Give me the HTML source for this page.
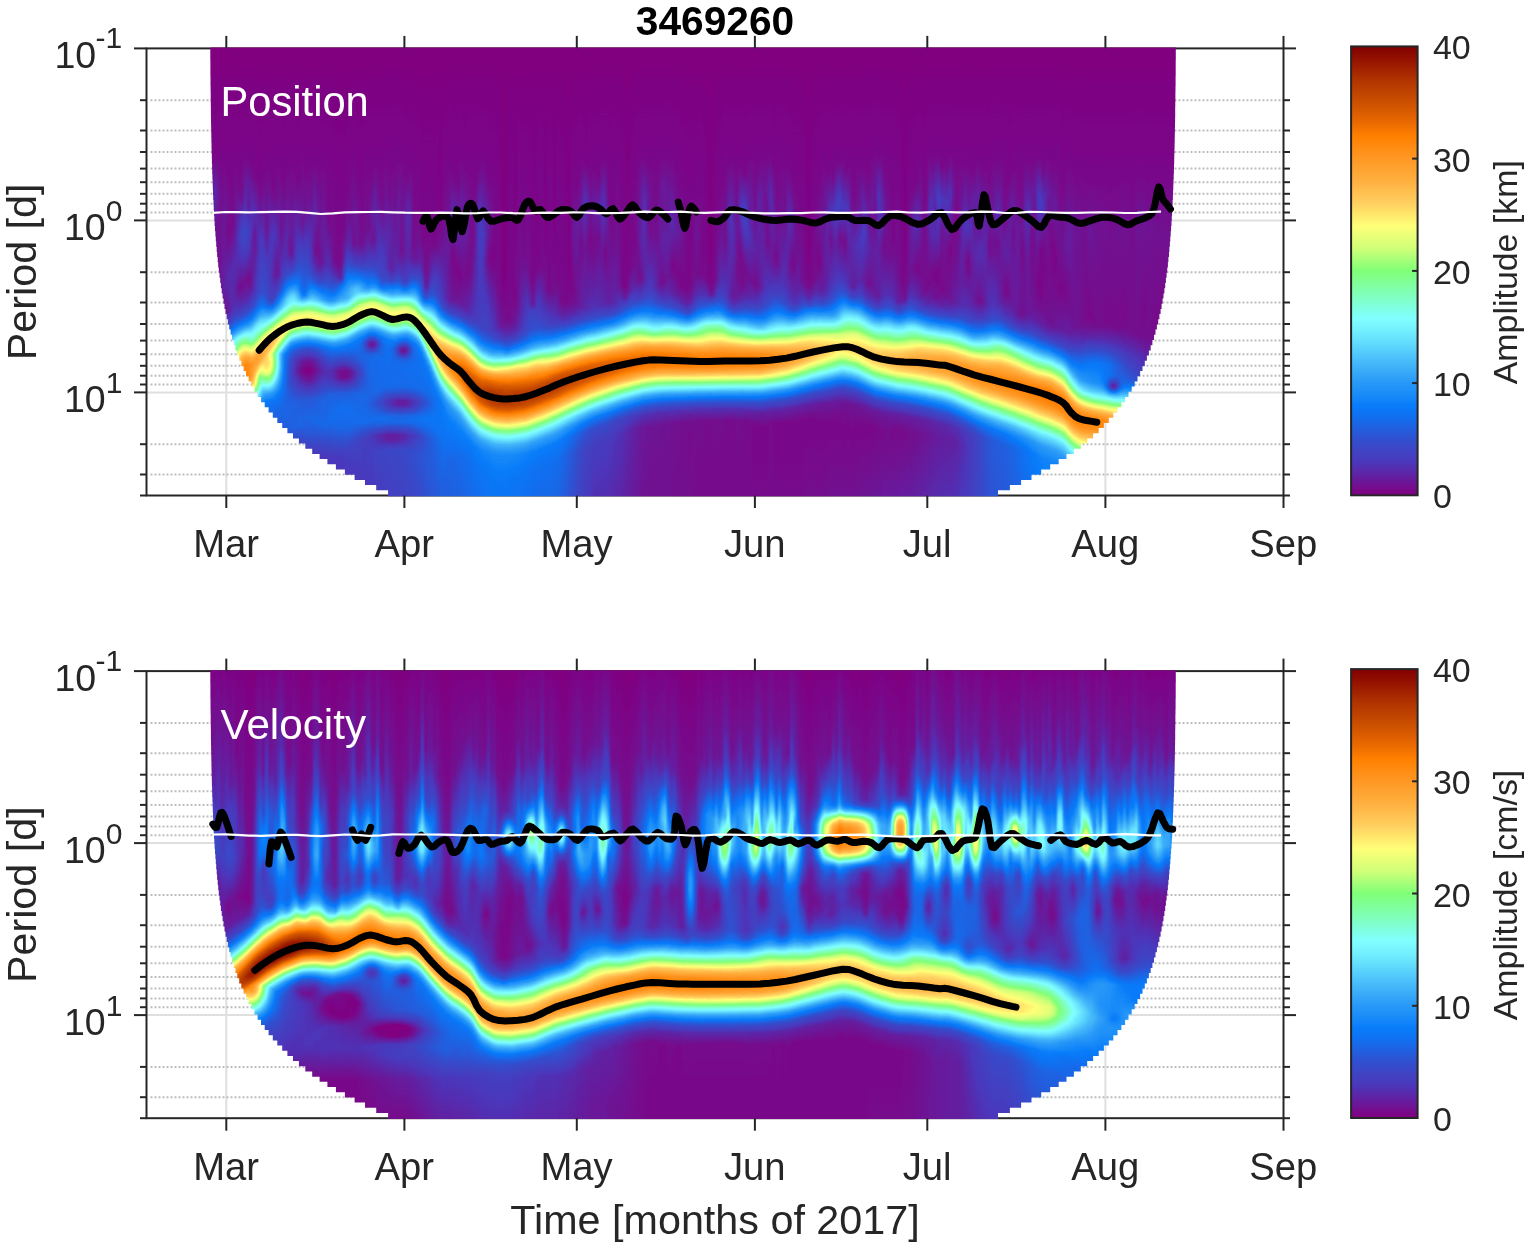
<!DOCTYPE html>
<html><head><meta charset="utf-8"><style>
html,body{margin:0;padding:0;background:#fff;}
#c{position:relative;width:1533px;height:1253px;overflow:hidden;background:#fff;}
svg{position:absolute;left:0;top:0;}
.fld{position:absolute;overflow:hidden;}
.fld{filter:url(#cm);}
.fld i{position:absolute;top:0;width:3px;height:100%;display:block;}
</style></head><body><div id="c">
<svg width="1533" height="1253" viewBox="0 0 1533 1253"><defs><filter id="cm" color-interpolation-filters="sRGB" x="0" y="0" width="1" height="1"><feGaussianBlur stdDeviation="1.3 0"/><feComponentTransfer><feFuncR type="table" tableValues="0.502 0.471 0.439 0.4 0.361 0.325 0.29 0.269 0.247 0.218 0.188 0.157 0.125 0.094 0.063 0.047 0.031 0.067 0.102 0.129 0.157 0.188 0.22 0.251 0.282 0.314 0.345 0.376 0.408 0.439 0.471 0.49 0.502 0.502 0.502 0.502 0.502 0.502 0.502 0.502 0.502 0.58 0.659 0.737 0.816 0.862 0.908 0.954 1 1 1 1 1 1 1 1 1 1 1 1 1 1 1 1 1 0.965 0.931 0.897 0.865 0.832 0.8 0.773 0.745 0.718 0.69 0.66 0.63 0.6 0.568 0.535 0.502"/><feFuncG type="table" tableValues="0 0.035 0.071 0.11 0.149 0.184 0.22 0.243 0.267 0.29 0.314 0.345 0.376 0.408 0.439 0.463 0.486 0.518 0.549 0.573 0.596 0.631 0.667 0.702 0.737 0.776 0.816 0.855 0.894 0.925 0.957 0.984 1 1 1 1 1 1 1 1 1 1 1 1 1 1 1 1 1 0.954 0.908 0.862 0.816 0.784 0.753 0.722 0.69 0.667 0.643 0.62 0.596 0.573 0.549 0.525 0.502 0.466 0.43 0.397 0.369 0.341 0.314 0.286 0.259 0.231 0.204 0.167 0.13 0.093 0.06 0.03 0"/><feFuncB type="table" tableValues="0.502 0.541 0.58 0.62 0.659 0.698 0.737 0.753 0.769 0.792 0.816 0.847 0.878 0.91 0.941 0.961 0.98 0.976 0.973 0.973 0.973 0.973 0.973 0.976 0.98 0.984 0.988 0.992 0.996 0.998 1 1 0.974 0.91 0.845 0.781 0.716 0.654 0.593 0.532 0.471 0.471 0.471 0.471 0.471 0.471 0.471 0.471 0.471 0.447 0.424 0.4 0.376 0.345 0.314 0.282 0.251 0.224 0.196 0.169 0.141 0.106 0.071 0.035 0 0 0 0 0 0 0 0 0 0 0 0 0 0 0 0 0"/></feComponentTransfer></filter></defs><line x1="226.3" y1="48.4" x2="226.3" y2="495.5" stroke="#dfdfdf" stroke-width="2"/>
<line x1="404.4" y1="48.4" x2="404.4" y2="495.5" stroke="#dfdfdf" stroke-width="2"/>
<line x1="576.8" y1="48.4" x2="576.8" y2="495.5" stroke="#dfdfdf" stroke-width="2"/>
<line x1="754.9" y1="48.4" x2="754.9" y2="495.5" stroke="#dfdfdf" stroke-width="2"/>
<line x1="927.3" y1="48.4" x2="927.3" y2="495.5" stroke="#dfdfdf" stroke-width="2"/>
<line x1="1105.4" y1="48.4" x2="1105.4" y2="495.5" stroke="#dfdfdf" stroke-width="2"/>
<line x1="146.5" y1="220.4" x2="1283.5" y2="220.4" stroke="#dfdfdf" stroke-width="2"/>
<line x1="146.5" y1="392.4" x2="1283.5" y2="392.4" stroke="#dfdfdf" stroke-width="2"/>
<line x1="150.5" y1="100.2" x2="1283.5" y2="100.2" stroke="#bdbdbd" stroke-width="2" stroke-dasharray="2 2"/>
<line x1="150.5" y1="130.5" x2="1283.5" y2="130.5" stroke="#bdbdbd" stroke-width="2" stroke-dasharray="2 2"/>
<line x1="150.5" y1="152.0" x2="1283.5" y2="152.0" stroke="#bdbdbd" stroke-width="2" stroke-dasharray="2 2"/>
<line x1="150.5" y1="168.6" x2="1283.5" y2="168.6" stroke="#bdbdbd" stroke-width="2" stroke-dasharray="2 2"/>
<line x1="150.5" y1="182.2" x2="1283.5" y2="182.2" stroke="#bdbdbd" stroke-width="2" stroke-dasharray="2 2"/>
<line x1="150.5" y1="193.8" x2="1283.5" y2="193.8" stroke="#bdbdbd" stroke-width="2" stroke-dasharray="2 2"/>
<line x1="150.5" y1="203.7" x2="1283.5" y2="203.7" stroke="#bdbdbd" stroke-width="2" stroke-dasharray="2 2"/>
<line x1="150.5" y1="212.5" x2="1283.5" y2="212.5" stroke="#bdbdbd" stroke-width="2" stroke-dasharray="2 2"/>
<line x1="150.5" y1="272.2" x2="1283.5" y2="272.2" stroke="#bdbdbd" stroke-width="2" stroke-dasharray="2 2"/>
<line x1="150.5" y1="302.5" x2="1283.5" y2="302.5" stroke="#bdbdbd" stroke-width="2" stroke-dasharray="2 2"/>
<line x1="150.5" y1="324.0" x2="1283.5" y2="324.0" stroke="#bdbdbd" stroke-width="2" stroke-dasharray="2 2"/>
<line x1="150.5" y1="340.6" x2="1283.5" y2="340.6" stroke="#bdbdbd" stroke-width="2" stroke-dasharray="2 2"/>
<line x1="150.5" y1="354.2" x2="1283.5" y2="354.2" stroke="#bdbdbd" stroke-width="2" stroke-dasharray="2 2"/>
<line x1="150.5" y1="365.8" x2="1283.5" y2="365.8" stroke="#bdbdbd" stroke-width="2" stroke-dasharray="2 2"/>
<line x1="150.5" y1="375.7" x2="1283.5" y2="375.7" stroke="#bdbdbd" stroke-width="2" stroke-dasharray="2 2"/>
<line x1="150.5" y1="384.5" x2="1283.5" y2="384.5" stroke="#bdbdbd" stroke-width="2" stroke-dasharray="2 2"/>
<line x1="150.5" y1="444.2" x2="1283.5" y2="444.2" stroke="#bdbdbd" stroke-width="2" stroke-dasharray="2 2"/>
<line x1="150.5" y1="474.5" x2="1283.5" y2="474.5" stroke="#bdbdbd" stroke-width="2" stroke-dasharray="2 2"/>
<line x1="226.3" y1="671.1" x2="226.3" y2="1118.2" stroke="#dfdfdf" stroke-width="2"/>
<line x1="404.4" y1="671.1" x2="404.4" y2="1118.2" stroke="#dfdfdf" stroke-width="2"/>
<line x1="576.8" y1="671.1" x2="576.8" y2="1118.2" stroke="#dfdfdf" stroke-width="2"/>
<line x1="754.9" y1="671.1" x2="754.9" y2="1118.2" stroke="#dfdfdf" stroke-width="2"/>
<line x1="927.3" y1="671.1" x2="927.3" y2="1118.2" stroke="#dfdfdf" stroke-width="2"/>
<line x1="1105.4" y1="671.1" x2="1105.4" y2="1118.2" stroke="#dfdfdf" stroke-width="2"/>
<line x1="146.5" y1="843.1" x2="1283.5" y2="843.1" stroke="#dfdfdf" stroke-width="2"/>
<line x1="146.5" y1="1015.1" x2="1283.5" y2="1015.1" stroke="#dfdfdf" stroke-width="2"/>
<line x1="150.5" y1="722.9" x2="1283.5" y2="722.9" stroke="#bdbdbd" stroke-width="2" stroke-dasharray="2 2"/>
<line x1="150.5" y1="753.2" x2="1283.5" y2="753.2" stroke="#bdbdbd" stroke-width="2" stroke-dasharray="2 2"/>
<line x1="150.5" y1="774.7" x2="1283.5" y2="774.7" stroke="#bdbdbd" stroke-width="2" stroke-dasharray="2 2"/>
<line x1="150.5" y1="791.3" x2="1283.5" y2="791.3" stroke="#bdbdbd" stroke-width="2" stroke-dasharray="2 2"/>
<line x1="150.5" y1="804.9" x2="1283.5" y2="804.9" stroke="#bdbdbd" stroke-width="2" stroke-dasharray="2 2"/>
<line x1="150.5" y1="816.5" x2="1283.5" y2="816.5" stroke="#bdbdbd" stroke-width="2" stroke-dasharray="2 2"/>
<line x1="150.5" y1="826.4" x2="1283.5" y2="826.4" stroke="#bdbdbd" stroke-width="2" stroke-dasharray="2 2"/>
<line x1="150.5" y1="835.2" x2="1283.5" y2="835.2" stroke="#bdbdbd" stroke-width="2" stroke-dasharray="2 2"/>
<line x1="150.5" y1="894.9" x2="1283.5" y2="894.9" stroke="#bdbdbd" stroke-width="2" stroke-dasharray="2 2"/>
<line x1="150.5" y1="925.2" x2="1283.5" y2="925.2" stroke="#bdbdbd" stroke-width="2" stroke-dasharray="2 2"/>
<line x1="150.5" y1="946.7" x2="1283.5" y2="946.7" stroke="#bdbdbd" stroke-width="2" stroke-dasharray="2 2"/>
<line x1="150.5" y1="963.3" x2="1283.5" y2="963.3" stroke="#bdbdbd" stroke-width="2" stroke-dasharray="2 2"/>
<line x1="150.5" y1="976.9" x2="1283.5" y2="976.9" stroke="#bdbdbd" stroke-width="2" stroke-dasharray="2 2"/>
<line x1="150.5" y1="988.5" x2="1283.5" y2="988.5" stroke="#bdbdbd" stroke-width="2" stroke-dasharray="2 2"/>
<line x1="150.5" y1="998.4" x2="1283.5" y2="998.4" stroke="#bdbdbd" stroke-width="2" stroke-dasharray="2 2"/>
<line x1="150.5" y1="1007.2" x2="1283.5" y2="1007.2" stroke="#bdbdbd" stroke-width="2" stroke-dasharray="2 2"/>
<line x1="150.5" y1="1066.9" x2="1283.5" y2="1066.9" stroke="#bdbdbd" stroke-width="2" stroke-dasharray="2 2"/>
<line x1="150.5" y1="1097.2" x2="1283.5" y2="1097.2" stroke="#bdbdbd" stroke-width="2" stroke-dasharray="2 2"/><rect x="146.5" y="48.4" width="1137.0" height="447.1" fill="none" stroke="#262626" stroke-width="2"/>
<rect x="146.5" y="671.1" width="1137.0" height="447.1" fill="none" stroke="#262626" stroke-width="2"/></svg>
<div class="fld" style="left:205px;top:47px;width:977px;height:451px;clip-path:polygon(5.3px 0.5px,5.3px 8.1px,5.3px 8.1px,5.3px 13.3px,5.4px 13.3px,5.4px 18.5px,5.4px 18.5px,5.4px 23.6px,5.4px 23.6px,5.4px 28.8px,5.5px 28.8px,5.5px 34.0px,5.5px 34.0px,5.5px 39.2px,5.6px 39.2px,5.6px 44.4px,5.7px 44.4px,5.7px 49.5px,5.7px 49.5px,5.7px 54.7px,5.8px 54.7px,5.8px 59.9px,5.9px 59.9px,5.9px 65.1px,5.9px 65.1px,5.9px 70.3px,6.0px 70.3px,6.0px 75.4px,6.1px 75.4px,6.1px 80.6px,6.2px 80.6px,6.2px 85.8px,6.3px 85.8px,6.3px 91.0px,6.4px 91.0px,6.4px 96.2px,6.5px 96.2px,6.5px 101.3px,6.6px 101.3px,6.6px 106.5px,6.8px 106.5px,6.8px 111.7px,6.9px 111.7px,6.9px 116.9px,7.1px 116.9px,7.1px 122.1px,7.2px 122.1px,7.2px 127.2px,7.4px 127.2px,7.4px 132.4px,7.6px 132.4px,7.6px 137.6px,7.8px 137.6px,7.8px 142.8px,8.0px 142.8px,8.0px 148.0px,8.2px 148.0px,8.2px 153.1px,8.5px 153.1px,8.5px 158.3px,8.7px 158.3px,8.7px 163.5px,9.0px 163.5px,9.0px 168.7px,9.3px 168.7px,9.3px 173.9px,9.6px 173.9px,9.6px 179.0px,10.0px 179.0px,10.0px 184.2px,10.4px 184.2px,10.4px 189.4px,10.8px 189.4px,10.8px 194.6px,11.2px 194.6px,11.2px 199.8px,11.7px 199.8px,11.7px 204.9px,12.1px 204.9px,12.1px 210.1px,12.7px 210.1px,12.7px 215.3px,13.2px 215.3px,13.2px 220.5px,13.8px 220.5px,13.8px 225.7px,14.5px 225.7px,14.5px 230.8px,15.2px 230.8px,15.2px 236.0px,15.9px 236.0px,15.9px 241.2px,16.7px 241.2px,16.7px 246.4px,17.6px 246.4px,17.6px 251.6px,18.5px 251.6px,18.5px 256.7px,19.5px 256.7px,19.5px 261.9px,20.5px 261.9px,20.5px 267.1px,21.7px 267.1px,21.7px 272.3px,22.9px 272.3px,22.9px 277.5px,24.2px 277.5px,24.2px 282.6px,25.6px 282.6px,25.6px 287.8px,27.1px 287.8px,27.1px 293.0px,28.7px 293.0px,28.7px 298.2px,30.4px 298.2px,30.4px 303.4px,32.2px 303.4px,32.2px 308.5px,34.2px 308.5px,34.2px 313.7px,36.3px 313.7px,36.3px 318.9px,38.6px 318.9px,38.6px 324.1px,41.0px 324.1px,41.0px 329.3px,43.6px 329.3px,43.6px 334.4px,46.4px 334.4px,46.4px 339.6px,49.4px 339.6px,49.4px 344.8px,52.6px 344.8px,52.6px 350.0px,56.0px 350.0px,56.0px 355.2px,59.7px 355.2px,59.7px 360.3px,63.6px 360.3px,63.6px 365.5px,67.8px 365.5px,67.8px 370.7px,72.3px 370.7px,72.3px 375.9px,77.2px 375.9px,77.2px 381.1px,82.4px 381.1px,82.4px 386.2px,88.0px 386.2px,88.0px 391.4px,93.9px 391.4px,93.9px 396.6px,100.3px 396.6px,100.3px 401.8px,107.2px 401.8px,107.2px 407.0px,114.6px 407.0px,114.6px 412.1px,122.4px 412.1px,122.4px 417.3px,130.9px 417.3px,130.9px 422.5px,139.9px 422.5px,139.9px 427.7px,149.6px 427.7px,149.6px 432.9px,160.0px 432.9px,160.0px 438.0px,171.2px 438.0px,171.2px 443.2px,183.1px 443.2px,183.1px 449.3px,793.0px 449.3px,793.0px 443.2px,804.9px 443.2px,804.9px 438.0px,816.1px 438.0px,816.1px 432.9px,826.5px 432.9px,826.5px 427.7px,836.2px 427.7px,836.2px 422.5px,845.2px 422.5px,845.2px 417.3px,853.7px 417.3px,853.7px 412.1px,861.5px 412.1px,861.5px 407.0px,868.9px 407.0px,868.9px 401.8px,875.8px 401.8px,875.8px 396.6px,882.2px 396.6px,882.2px 391.4px,888.1px 391.4px,888.1px 386.2px,893.7px 386.2px,893.7px 381.1px,898.9px 381.1px,898.9px 375.9px,903.8px 375.9px,903.8px 370.7px,908.3px 370.7px,908.3px 365.5px,912.5px 365.5px,912.5px 360.3px,916.4px 360.3px,916.4px 355.2px,920.1px 355.2px,920.1px 350.0px,923.5px 350.0px,923.5px 344.8px,926.7px 344.8px,926.7px 339.6px,929.7px 339.6px,929.7px 334.4px,932.5px 334.4px,932.5px 329.3px,935.1px 329.3px,935.1px 324.1px,937.5px 324.1px,937.5px 318.9px,939.8px 318.9px,939.8px 313.7px,941.9px 313.7px,941.9px 308.5px,943.9px 308.5px,943.9px 303.4px,945.7px 303.4px,945.7px 298.2px,947.4px 298.2px,947.4px 293.0px,949.0px 293.0px,949.0px 287.8px,950.5px 287.8px,950.5px 282.6px,951.9px 282.6px,951.9px 277.5px,953.2px 277.5px,953.2px 272.3px,954.4px 272.3px,954.4px 267.1px,955.6px 267.1px,955.6px 261.9px,956.6px 261.9px,956.6px 256.7px,957.6px 256.7px,957.6px 251.6px,958.5px 251.6px,958.5px 246.4px,959.4px 246.4px,959.4px 241.2px,960.2px 241.2px,960.2px 236.0px,960.9px 236.0px,960.9px 230.8px,961.6px 230.8px,961.6px 225.7px,962.3px 225.7px,962.3px 220.5px,962.9px 220.5px,962.9px 215.3px,963.4px 215.3px,963.4px 210.1px,964.0px 210.1px,964.0px 204.9px,964.4px 204.9px,964.4px 199.8px,964.9px 199.8px,964.9px 194.6px,965.3px 194.6px,965.3px 189.4px,965.7px 189.4px,965.7px 184.2px,966.1px 184.2px,966.1px 179.0px,966.5px 179.0px,966.5px 173.9px,966.8px 173.9px,966.8px 168.7px,967.1px 168.7px,967.1px 163.5px,967.4px 163.5px,967.4px 158.3px,967.6px 158.3px,967.6px 153.1px,967.9px 153.1px,967.9px 148.0px,968.1px 148.0px,968.1px 142.8px,968.3px 142.8px,968.3px 137.6px,968.5px 137.6px,968.5px 132.4px,968.7px 132.4px,968.7px 127.2px,968.9px 127.2px,968.9px 122.1px,969.0px 122.1px,969.0px 116.9px,969.2px 116.9px,969.2px 111.7px,969.3px 111.7px,969.3px 106.5px,969.5px 106.5px,969.5px 101.3px,969.6px 101.3px,969.6px 96.2px,969.7px 96.2px,969.7px 91.0px,969.8px 91.0px,969.8px 85.8px,969.9px 85.8px,969.9px 80.6px,970.0px 80.6px,970.0px 75.4px,970.1px 75.4px,970.1px 70.3px,970.2px 70.3px,970.2px 65.1px,970.2px 65.1px,970.2px 59.9px,970.3px 59.9px,970.3px 54.7px,970.4px 54.7px,970.4px 49.5px,970.4px 49.5px,970.4px 44.4px,970.5px 44.4px,970.5px 39.2px,970.6px 39.2px,970.6px 34.0px,970.6px 34.0px,970.6px 28.8px,970.7px 28.8px,970.7px 23.6px,970.7px 23.6px,970.7px 18.5px,970.7px 18.5px,970.7px 13.3px,970.8px 13.3px,970.8px 8.1px,970.8px 8.1px,970.8px 0.5px)">
<i style="left:0px;background:linear-gradient(#000000,#030303 140px,#090909 210px,#080808 240px,#181818 278px,#272727 289px,#404040 297px,#787878 313px,#acacac 327px,#b7b7b7 333px,#b5b5b5 339px,#a3a3a3 346px,#484848 367px,#313131 376px,#1b1b1b 394px,#101010 412px,#0d0d0d 450px)"></i>
<i style="left:3px;background:linear-gradient(#000000,#030303 133px,#050505 177px,#0a0a0a 210px,#0e0e0e 255px,#191919 277px,#292929 288px,#424242 296px,#7f7f7f 314px,#aeaeae 327px,#b8b8b8 333px,#b4b4b4 339px,#a2a2a2 346px,#4b4b4b 366px,#343434 374px,#1f1f1f 389px,#101010 410px,#0d0d0d 450px)"></i>
<i style="left:6px;background:linear-gradient(#000000,#030303 112px,#0b0b0b 151px,#0a0a0a 230px,#141414 270px,#222222 283px,#383838 292px,#515151 299px,#777777 311px,#afafaf 327px,#b8b8b8 333px,#b4b4b4 339px,#a0a0a0 346px,#494949 366px,#333333 374px,#1d1d1d 391px,#101010 411px,#0d0d0d 450px)"></i>
<i style="left:9px;background:linear-gradient(#000000,#020202 109px,#0e0e0e 144px,#070707 177px,#050505 206px,#060606 224px,#131313 270px,#232323 283px,#3b3b3b 292px,#555555 299px,#7d7d7d 312px,#aeaeae 326px,#b8b8b8 332px,#b5b5b5 338px,#a3a3a3 345px,#4b4b4b 365px,#343434 373px,#1f1f1f 389px,#101010 410px,#0d0d0d 450px)"></i>
<i style="left:12px;background:linear-gradient(#000000,#030303 111px,#080808 146px,#060606 178px,#050505 206px,#040404 222px,#0b0b0b 252px,#101010 270px,#212121 282px,#393939 291px,#545454 298px,#7c7c7c 311px,#b0b0b0 326px,#b9b9b9 332px,#b5b5b5 338px,#a1a1a1 345px,#4a4a4a 365px,#343434 373px,#1e1e1e 390px,#101010 410px,#0d0d0d 450px)"></i>
<i style="left:15px;background:linear-gradient(#000000,#030303 125px,#060606 173px,#090909 250px,#0a0a0a 266px,#1a1a1a 279px,#343434 289px,#565656 298px,#7d7d7d 311px,#b1b1b1 326px,#b9b9b9 332px,#b5b5b5 338px,#a0a0a0 345px,#4c4c4c 364px,#353535 372px,#202020 388px,#101010 410px,#0d0d0d 450px)"></i>
<i style="left:18px;background:linear-gradient(#000000,#030303 117px,#080808 160px,#080808 197px,#0c0c0c 240px,#060606 264px,#161616 277px,#2f2f2f 287px,#555555 297px,#7c7c7c 310px,#b0b0b0 325px,#bababa 331px,#b6b6b6 337px,#a2a2a2 344px,#4a4a4a 364px,#343434 372px,#1f1f1f 389px,#101010 410px,#0d0d0d 450px)"></i>
<i style="left:21px;background:linear-gradient(#000000,#030303 129px,#060606 162px,#030303 187px,#0e0e0e 229px,#080808 264px,#161616 276px,#2e2e2e 286px,#545454 296px,#777777 308px,#b0b0b0 324px,#bababa 330px,#b7b7b7 336px,#a3a3a3 343px,#4b4b4b 363px,#343434 371px,#212121 387px,#101010 410px,#0d0d0d 450px)"></i>
<i style="left:24px;background:linear-gradient(#000000,#030303 120px,#040404 163px,#050505 187px,#0f0f0f 228px,#0d0d0d 263px,#191919 275px,#313131 285px,#555555 295px,#6f6f6f 305px,#b0b0b0 323px,#bababa 329px,#b7b7b7 335px,#a4a4a4 342px,#4c4c4c 362px,#343434 370px,#222222 386px,#101010 410px,#0d0d0d 450px)"></i>
<i style="left:27px;background:linear-gradient(#000000,#030303 124px,#040404 179px,#0f0f0f 218px,#0e0e0e 258px,#181818 271px,#2d2d2d 281px,#525252 291px,#5d5d5d 294px,#797979 307px,#b1b1b1 322px,#bbbbbb 328px,#b7b7b7 334px,#a4a4a4 341px,#4c4c4c 361px,#353535 369px,#242424 383px,#111111 409px,#0d0d0d 450px)"></i>
<i style="left:30px;background:linear-gradient(#000000,#030303 115px,#0c0c0c 183px,#101010 212px,#0a0a0a 245px,#141414 265px,#262626 276px,#434343 285px,#666666 293px,#8c8c8c 308px,#a0a0a0 316px,#b6b6b6 323px,#bbbbbb 329px,#b4b4b4 335px,#989898 343px,#4c4c4c 360px,#353535 368px,#262626 380px,#111111 409px,#0d0d0d 450px)"></i>
<i style="left:33px;background:linear-gradient(#000000,#030303 142px,#161616 190px,#0f0f0f 217px,#040404 241px,#141414 264px,#282828 275px,#474747 284px,#6c6c6c 292px,#9f9f9f 308px,#b1b1b1 317px,#bcbcbc 327px,#b6b6b6 333px,#a0a0a0 340px,#4c4c4c 359px,#353535 367px,#272727 378px,#111111 409px,#0d0d0d 450px)"></i>
<i style="left:36px;background:linear-gradient(#000000,#030303 114px,#060606 151px,#1b1b1b 184px,#171717 203px,#040404 239px,#101010 258px,#222222 271px,#3c3c3c 280px,#6d6d6d 291px,#b1b1b1 310px,#c1c1c1 318px,#c3c3c3 328px,#b7b7b7 335px,#999999 343px,#4c4c4c 359px,#353535 366px,#292929 375px,#101010 410px,#0d0d0d 450px)"></i>
<i style="left:39px;background:linear-gradient(#000000,#030303 111px,#151515 168px,#1c1c1c 189px,#060606 233px,#0d0d0d 252px,#1e1e1e 267px,#373737 277px,#5d5d5d 286px,#b9b9b9 311px,#c7c7c7 318px,#c9c9c9 327px,#bebebe 334px,#a6a6a6 341px,#494949 360px,#333333 367px,#282828 376px,#101010 410px,#0d0d0d 450px)"></i>
<i style="left:42px;background:linear-gradient(#000000,#030303 110px,#0a0a0a 142px,#080808 159px,#171717 184px,#131313 204px,#030303 234px,#121212 256px,#282828 270px,#424242 279px,#606060 286px,#7b7b7b 295px,#b9b9b9 311px,#c7c7c7 318px,#c7c7c7 328px,#bbbbbb 335px,#9d9d9d 343px,#4d4d4d 359px,#353535 366px,#292929 374px,#101010 410px,#0d0d0d 450px)"></i>
<i style="left:45px;background:linear-gradient(#000000,#030303 119px,#0e0e0e 154px,#131313 179px,#070707 227px,#080808 240px,#1a1a1a 259px,#303030 271px,#4d4d4d 280px,#5b5b5b 284px,#6f6f6f 293px,#b3b3b3 311px,#c0c0c0 318px,#bebebe 329px,#b0b0b0 336px,#929292 344px,#4b4b4b 359px,#323232 367px,#272727 377px,#101010 410px,#0d0d0d 450px)"></i>
<i style="left:48px;background:linear-gradient(#000000,#030303 129px,#111111 167px,#060606 189px,#080808 200px,#0d0d0d 225px,#111111 245px,#212121 260px,#3a3a3a 271px,#5b5b5b 281px,#717171 291px,#9a9a9a 302px,#b6b6b6 310px,#bdbdbd 316px,#b7b7b7 322px,#adadad 328px,#a0a0a0 336px,#808080 345px,#454545 359px,#303030 367px,#252525 380px,#101010 410px,#0d0d0d 450px)"></i>
<i style="left:51px;background:linear-gradient(#000000,#030303 131px,#0f0f0f 175px,#0e0e0e 203px,#181818 245px,#282828 259px,#3f3f3f 269px,#595959 277px,#6c6c6c 286px,#8f8f8f 296px,#b1b1b1 305px,#bcbcbc 311px,#b8b8b8 317px,#a4a4a4 324px,#929292 329px,#838383 338px,#585858 351px,#373737 362px,#2a2a2a 371px,#101010 411px,#0d0d0d 450px)"></i>
<i style="left:54px;background:linear-gradient(#000000,#030303 149px,#131313 192px,#1d1d1d 244px,#2c2c2c 258px,#454545 268px,#575757 274px,#6b6b6b 283px,#959595 294px,#b2b2b2 302px,#b9b9b9 308px,#b3b3b3 314px,#919191 324px,#777777 332px,#333333 361px,#282828 372px,#1a1a1a 395px,#101010 413px,#0d0d0d 450px)"></i>
<i style="left:57px;background:linear-gradient(#000000,#030303 131px,#1f1f1f 246px,#2d2d2d 258px,#464646 267px,#656565 279px,#acacac 297px,#b7b7b7 303px,#b2b2b2 309px,#a1a1a1 317px,#979797 324px,#787878 333px,#4d4d4d 344px,#383838 353px,#2a2a2a 366px,#1f1f1f 389px,#101010 411px,#0d0d0d 450px)"></i>
<i style="left:60px;background:linear-gradient(#000000,#030303 117px,#070707 157px,#050505 183px,#151515 213px,#1d1d1d 249px,#2a2a2a 258px,#5e5e5e 275px,#a9a9a9 293px,#b4b4b4 299px,#afafaf 305px,#a4a4a4 310px,#a3a3a3 319px,#959595 326px,#6e6e6e 336px,#434343 347px,#303030 355px,#282828 369px,#212121 387px,#101010 410px,#0d0d0d 450px)"></i>
<i style="left:63px;background:linear-gradient(#000000,#030303 123px,#111111 199px,#181818 251px,#222222 257px,#585858 272px,#a1a1a1 288px,#b0b0b0 294px,#b1b1b1 299px,#a3a3a3 305px,#9b9b9b 307px,#a0a0a0 316px,#999999 323px,#808080 331px,#444444 346px,#313131 354px,#282828 366px,#222222 385px,#101010 410px,#0d0d0d 450px)"></i>
<i style="left:66px;background:linear-gradient(#000000,#030303 142px,#141414 190px,#0f0f0f 230px,#181818 253px,#2a2a2a 259px,#5b5b5b 271px,#9d9d9d 285px,#adadad 291px,#adadad 296px,#9e9e9e 302px,#8b8b8b 307px,#929292 315px,#8b8b8b 323px,#717171 332px,#404040 346px,#2f2f2f 355px,#282828 370px,#222222 386px,#101010 410px,#0d0d0d 450px)"></i>
<i style="left:69px;background:linear-gradient(#000000,#040404 150px,#121212 187px,#0a0a0a 215px,#080808 228px,#1a1a1a 249px,#2b2b2b 256px,#4f4f4f 266px,#9b9b9b 282px,#a9a9a9 287px,#ababab 292px,#a0a0a0 297px,#7c7c7c 305px,#757575 307px,#7b7b7b 316px,#717171 325px,#383838 347px,#2b2b2b 358px,#232323 384px,#101010 410px,#0d0d0d 450px)"></i>
<i style="left:72px;background:linear-gradient(#000000,#030303 118px,#0e0e0e 194px,#090909 227px,#1b1b1b 244px,#2f2f2f 253px,#4e4e4e 263px,#999999 279px,#a6a6a6 284px,#a7a7a7 289px,#9a9a9a 294px,#6f6f6f 303px,#5f5f5f 306px,#5d5d5d 308px,#5f5f5f 319px,#515151 330px,#323232 347px,#292929 362px,#242424 383px,#101010 410px,#0d0d0d 450px)"></i>
<i style="left:75px;background:linear-gradient(#000000,#030303 131px,#080808 163px,#050505 182px,#141414 230px,#262626 244px,#525252 261px,#999999 277px,#a4a4a4 282px,#a1a1a1 287px,#8d8d8d 293px,#464646 307px,#434343 323px,#2c2c2c 349px,#252525 383px,#101010 410px,#0d0d0d 450px)"></i>
<i style="left:78px;background:linear-gradient(#000000,#030303 140px,#090909 176px,#131313 219px,#242424 236px,#3a3a3a 247px,#494949 252px,#565656 259px,#767676 267px,#989898 275px,#a1a1a1 280px,#9c9c9c 285px,#848484 291px,#454545 303px,#333333 308px,#292929 353px,#262626 381px,#101010 410px,#0d0d0d 450px)"></i>
<i style="left:81px;background:linear-gradient(#000000,#030303 121px,#0d0d0d 180px,#0e0e0e 209px,#1d1d1d 227px,#363636 241px,#525252 251px,#5d5d5d 258px,#7c7c7c 266px,#989898 273px,#a0a0a0 278px,#989898 283px,#7d7d7d 289px,#424242 300px,#2b2b2b 307px,#252525 315px,#232323 336px,#292929 369px,#242424 384px,#101010 410px,#0d0d0d 450px)"></i>
<i style="left:84px;background:linear-gradient(#000000,#030303 120px,#090909 186px,#050505 204px,#181818 223px,#313131 237px,#4f4f4f 247px,#565656 250px,#626262 257px,#999999 271px,#9f9f9f 276px,#959595 281px,#777777 287px,#404040 297px,#292929 304px,#1e1e1e 312px,#1a1a1a 327px,#282828 358px,#262626 381px,#101010 410px,#0d0d0d 450px)"></i>
<i style="left:87px;background:linear-gradient(#000000,#030303 114px,#070707 153px,#0a0a0a 175px,#0b0b0b 207px,#1c1c1c 224px,#373737 238px,#555555 248px,#606060 255px,#838383 264px,#999999 270px,#9e9e9e 275px,#939393 280px,#6f6f6f 287px,#3d3d3d 296px,#262626 303px,#161616 314px,#131313 327px,#272727 356px,#272727 380px,#101010 410px,#0d0d0d 450px)"></i>
<i style="left:90px;background:linear-gradient(#000000,#030303 132px,#111111 191px,#191919 215px,#2d2d2d 233px,#454545 244px,#4e4e4e 248px,#5a5a5a 254px,#959595 268px,#9e9e9e 273px,#9a9a9a 277px,#868686 282px,#3e3e3e 295px,#252525 302px,#121212 313px,#0c0c0c 324px,#171717 338px,#262626 355px,#282828 379px,#101010 410px,#0d0d0d 450px)"></i>
<i style="left:93px;background:linear-gradient(#000000,#030303 135px,#0d0d0d 182px,#242424 226px,#353535 242px,#4c4c4c 252px,#777777 261px,#969696 268px,#9d9d9d 273px,#979797 277px,#838383 282px,#3f3f3f 294px,#252525 301px,#0f0f0f 312px,#070707 323px,#0f0f0f 334px,#242424 353px,#292929 376px,#171717 399px,#101010 414px,#0d0d0d 450px)"></i>
<i style="left:96px;background:linear-gradient(#000000,#030303 112px,#080808 158px,#070707 176px,#242424 229px,#2a2a2a 244px,#363636 249px,#616161 257px,#8c8c8c 265px,#9b9b9b 270px,#9c9c9c 274px,#8e8e8e 279px,#5c5c5c 288px,#343434 296px,#1b1b1b 304px,#070707 316px,#030303 326px,#151515 340px,#252525 355px,#282828 378px,#101010 410px,#0d0d0d 450px)"></i>
<i style="left:99px;background:linear-gradient(#000000,#030303 126px,#070707 165px,#252525 236px,#2b2b2b 244px,#373737 249px,#696969 258px,#8e8e8e 265px,#9c9c9c 270px,#9b9b9b 274px,#8c8c8c 279px,#3a3a3a 294px,#1f1f1f 302px,#060606 315px,#010101 324px,#0a0a0a 334px,#232323 352px,#292929 371px,#232323 386px,#101010 410px,#0d0d0d 450px)"></i>
<i style="left:102px;background:linear-gradient(#000000,#030303 120px,#0a0a0a 167px,#171717 206px,#232323 230px,#313131 241px,#464646 250px,#676767 257px,#8f8f8f 265px,#9c9c9c 270px,#9b9b9b 274px,#8b8b8b 279px,#3e3e3e 293px,#212121 301px,#070707 314px,#000000 323px,#060606 332px,#232323 352px,#292929 371px,#232323 386px,#111111 410px,#0d0d0d 450px)"></i>
<i style="left:105px;background:linear-gradient(#000000,#030303 115px,#060606 156px,#0f0f0f 186px,#121212 214px,#212121 231px,#373737 242px,#444444 247px,#555555 253px,#919191 266px,#9d9d9d 271px,#9a9a9a 275px,#888888 280px,#3b3b3b 294px,#1f1f1f 302px,#070707 315px,#010101 324px,#0a0a0a 334px,#232323 352px,#292929 372px,#232323 387px,#111111 410px,#0d0d0d 450px)"></i>
<i style="left:108px;background:linear-gradient(#000000,#030303 114px,#0e0e0e 165px,#060606 204px,#121212 223px,#252525 236px,#454545 248px,#575757 254px,#939393 267px,#9d9d9d 272px,#989898 276px,#858585 281px,#3d3d3d 294px,#242424 301px,#0c0c0c 313px,#040404 323px,#0b0b0b 333px,#242424 352px,#2a2a2a 373px,#212121 389px,#111111 410px,#0d0d0d 450px)"></i>
<i style="left:111px;background:linear-gradient(#000000,#030303 117px,#090909 166px,#040404 204px,#0e0e0e 223px,#212121 236px,#393939 245px,#4f4f4f 253px,#919191 267px,#9c9c9c 272px,#999999 276px,#878787 281px,#3f3f3f 294px,#262626 301px,#0f0f0f 313px,#080808 324px,#111111 335px,#252525 352px,#2a2a2a 375px,#1d1d1d 394px,#111111 412px,#0e0e0e 450px)"></i>
<i style="left:114px;background:linear-gradient(#000000,#030303 121px,#080808 188px,#060606 216px,#171717 232px,#2e2e2e 243px,#4a4a4a 253px,#717171 261px,#929292 268px,#9c9c9c 273px,#989898 277px,#858585 282px,#424242 294px,#292929 301px,#131313 313px,#0b0b0b 324px,#131313 335px,#262626 352px,#2a2a2a 376px,#121212 411px,#0e0e0e 450px)"></i>
<i style="left:117px;background:linear-gradient(#000000,#030303 118px,#0b0b0b 180px,#0a0a0a 215px,#171717 231px,#2e2e2e 244px,#444444 253px,#666666 260px,#909090 268px,#9c9c9c 273px,#999999 277px,#878787 282px,#404040 295px,#292929 302px,#131313 316px,#0e0e0e 326px,#1b1b1b 339px,#282828 354px,#292929 379px,#121212 410px,#0e0e0e 450px)"></i>
<i style="left:120px;background:linear-gradient(#000000,#040404 162px,#101010 220px,#222222 238px,#3f3f3f 253px,#5b5b5b 259px,#8d8d8d 268px,#9b9b9b 273px,#9a9a9a 277px,#8a8a8a 282px,#434343 295px,#2b2b2b 302px,#141414 318px,#101010 328px,#272727 351px,#2a2a2a 378px,#131313 410px,#0f0f0f 450px)"></i>
<i style="left:123px;background:linear-gradient(#000000,#030303 129px,#030303 175px,#101010 221px,#232323 240px,#3c3c3c 253px,#575757 259px,#8b8b8b 268px,#9a9a9a 273px,#9b9b9b 277px,#8c8c8c 282px,#414141 296px,#2c2c2c 303px,#101010 323px,#111111 331px,#272727 349px,#2b2b2b 375px,#1a1a1a 398px,#131313 414px,#0f0f0f 450px)"></i>
<i style="left:126px;background:linear-gradient(#000000,#030303 138px,#070707 210px,#101010 227px,#282828 244px,#404040 254px,#5d5d5d 260px,#8e8e8e 269px,#9b9b9b 274px,#9a9a9a 278px,#898989 283px,#434343 296px,#2d2d2d 303px,#0e0e0e 324px,#111111 332px,#272727 348px,#2c2c2c 371px,#252525 386px,#131313 410px,#0f0f0f 450px)"></i>
<i style="left:129px;background:linear-gradient(#000000,#040404 216px,#121212 230px,#2d2d2d 245px,#434343 254px,#656565 261px,#8f8f8f 269px,#9c9c9c 274px,#999999 278px,#888888 283px,#434343 296px,#2e2e2e 303px,#0b0b0b 324px,#0c0c0c 331px,#262626 347px,#2c2c2c 365px,#282828 382px,#141414 410px,#0f0f0f 450px)"></i>
<i style="left:132px;background:linear-gradient(#000000,#040404 219px,#0d0d0d 231px,#262626 239px,#484848 254px,#6a6a6a 261px,#8e8e8e 268px,#9b9b9b 273px,#9a9a9a 277px,#8a8a8a 282px,#444444 295px,#323232 301px,#070707 324px,#080808 330px,#262626 347px,#2c2c2c 363px,#292929 381px,#141414 410px,#101010 450px)"></i>
<i style="left:135px;background:linear-gradient(#000000,#040404 212px,#0c0c0c 231px,#121212 233px,#2d2d2d 238px,#3f3f3f 248px,#494949 253px,#636363 259px,#909090 268px,#9c9c9c 273px,#989898 277px,#868686 282px,#464646 294px,#333333 300px,#151515 316px,#040404 325px,#060606 331px,#252525 346px,#2c2c2c 359px,#2a2a2a 380px,#141414 410px,#101010 450px)"></i>
<i style="left:138px;background:linear-gradient(#000000,#030303 182px,#0f0f0f 214px,#1f1f1f 227px,#434343 246px,#464646 251px,#565656 256px,#8f8f8f 267px,#9b9b9b 272px,#999999 276px,#878787 281px,#474747 293px,#343434 299px,#1a1a1a 314px,#040404 324px,#040404 330px,#252525 346px,#2c2c2c 359px,#2a2a2a 379px,#151515 409px,#101010 450px)"></i>
<i style="left:141px;background:linear-gradient(#000000,#030303 143px,#0b0b0b 192px,#181818 213px,#434343 243px,#464646 246px,#494949 251px,#5b5b5b 256px,#8e8e8e 266px,#9a9a9a 270px,#9a9a9a 274px,#8b8b8b 279px,#474747 292px,#343434 298px,#1b1b1b 314px,#050505 324px,#050505 330px,#252525 346px,#2c2c2c 359px,#2a2a2a 379px,#171717 405px,#101010 450px)"></i>
<i style="left:144px;background:linear-gradient(#000000,#030303 125px,#050505 169px,#101010 204px,#242424 223px,#484848 242px,#4e4e4e 250px,#5f5f5f 255px,#909090 265px,#9a9a9a 269px,#999999 273px,#898989 278px,#454545 291px,#333333 297px,#1e1e1e 313px,#080808 324px,#080808 330px,#262626 346px,#2c2c2c 361px,#2a2a2a 379px,#1a1a1a 399px,#141414 420px,#101010 450px)"></i>
<i style="left:147px;background:linear-gradient(#000000,#030303 115px,#080808 162px,#050505 196px,#191919 217px,#363636 233px,#4d4d4d 242px,#525252 248px,#666666 254px,#939393 264px,#9b9b9b 269px,#959595 273px,#7b7b7b 279px,#464646 289px,#343434 295px,#202020 313px,#0c0c0c 325px,#0f0f0f 332px,#272727 346px,#2c2c2c 368px,#282828 380px,#1a1a1a 396px,#141414 420px,#101010 450px)"></i>
<i style="left:150px;background:linear-gradient(#000000,#030303 131px,#080808 169px,#080808 197px,#151515 215px,#2d2d2d 229px,#4d4d4d 241px,#565656 247px,#707070 254px,#939393 262px,#9b9b9b 267px,#969696 271px,#828282 276px,#474747 287px,#343434 293px,#2b2b2b 303px,#1f1f1f 315px,#111111 326px,#171717 334px,#282828 347px,#2c2c2c 375px,#1a1a1a 394px,#131313 429px,#101010 450px)"></i>
<i style="left:153px;background:linear-gradient(#000000,#030303 138px,#070707 198px,#161616 216px,#2e2e2e 230px,#474747 239px,#525252 245px,#6e6e6e 252px,#929292 260px,#9b9b9b 265px,#979797 269px,#848484 274px,#494949 285px,#353535 291px,#2c2c2c 298px,#262626 312px,#181818 326px,#1f1f1f 336px,#292929 348px,#2b2b2b 376px,#1a1a1a 392px,#111111 450px)"></i>
<i style="left:156px;background:linear-gradient(#000000,#030303 164px,#050505 197px,#161616 217px,#303030 232px,#3f3f3f 238px,#4c4c4c 244px,#727272 252px,#929292 259px,#9b9b9b 264px,#979797 268px,#838383 273px,#484848 284px,#303030 291px,#262626 297px,#282828 311px,#1d1d1d 327px,#292929 349px,#2b2b2b 376px,#181818 391px,#111111 450px)"></i>
<i style="left:159px;background:linear-gradient(#000000,#030303 128px,#070707 191px,#131313 213px,#2b2b2b 231px,#424242 242px,#5e5e5e 248px,#8e8e8e 257px,#9b9b9b 262px,#989898 266px,#878787 271px,#474747 283px,#1d1d1d 295px,#1b1b1b 299px,#292929 308px,#232323 330px,#292929 348px,#2a2a2a 363px,#2a2a2a 376px,#171717 391px,#151515 427px,#121212 450px)"></i>
<i style="left:162px;background:linear-gradient(#000000,#030303 119px,#050505 156px,#050505 181px,#121212 210px,#282828 230px,#3a3a3a 240px,#4f4f4f 245px,#898989 255px,#999999 260px,#9a9a9a 264px,#8b8b8b 269px,#424242 283px,#101010 295px,#0c0c0c 298px,#171717 302px,#272727 307px,#292929 315px,#272727 333px,#282828 348px,#272727 360px,#2c2c2c 374px,#1f1f1f 383px,#151515 391px,#171717 408px,#121212 450px)"></i>
<i style="left:165px;background:linear-gradient(#000000,#030303 132px,#090909 166px,#080808 194px,#191919 218px,#2c2c2c 232px,#3d3d3d 240px,#595959 246px,#8c8c8c 255px,#9a9a9a 260px,#999999 264px,#888888 269px,#444444 282px,#222222 290px,#0a0a0a 295px,#060606 299px,#262626 307px,#2b2b2b 313px,#282828 347px,#242424 358px,#2c2c2c 373px,#222222 381px,#141414 389px,#171717 399px,#131313 450px)"></i>
<i style="left:168px;background:linear-gradient(#000000,#030303 116px,#0d0d0d 161px,#060606 192px,#1a1a1a 220px,#2b2b2b 232px,#3e3e3e 240px,#5a5a5a 246px,#8b8b8b 255px,#9a9a9a 260px,#999999 264px,#8a8a8a 269px,#454545 282px,#1f1f1f 291px,#0d0d0d 295px,#090909 298px,#111111 301px,#252525 306px,#2b2b2b 312px,#292929 345px,#212121 357px,#2c2c2c 372px,#252525 379px,#111111 389px,#151515 397px,#191919 408px,#141414 450px)"></i>
<i style="left:171px;background:linear-gradient(#000000,#030303 121px,#131313 209px,#212121 229px,#393939 240px,#555555 246px,#8c8c8c 256px,#9a9a9a 261px,#999999 265px,#898989 270px,#444444 283px,#191919 295px,#161616 298px,#2a2a2a 308px,#2a2a2a 343px,#1e1e1e 356px,#2c2c2c 372px,#252525 379px,#101010 388px,#111111 394px,#1a1a1a 405px,#151515 450px)"></i>
<i style="left:174px;background:linear-gradient(#000000,#030303 116px,#040404 152px,#1b1b1b 228px,#252525 236px,#343434 241px,#5f5f5f 249px,#8c8c8c 257px,#9a9a9a 262px,#999999 266px,#898989 271px,#444444 284px,#2b2b2b 292px,#232323 297px,#2c2c2c 312px,#292929 343px,#1b1b1b 356px,#2c2c2c 371px,#282828 377px,#0e0e0e 388px,#0f0f0f 394px,#1a1a1a 404px,#151515 450px)"></i>
<i style="left:177px;background:linear-gradient(#000000,#030303 116px,#050505 149px,#060606 166px,#111111 197px,#191919 229px,#232323 237px,#333333 242px,#5f5f5f 250px,#8b8b8b 258px,#9a9a9a 263px,#999999 267px,#898989 272px,#454545 285px,#323232 291px,#2a2a2a 298px,#2b2b2b 340px,#1f1f1f 349px,#171717 356px,#202020 363px,#2c2c2c 371px,#282828 377px,#0d0d0d 388px,#0d0d0d 393px,#1a1a1a 404px,#161616 450px)"></i>
<i style="left:180px;background:linear-gradient(#000000,#030303 115px,#0f0f0f 197px,#131313 222px,#1e1e1e 233px,#383838 243px,#5a5a5a 250px,#8b8b8b 259px,#999999 264px,#999999 268px,#8a8a8a 273px,#464646 286px,#343434 292px,#2d2d2d 300px,#2a2a2a 341px,#1b1b1b 350px,#131313 356px,#1c1c1c 362px,#2b2b2b 370px,#292929 376px,#0b0b0b 388px,#0c0c0c 393px,#1a1a1a 403px,#171717 450px)"></i>
<i style="left:183px;background:linear-gradient(#000000,#040404 151px,#0e0e0e 186px,#0c0c0c 221px,#181818 232px,#2b2b2b 239px,#474747 247px,#8a8a8a 260px,#999999 265px,#9a9a9a 269px,#8b8b8b 274px,#474747 287px,#343434 293px,#2c2c2c 302px,#2b2b2b 340px,#202020 347px,#111111 354px,#131313 359px,#292929 369px,#2a2a2a 375px,#1a1a1a 382px,#0a0a0a 388px,#0b0b0b 393px,#1b1b1b 403px,#171717 450px)"></i>
<i style="left:186px;background:linear-gradient(#000000,#030303 121px,#0a0a0a 172px,#0b0b0b 201px,#0c0c0c 224px,#1b1b1b 234px,#454545 247px,#8b8b8b 261px,#999999 266px,#999999 270px,#8b8b8b 275px,#464646 288px,#333333 294px,#292929 302px,#2c2c2c 335px,#252525 344px,#0e0e0e 354px,#101010 359px,#292929 369px,#2a2a2a 375px,#1d1d1d 381px,#0a0a0a 388px,#0b0b0b 393px,#1b1b1b 403px,#181818 443px,#181818 450px)"></i>
<i style="left:189px;background:linear-gradient(#000000,#040404 139px,#060606 166px,#0b0b0b 197px,#0f0f0f 221px,#1d1d1d 233px,#303030 240px,#4b4b4b 248px,#8b8b8b 261px,#999999 266px,#999999 270px,#8b8b8b 275px,#464646 288px,#2d2d2d 296px,#212121 302px,#252525 308px,#2c2c2c 317px,#2a2a2a 340px,#1e1e1e 347px,#0c0c0c 354px,#0c0c0c 358px,#292929 369px,#2a2a2a 375px,#1d1d1d 381px,#0a0a0a 388px,#0b0b0b 393px,#1b1b1b 403px,#191919 442px,#181818 450px)"></i>
<i style="left:192px;background:linear-gradient(#000000,#030303 111px,#0b0b0b 168px,#0a0a0a 209px,#161616 228px,#272727 237px,#484848 247px,#8d8d8d 261px,#9a9a9a 266px,#999999 270px,#898989 275px,#444444 288px,#161616 301px,#131313 304px,#2a2a2a 314px,#2c2c2c 337px,#252525 344px,#0a0a0a 354px,#0b0b0b 358px,#282828 369px,#2a2a2a 375px,#1d1d1d 381px,#0b0b0b 388px,#0c0c0c 393px,#1b1b1b 403px,#191919 443px,#181818 450px)"></i>
<i style="left:195px;background:linear-gradient(#000000,#030303 111px,#070707 145px,#060606 168px,#060606 205px,#151515 230px,#222222 237px,#424242 246px,#8b8b8b 260px,#999999 265px,#999999 269px,#8a8a8a 274px,#464646 287px,#222222 296px,#0b0b0b 301px,#070707 304px,#0f0f0f 307px,#252525 312px,#2c2c2c 318px,#2a2a2a 340px,#1d1d1d 347px,#0a0a0a 354px,#0a0a0a 358px,#282828 369px,#2b2b2b 375px,#1e1e1e 381px,#0c0c0c 388px,#0d0d0d 393px,#1c1c1c 403px,#181818 450px)"></i>
<i style="left:198px;background:linear-gradient(#000000,#030303 126px,#0a0a0a 174px,#080808 206px,#171717 235px,#2d2d2d 242px,#565656 250px,#888888 259px,#989898 264px,#999999 268px,#8c8c8c 273px,#444444 287px,#212121 296px,#090909 301px,#060606 305px,#242424 312px,#2c2c2c 317px,#2a2a2a 340px,#1d1d1d 347px,#0a0a0a 354px,#0b0b0b 358px,#292929 369px,#2b2b2b 375px,#1c1c1c 382px,#0d0d0d 388px,#0e0e0e 393px,#1c1c1c 403px,#191919 450px)"></i>
<i style="left:201px;background:linear-gradient(#000000,#030303 130px,#0f0f0f 168px,#0d0d0d 210px,#181818 233px,#262626 239px,#414141 246px,#878787 259px,#979797 264px,#999999 268px,#8c8c8c 273px,#444444 287px,#1c1c1c 298px,#0f0f0f 302px,#0f0f0f 305px,#282828 313px,#2d2d2d 323px,#292929 341px,#1b1b1b 348px,#0c0c0c 354px,#0c0c0c 358px,#292929 369px,#2b2b2b 375px,#1d1d1d 382px,#0f0f0f 389px,#131313 395px,#1d1d1d 404px,#191919 450px)"></i>
<i style="left:204px;background:linear-gradient(#000000,#030303 121px,#0d0d0d 169px,#0b0b0b 209px,#181818 228px,#282828 237px,#474747 247px,#8b8b8b 261px,#989898 266px,#979797 270px,#888888 275px,#444444 288px,#202020 300px,#1d1d1d 304px,#2c2c2c 315px,#2b2b2b 340px,#1f1f1f 347px,#0e0e0e 354px,#101010 359px,#2a2a2a 369px,#2c2c2c 375px,#1c1c1c 383px,#111111 389px,#161616 396px,#1e1e1e 405px,#1a1a1a 450px)"></i>
<i style="left:207px;background:linear-gradient(#000000,#030303 124px,#040404 199px,#090909 214px,#1d1d1d 231px,#333333 240px,#525252 250px,#8d8d8d 263px,#989898 268px,#969696 272px,#868686 277px,#474747 289px,#313131 296px,#282828 303px,#2d2d2d 323px,#2a2a2a 341px,#1c1c1c 349px,#111111 355px,#161616 360px,#2a2a2a 369px,#2c2c2c 375px,#1e1e1e 383px,#141414 389px,#181818 396px,#1f1f1f 406px,#1b1b1b 450px)"></i>
<i style="left:210px;background:linear-gradient(#000000,#040404 171px,#080808 211px,#1a1a1a 229px,#303030 240px,#434343 247px,#595959 254px,#8b8b8b 265px,#979797 270px,#969696 274px,#868686 279px,#444444 292px,#333333 298px,#2d2d2d 306px,#2b2b2b 341px,#1c1c1c 350px,#141414 356px,#1d1d1d 362px,#2c2c2c 370px,#2b2b2b 377px,#171717 389px,#1d1d1d 398px,#202020 411px,#1c1c1c 450px)"></i>
<i style="left:213px;background:linear-gradient(#000000,#040404 177px,#0b0b0b 214px,#1f1f1f 234px,#323232 245px,#484848 254px,#8d8d8d 269px,#979797 274px,#949494 278px,#838383 283px,#454545 295px,#343434 301px,#2e2e2e 310px,#2b2b2b 342px,#191919 355px,#1e1e1e 361px,#2d2d2d 370px,#2c2c2c 377px,#1a1a1a 389px,#212121 408px,#1d1d1d 450px)"></i>
<i style="left:216px;background:linear-gradient(#000000,#030303 193px,#0d0d0d 224px,#252525 248px,#3e3e3e 256px,#898989 271px,#989898 276px,#9a9a9a 281px,#8d8d8d 286px,#484848 300px,#363636 306px,#2f2f2f 315px,#2b2b2b 343px,#1d1d1d 355px,#232323 362px,#2f2f2f 371px,#2b2b2b 379px,#1d1d1d 390px,#222222 409px,#1e1e1e 450px)"></i>
<i style="left:219px;background:linear-gradient(#000000,#040404 219px,#090909 240px,#181818 247px,#1e1e1e 251px,#5b5b5b 264px,#8b8b8b 274px,#9d9d9d 280px,#a0a0a0 285px,#959595 290px,#707070 298px,#4a4a4a 306px,#373737 313px,#2f2f2f 323px,#2b2b2b 344px,#202020 356px,#303030 372px,#2a2a2a 381px,#202020 391px,#232323 411px,#1f1f1f 450px)"></i>
<i style="left:222px;background:linear-gradient(#000000,#040404 206px,#0b0b0b 236px,#111111 241px,#292929 253px,#6f6f6f 270px,#979797 280px,#a5a5a5 286px,#a5a5a5 291px,#949494 297px,#4a4a4a 313px,#373737 320px,#2f2f2f 330px,#2a2a2a 347px,#242424 357px,#303030 372px,#2a2a2a 382px,#232323 392px,#242424 422px,#212121 450px)"></i>
<i style="left:225px;background:linear-gradient(#000000,#040404 197px,#0f0f0f 226px,#232323 249px,#363636 257px,#5f5f5f 268px,#9e9e9e 285px,#ababab 291px,#aaaaaa 296px,#9b9b9b 302px,#4d4d4d 319px,#3a3a3a 326px,#303030 336px,#282828 358px,#313131 373px,#252525 393px,#222222 450px)"></i>
<i style="left:228px;background:linear-gradient(#000000,#030303 199px,#1f1f1f 247px,#303030 257px,#4b4b4b 265px,#a5a5a5 290px,#b1b1b1 296px,#afafaf 302px,#9e9e9e 308px,#4e4e4e 326px,#393939 334px,#2c2c2c 350px,#2c2c2c 361px,#313131 375px,#272727 394px,#232323 450px)"></i>
<i style="left:231px;background:linear-gradient(#000000,#040404 196px,#1b1b1b 248px,#2b2b2b 259px,#434343 267px,#a6a6a6 293px,#b6b6b6 300px,#b6b6b6 306px,#a8a8a8 312px,#7d7d7d 322px,#4e4e4e 333px,#393939 341px,#2d2d2d 353px,#313131 377px,#292929 396px,#242424 450px)"></i>
<i style="left:234px;background:linear-gradient(#000000,#010101 166px,#080808 203px,#181818 251px,#272727 262px,#3f3f3f 270px,#a3a3a3 294px,#b9b9b9 302px,#bdbdbd 308px,#b4b4b4 314px,#989898 322px,#565656 337px,#3c3c3c 346px,#313131 355px,#303030 380px,#2a2a2a 400px,#252525 450px)"></i>
<i style="left:237px;background:linear-gradient(#000000,#030303 130px,#050505 185px,#121212 252px,#1f1f1f 262px,#353535 270px,#a1a1a1 295px,#bbbbbb 304px,#c1c1c1 311px,#b7b7b7 318px,#9b9b9b 326px,#565656 342px,#3d3d3d 351px,#333333 360px,#2f2f2f 384px,#272727 433px,#262626 450px)"></i>
<i style="left:240px;background:linear-gradient(#000000,#030303 127px,#0d0d0d 251px,#191919 262px,#303030 271px,#575757 280px,#9f9f9f 296px,#bbbbbb 305px,#c5c5c5 312px,#c0c0c0 319px,#a8a8a8 327px,#555555 347px,#3e3e3e 356px,#353535 366px,#292929 415px,#262626 450px)"></i>
<i style="left:243px;background:linear-gradient(#000000,#030303 116px,#090909 188px,#070707 226px,#0a0a0a 253px,#181818 264px,#303030 273px,#575757 282px,#a1a1a1 298px,#bdbdbd 307px,#c8c8c8 314px,#c5c5c5 321px,#b3b3b3 328px,#575757 350px,#404040 359px,#353535 370px,#292929 413px,#262626 450px)"></i>
<i style="left:246px;background:linear-gradient(#000000,#030303 125px,#0e0e0e 166px,#020202 208px,#080808 253px,#171717 265px,#313131 275px,#585858 284px,#a4a4a4 300px,#c0c0c0 309px,#cccccc 316px,#c9c9c9 323px,#b8b8b8 330px,#818181 343px,#555555 354px,#3f3f3f 363px,#343434 376px,#292929 413px,#262626 450px)"></i>
<i style="left:249px;background:linear-gradient(#000000,#030303 134px,#0e0e0e 171px,#030303 217px,#070707 252px,#151515 265px,#2d2d2d 275px,#515151 284px,#9f9f9f 300px,#bfbfbf 309px,#cfcfcf 317px,#cfcfcf 324px,#c0c0c0 331px,#999999 341px,#5d5d5d 355px,#444444 364px,#363636 375px,#2a2a2a 409px,#272727 450px)"></i>
<i style="left:252px;background:linear-gradient(#000000,#030303 137px,#0e0e0e 174px,#020202 226px,#090909 256px,#181818 268px,#333333 278px,#595959 287px,#9a9a9a 300px,#bdbdbd 309px,#d1d1d1 318px,#d4d4d4 325px,#c7c7c7 332px,#a7a7a7 341px,#5e5e5e 358px,#444444 367px,#363636 379px,#2a2a2a 409px,#272727 450px)"></i>
<i style="left:255px;background:linear-gradient(#000000,#030303 113px,#090909 150px,#0a0a0a 193px,#030303 230px,#090909 257px,#171717 269px,#313131 279px,#565656 288px,#979797 301px,#bfbfbf 311px,#d4d4d4 320px,#d8d8d8 327px,#cdcdcd 334px,#aeaeae 343px,#606060 361px,#464646 370px,#363636 382px,#2b2b2b 408px,#272727 450px)"></i>
<i style="left:258px;background:linear-gradient(#000000,#020202 116px,#080808 151px,#090909 194px,#050505 231px,#0a0a0a 260px,#191919 272px,#343434 282px,#5a5a5a 291px,#929292 302px,#bdbdbd 312px,#d4d4d4 321px,#dcdcdc 329px,#d4d4d4 336px,#bbbbbb 344px,#616161 365px,#474747 374px,#353535 386px,#2c2c2c 409px,#282828 450px)"></i>
<i style="left:261px;background:linear-gradient(#000000,#030303 122px,#0a0a0a 183px,#030303 223px,#0d0d0d 264px,#1b1b1b 275px,#373737 285px,#5c5c5c 294px,#959595 305px,#c2c2c2 316px,#d8d8d8 325px,#dedede 333px,#d6d6d6 340px,#bdbdbd 348px,#626262 369px,#454545 379px,#343434 391px,#2c2c2c 412px,#292929 450px)"></i>
<i style="left:264px;background:linear-gradient(#000000,#040404 155px,#050505 204px,#040404 226px,#101010 267px,#1e1e1e 278px,#393939 288px,#636363 298px,#969696 308px,#c4c4c4 319px,#d9d9d9 328px,#e0e0e0 336px,#d9d9d9 343px,#c1c1c1 351px,#626262 373px,#454545 383px,#343434 394px,#2d2d2d 413px,#2a2a2a 450px)"></i>
<i style="left:267px;background:linear-gradient(#000000,#040404 152px,#040404 178px,#040404 195px,#131313 270px,#212121 281px,#3b3b3b 291px,#646464 301px,#a0a0a0 313px,#c5c5c5 322px,#dbdbdb 331px,#e2e2e2 339px,#dbdbdb 346px,#c3c3c3 354px,#606060 377px,#434343 387px,#343434 398px,#2e2e2e 417px,#2b2b2b 450px)"></i>
<i style="left:270px;background:linear-gradient(#000000,#030303 139px,#0c0c0c 176px,#101010 233px,#151515 273px,#242424 285px,#3e3e3e 295px,#636363 304px,#b7b7b7 321px,#d0d0d0 328px,#e2e2e2 338px,#e3e3e3 345px,#d5d5d5 352px,#b4b4b4 361px,#646464 379px,#464646 389px,#353535 400px,#2f2f2f 418px,#2b2b2b 450px)"></i>
<i style="left:273px;background:linear-gradient(#000000,#030303 122px,#161616 174px,#141414 232px,#171717 276px,#252525 288px,#3e3e3e 298px,#626262 307px,#bababa 324px,#d2d2d2 331px,#e4e4e4 341px,#e5e5e5 348px,#d7d7d7 355px,#b5b5b5 364px,#646464 382px,#454545 392px,#353535 403px,#2f2f2f 426px,#2c2c2c 450px)"></i>
<i style="left:276px;background:linear-gradient(#000000,#030303 113px,#0e0e0e 162px,#161616 187px,#131313 225px,#161616 266px,#1a1a1a 282px,#2a2a2a 293px,#484848 303px,#6b6b6b 311px,#bcbcbc 326px,#d4d4d4 333px,#e6e6e6 343px,#e6e6e6 350px,#d8d8d8 357px,#b5b5b5 366px,#646464 384px,#474747 393px,#373737 403px,#303030 420px,#2d2d2d 450px)"></i>
<i style="left:279px;background:linear-gradient(#000000,#030303 121px,#0b0b0b 162px,#101010 186px,#0b0b0b 217px,#161616 259px,#191919 282px,#272727 293px,#424242 303px,#636363 311px,#b7b7b7 326px,#d3d3d3 333px,#e7e7e7 343px,#e9e9e9 350px,#dddddd 357px,#bcbcbc 366px,#656565 385px,#484848 394px,#383838 404px,#313131 422px,#2e2e2e 450px)"></i>
<i style="left:282px;background:linear-gradient(#000000,#030303 136px,#0c0c0c 173px,#030303 213px,#141414 260px,#181818 283px,#262626 294px,#414141 304px,#5d5d5d 311px,#b9b9b9 327px,#d4d4d4 334px,#e9e9e9 344px,#ebebeb 351px,#dfdfdf 358px,#bebebe 367px,#666666 386px,#494949 395px,#383838 405px,#313131 423px,#2e2e2e 450px)"></i>
<i style="left:285px;background:linear-gradient(#000000,#030303 135px,#070707 171px,#020202 212px,#111111 269px,#181818 286px,#2a2a2a 297px,#484848 307px,#696969 314px,#b5b5b5 327px,#d2d2d2 334px,#e9e9e9 344px,#ededed 351px,#e3e3e3 358px,#c8c8c8 366px,#676767 387px,#4a4a4a 396px,#393939 406px,#323232 425px,#2f2f2f 450px)"></i>
<i style="left:288px;background:linear-gradient(#000000,#030303 139px,#030303 178px,#020202 213px,#121212 282px,#212121 294px,#3b3b3b 304px,#5c5c5c 312px,#b3b3b3 327px,#d0d0d0 334px,#e7e7e7 344px,#ededed 351px,#e5e5e5 358px,#cccccc 366px,#676767 388px,#4a4a4a 397px,#393939 407px,#323232 428px,#2f2f2f 450px)"></i>
<i style="left:291px;background:linear-gradient(#000000,#040404 238px,#0d0d0d 280px,#1b1b1b 292px,#343434 302px,#575757 311px,#808080 318px,#b7b7b7 328px,#d2d2d2 335px,#e9e9e9 346px,#ededed 353px,#e2e2e2 360px,#c6c6c6 368px,#656565 389px,#494949 398px,#393939 408px,#313131 433px,#303030 450px)"></i>
<i style="left:294px;background:linear-gradient(#000000,#040404 254px,#090909 280px,#191919 292px,#333333 302px,#575757 311px,#818181 318px,#a8a8a8 325px,#cbcbcb 333px,#e4e4e4 343px,#ededed 351px,#e7e7e7 358px,#cfcfcf 366px,#666666 389px,#494949 398px,#393939 408px,#323232 431px,#303030 450px)"></i>
<i style="left:297px;background:linear-gradient(#000000,#000000 229px,#060606 277px,#141414 291px,#2c2c2c 301px,#535353 310px,#7b7b7b 317px,#959595 321px,#c4c4c4 331px,#dddddd 340px,#ececec 350px,#e9e9e9 357px,#d7d7d7 364px,#adadad 374px,#676767 389px,#4a4a4a 398px,#393939 408px,#323232 430px,#303030 450px)"></i>
<i style="left:300px;background:linear-gradient(#000000,#010101 225px,#050505 275px,#121212 290px,#292929 301px,#3d3d3d 306px,#757575 316px,#969696 321px,#c0c0c0 330px,#dadada 339px,#ebebeb 349px,#ebebeb 356px,#dbdbdb 363px,#b7b7b7 372px,#686868 389px,#4a4a4a 398px,#393939 408px,#323232 429px,#303030 450px)"></i>
<i style="left:303px;background:linear-gradient(#000000,#030303 170px,#040404 272px,#0e0e0e 287px,#232323 298px,#373737 304px,#6a6a6a 314px,#999999 321px,#c0c0c0 330px,#dcdcdc 340px,#ececec 350px,#e9e9e9 357px,#d8d8d8 364px,#aeaeae 374px,#686868 389px,#4a4a4a 398px,#393939 408px,#313131 429px,#2f2f2f 450px)"></i>
<i style="left:306px;background:linear-gradient(#000000,#030303 158px,#020202 234px,#060606 276px,#121212 289px,#292929 299px,#4d4d4d 308px,#747474 315px,#9c9c9c 321px,#cbcbcb 333px,#e4e4e4 344px,#ececec 352px,#e5e5e5 359px,#cbcbcb 367px,#666666 389px,#494949 398px,#383838 408px,#313131 430px,#2f2f2f 450px)"></i>
<i style="left:309px;background:linear-gradient(#000000,#010101 177px,#050505 226px,#020202 251px,#0b0b0b 281px,#1a1a1a 292px,#363636 302px,#5a5a5a 310px,#878787 317px,#9b9b9b 320px,#cfcfcf 334px,#e8e8e8 346px,#ececec 353px,#e1e1e1 360px,#c5c5c5 368px,#656565 389px,#484848 398px,#383838 408px,#303030 431px,#2e2e2e 450px)"></i>
<i style="left:312px;background:linear-gradient(#000000,#030303 127px,#060606 234px,#070707 260px,#101010 283px,#222222 294px,#3d3d3d 303px,#646464 311px,#999999 319px,#cdcdcd 333px,#e5e5e5 344px,#ececec 351px,#e5e5e5 358px,#cccccc 366px,#636363 389px,#474747 398px,#373737 408px,#303030 433px,#2e2e2e 450px)"></i>
<i style="left:315px;background:linear-gradient(#000000,#030303 155px,#050505 209px,#111111 278px,#1d1d1d 290px,#333333 299px,#535353 307px,#888888 316px,#9e9e9e 320px,#cdcdcd 333px,#e7e7e7 345px,#ebebeb 352px,#e1e1e1 359px,#c6c6c6 367px,#656565 388px,#484848 397px,#373737 407px,#303030 428px,#2d2d2d 450px)"></i>
<i style="left:318px;background:linear-gradient(#000000,#030303 143px,#030303 185px,#040404 209px,#121212 266px,#191919 284px,#292929 294px,#454545 303px,#6d6d6d 311px,#9c9c9c 319px,#cfcfcf 333px,#e9e9e9 346px,#eaeaea 353px,#dddddd 360px,#bbbbbb 369px,#676767 387px,#494949 396px,#373737 406px,#303030 424px,#2d2d2d 450px)"></i>
<i style="left:321px;background:linear-gradient(#000000,#030303 145px,#060606 221px,#161616 265px,#1c1c1c 283px,#2a2a2a 293px,#464646 302px,#717171 311px,#9a9a9a 318px,#cdcdcd 332px,#e8e8e8 345px,#eaeaea 352px,#dddddd 359px,#bcbcbc 368px,#646464 387px,#474747 396px,#363636 406px,#2f2f2f 426px,#2c2c2c 450px)"></i>
<i style="left:324px;background:linear-gradient(#000000,#040404 233px,#0e0e0e 258px,#181818 265px,#1e1e1e 282px,#2e2e2e 293px,#474747 301px,#717171 310px,#9a9a9a 317px,#cacaca 330px,#e8e8e8 344px,#eaeaea 351px,#dddddd 358px,#bcbcbc 367px,#636363 386px,#464646 395px,#353535 405px,#2e2e2e 424px,#2c2c2c 450px)"></i>
<i style="left:327px;background:linear-gradient(#000000,#030303 234px,#080808 258px,#191919 264px,#1f1f1f 282px,#2f2f2f 292px,#4b4b4b 301px,#777777 310px,#9a9a9a 316px,#c5c5c5 328px,#e6e6e6 342px,#eaeaea 349px,#e0e0e0 356px,#c4c4c4 364px,#636363 385px,#464646 394px,#353535 404px,#2e2e2e 422px,#2b2b2b 450px)"></i>
<i style="left:330px;background:linear-gradient(#000000,#030303 223px,#0f0f0f 250px,#181818 267px,#212121 283px,#333333 293px,#525252 302px,#828282 311px,#999999 315px,#c4c4c4 327px,#e6e6e6 341px,#eaeaea 348px,#dfdfdf 355px,#c3c3c3 363px,#636363 384px,#464646 393px,#353535 403px,#2e2e2e 421px,#2b2b2b 450px)"></i>
<i style="left:333px;background:linear-gradient(#000000,#030303 134px,#020202 185px,#030303 218px,#1e1e1e 280px,#303030 291px,#4c4c4c 300px,#737373 308px,#969696 314px,#c5c5c5 327px,#e6e6e6 340px,#eaeaea 347px,#dfdfdf 354px,#c3c3c3 362px,#626262 383px,#454545 392px,#343434 402px,#2e2e2e 419px,#2a2a2a 450px)"></i>
<i style="left:336px;background:linear-gradient(#000000,#030303 127px,#040404 176px,#040404 220px,#141414 267px,#212121 283px,#363636 293px,#575757 302px,#888888 311px,#b6b6b6 322px,#dddddd 335px,#e9e9e9 342px,#e7e7e7 349px,#d5d5d5 356px,#acacac 366px,#626262 382px,#454545 391px,#343434 401px,#2d2d2d 418px,#2a2a2a 450px)"></i>
<i style="left:339px;background:linear-gradient(#000000,#010101 190px,#080808 246px,#1b1b1b 279px,#2e2e2e 290px,#4c4c4c 299px,#787878 308px,#929292 313px,#c6c6c6 326px,#e4e4e4 337px,#eaeaea 344px,#e0e0e0 351px,#c6c6c6 359px,#616161 381px,#444444 390px,#343434 400px,#2d2d2d 417px,#2a2a2a 450px)"></i>
<i style="left:342px;background:linear-gradient(#000000,#030303 130px,#030303 176px,#030303 241px,#191919 278px,#2c2c2c 289px,#494949 298px,#757575 307px,#989898 314px,#c6c6c6 325px,#e2e2e2 335px,#eaeaea 342px,#e2e2e2 349px,#c9c9c9 357px,#606060 380px,#444444 389px,#333333 399px,#2d2d2d 416px,#2a2a2a 450px)"></i>
<i style="left:345px;background:linear-gradient(#000000,#030303 143px,#040404 242px,#161616 276px,#282828 287px,#444444 296px,#6d6d6d 305px,#adadad 318px,#d3d3d3 328px,#e6e6e6 336px,#e9e9e9 343px,#dcdcdc 350px,#bbbbbb 359px,#636363 378px,#464646 387px,#343434 397px,#2d2d2d 413px,#292929 450px)"></i>
<i style="left:348px;background:linear-gradient(#000000,#010101 183px,#060606 246px,#151515 275px,#272727 286px,#464646 296px,#707070 305px,#bababa 320px,#dcdcdc 330px,#e8e8e8 337px,#e6e6e6 344px,#d5d5d5 351px,#ababab 361px,#626262 377px,#454545 386px,#343434 396px,#2c2c2c 413px,#292929 450px)"></i>
<i style="left:351px;background:linear-gradient(#000000,#030303 140px,#030303 234px,#0d0d0d 266px,#1c1c1c 280px,#343434 290px,#5a5a5a 300px,#b9b9b9 319px,#d9d9d9 328px,#e7e7e7 335px,#e7e7e7 342px,#d7d7d7 349px,#afafaf 359px,#646464 375px,#464646 384px,#343434 394px,#2c2c2c 410px,#282828 450px)"></i>
<i style="left:354px;background:linear-gradient(#000000,#030303 158px,#040404 254px,#0f0f0f 271px,#262626 284px,#454545 294px,#6d6d6d 303px,#bebebe 319px,#dcdcdc 328px,#e8e8e8 335px,#e4e4e4 342px,#d3d3d3 349px,#a3a3a3 360px,#626262 374px,#454545 383px,#333333 393px,#2b2b2b 409px,#272727 450px)"></i>
<i style="left:357px;background:linear-gradient(#000000,#040404 257px,#0f0f0f 272px,#252525 283px,#444444 293px,#6d6d6d 302px,#bebebe 318px,#dcdcdc 327px,#e7e7e7 334px,#e3e3e3 341px,#d1d1d1 348px,#a1a1a1 359px,#606060 373px,#424242 382px,#313131 392px,#292929 409px,#252525 450px)"></i>
<i style="left:360px;background:linear-gradient(#000000,#030303 255px,#0f0f0f 271px,#222222 281px,#404040 291px,#6d6d6d 301px,#bdbdbd 317px,#d9d9d9 325px,#e6e6e6 332px,#e4e4e4 339px,#d3d3d3 346px,#a9a9a9 356px,#5e5e5e 372px,#404040 381px,#2f2f2f 391px,#272727 408px,#232323 450px)"></i>
<i style="left:363px;background:linear-gradient(#000000,#010101 222px,#050505 258px,#121212 272px,#292929 283px,#4c4c4c 293px,#9b9b9b 309px,#c8c8c8 319px,#e0e0e0 327px,#e6e6e6 334px,#dddddd 341px,#c3c3c3 349px,#5c5c5c 371px,#3e3e3e 380px,#2d2d2d 390px,#252525 407px,#212121 450px)"></i>
<i style="left:366px;background:linear-gradient(#000000,#030303 131px,#070707 188px,#020202 243px,#090909 263px,#1a1a1a 276px,#353535 286px,#5e5e5e 296px,#c0c0c0 316px,#dadada 324px,#e5e5e5 331px,#e0e0e0 338px,#cdcdcd 345px,#9c9c9c 356px,#5a5a5a 370px,#3c3c3c 379px,#2b2b2b 389px,#232323 406px,#1f1f1f 450px)"></i>
<i style="left:369px;background:linear-gradient(#000000,#030303 146px,#0a0a0a 181px,#050505 254px,#0f0f0f 268px,#232323 279px,#434343 289px,#808080 302px,#bfbfbf 315px,#dadada 323px,#e4e4e4 330px,#dfdfdf 337px,#cccccc 344px,#9a9a9a 355px,#585858 369px,#3a3a3a 378px,#292929 388px,#212121 405px,#1d1d1d 450px)"></i>
<i style="left:372px;background:linear-gradient(#000000,#030303 137px,#090909 175px,#070707 215px,#080808 258px,#151515 271px,#2e2e2e 282px,#545454 292px,#bebebe 314px,#d9d9d9 322px,#e3e3e3 329px,#dedede 336px,#cbcbcb 343px,#999999 354px,#565656 368px,#383838 377px,#262626 387px,#1e1e1e 404px,#1a1a1a 450px)"></i>
<i style="left:375px;background:linear-gradient(#000000,#030303 118px,#0b0b0b 169px,#030303 195px,#090909 236px,#0b0b0b 260px,#181818 272px,#313131 282px,#585858 292px,#bebebe 313px,#d8d8d8 321px,#e3e3e3 328px,#dedede 335px,#cacaca 342px,#979797 353px,#545454 367px,#363636 376px,#242424 386px,#1c1c1c 403px,#181818 450px)"></i>
<i style="left:378px;background:linear-gradient(#000000,#020202 114px,#121212 156px,#080808 202px,#0c0c0c 260px,#1a1a1a 272px,#333333 282px,#5c5c5c 292px,#bdbdbd 312px,#d7d7d7 320px,#e2e2e2 327px,#dddddd 334px,#c9c9c9 341px,#969696 352px,#535353 366px,#343434 375px,#222222 385px,#1a1a1a 402px,#161616 450px)"></i>
<i style="left:381px;background:linear-gradient(#000000,#020202 118px,#0e0e0e 154px,#050505 196px,#0b0b0b 248px,#111111 264px,#222222 275px,#414141 285px,#7d7d7d 298px,#c0c0c0 312px,#d9d9d9 320px,#e1e1e1 327px,#dadada 334px,#c4c4c4 341px,#858585 354px,#4d4d4d 366px,#303030 375px,#202020 385px,#181818 404px,#141414 450px)"></i>
<i style="left:384px;background:linear-gradient(#000000,#030303 129px,#080808 158px,#020202 191px,#070707 216px,#101010 262px,#202020 273px,#3c3c3c 283px,#6c6c6c 294px,#bbbbbb 310px,#d6d6d6 318px,#e0e0e0 325px,#dbdbdb 332px,#c7c7c7 339px,#949494 350px,#505050 364px,#313131 373px,#1f1f1f 383px,#171717 400px,#131313 450px)"></i>
<i style="left:387px;background:linear-gradient(#000000,#030303 120px,#0a0a0a 161px,#040404 204px,#0c0c0c 246px,#121212 263px,#232323 274px,#424242 284px,#747474 295px,#bdbdbd 310px,#d7d7d7 318px,#e0e0e0 325px,#d9d9d9 332px,#c3c3c3 339px,#898989 351px,#4f4f4f 363px,#303030 372px,#1e1e1e 382px,#161616 399px,#111111 450px)"></i>
<i style="left:390px;background:linear-gradient(#000000,#030303 128px,#0b0b0b 159px,#040404 192px,#101010 260px,#1e1e1e 271px,#393939 281px,#636363 291px,#bcbcbc 309px,#d6d6d6 317px,#dfdfdf 324px,#dadada 330px,#c6c6c6 337px,#989898 347px,#535353 361px,#323232 370px,#1f1f1f 380px,#161616 395px,#101010 450px)"></i>
<i style="left:393px;background:linear-gradient(#000000,#030303 130px,#0d0d0d 160px,#050505 191px,#0f0f0f 258px,#1c1c1c 269px,#353535 279px,#5e5e5e 289px,#bababa 308px,#d5d5d5 316px,#dedede 323px,#dadada 329px,#c6c6c6 336px,#989898 346px,#535353 360px,#323232 369px,#1f1f1f 378px,#161616 392px,#101010 450px)"></i>
<i style="left:396px;background:linear-gradient(#000000,#030303 113px,#131313 160px,#070707 206px,#0e0e0e 257px,#1b1b1b 268px,#343434 278px,#5d5d5d 288px,#bdbdbd 308px,#d6d6d6 316px,#dedede 323px,#d8d8d8 329px,#c2c2c2 336px,#8e8e8e 347px,#4e4e4e 360px,#2f2f2f 369px,#1d1d1d 379px,#151515 396px,#101010 450px)"></i>
<i style="left:399px;background:linear-gradient(#000000,#030303 113px,#101010 164px,#030303 206px,#0a0a0a 238px,#0d0d0d 257px,#1b1b1b 268px,#373737 278px,#656565 289px,#bbbbbb 307px,#d5d5d5 315px,#dddddd 322px,#d7d7d7 328px,#c2c2c2 335px,#8e8e8e 346px,#4e4e4e 359px,#2f2f2f 368px,#1e1e1e 377px,#151515 393px,#101010 450px)"></i>
<i style="left:402px;background:linear-gradient(#000000,#030303 145px,#070707 176px,#070707 214px,#0b0b0b 256px,#1a1a1a 267px,#353535 277px,#696969 289px,#b9b9b9 306px,#d4d4d4 314px,#dcdcdc 321px,#d7d7d7 327px,#c2c2c2 334px,#8e8e8e 345px,#4e4e4e 358px,#2e2e2e 367px,#1d1d1d 376px,#141414 392px,#0f0f0f 450px)"></i>
<i style="left:405px;background:linear-gradient(#000000,#030303 130px,#030303 175px,#060606 203px,#0a0a0a 241px,#0d0d0d 257px,#1b1b1b 267px,#383838 277px,#767676 291px,#bcbcbc 306px,#d5d5d5 314px,#dcdcdc 321px,#d5d5d5 327px,#bebebe 334px,#7e7e7e 347px,#494949 358px,#2b2b2b 367px,#1a1a1a 377px,#131313 397px,#0f0f0f 450px)"></i>
<i style="left:408px;background:linear-gradient(#000000,#030303 117px,#030303 152px,#060606 202px,#0d0d0d 255px,#1b1b1b 266px,#373737 276px,#797979 291px,#bababa 305px,#d3d3d3 313px,#dbdbdb 320px,#d4d4d4 326px,#bebebe 333px,#838383 345px,#494949 357px,#2a2a2a 366px,#1a1a1a 375px,#121212 392px,#0e0e0e 450px)"></i>
<i style="left:411px;background:linear-gradient(#000000,#030303 123px,#0a0a0a 242px,#131313 259px,#262626 269px,#434343 278px,#bdbdbd 305px,#d4d4d4 313px,#dadada 320px,#d2d2d2 326px,#bababa 333px,#4d4d4d 355px,#2d2d2d 364px,#1a1a1a 373px,#121212 388px,#0d0d0d 450px)"></i>
<i style="left:414px;background:linear-gradient(#000000,#030303 157px,#040404 210px,#060606 238px,#161616 259px,#292929 269px,#484848 278px,#bebebe 305px,#d5d5d5 313px,#d9d9d9 320px,#cfcfcf 326px,#b2b2b2 334px,#4d4d4d 354px,#2c2c2c 363px,#1a1a1a 372px,#111111 386px,#0d0d0d 450px)"></i>
<i style="left:417px;background:linear-gradient(#000000,#030303 166px,#020202 238px,#0a0a0a 250px,#282828 267px,#444444 276px,#c0c0c0 305px,#d5d5d5 313px,#d9d9d9 319px,#d0d0d0 325px,#b7b7b7 332px,#494949 354px,#292929 363px,#181818 372px,#0f0f0f 387px,#0c0c0c 450px)"></i>
<i style="left:420px;background:linear-gradient(#000000,#030303 241px,#090909 250px,#181818 257px,#2e2e2e 268px,#4e4e4e 277px,#bebebe 304px,#d4d4d4 312px,#d8d8d8 319px,#cdcdcd 325px,#afafaf 333px,#4a4a4a 353px,#292929 362px,#171717 371px,#0e0e0e 385px,#0b0b0b 450px)"></i>
<i style="left:423px;background:linear-gradient(#000000,#030303 225px,#0b0b0b 245px,#262626 263px,#434343 273px,#6f6f6f 284px,#c0c0c0 304px,#d4d4d4 312px,#d7d7d7 318px,#cecece 324px,#b5b5b5 331px,#4a4a4a 352px,#292929 361px,#161616 370px,#0d0d0d 383px,#0a0a0a 450px)"></i>
<i style="left:426px;background:linear-gradient(#000000,#040404 219px,#0e0e0e 243px,#212121 259px,#393939 269px,#5c5c5c 278px,#a0a0a0 295px,#c5c5c5 305px,#d5d5d5 312px,#d7d7d7 318px,#cccccc 324px,#acacac 332px,#4b4b4b 351px,#292929 360px,#161616 369px,#0c0c0c 382px,#090909 450px)"></i>
<i style="left:429px;background:linear-gradient(#000000,#030303 138px,#040404 172px,#030303 197px,#0a0a0a 236px,#191919 253px,#303030 265px,#4e4e4e 274px,#6b6b6b 281px,#9a9a9a 293px,#c4c4c4 304px,#d5d5d5 312px,#d6d6d6 318px,#c9c9c9 324px,#a9a9a9 332px,#4b4b4b 350px,#292929 359px,#151515 368px,#0b0b0b 380px,#080808 450px)"></i>
<i style="left:432px;background:linear-gradient(#000000,#030303 116px,#080808 171px,#050505 232px,#161616 251px,#2c2c2c 263px,#4c4c4c 273px,#686868 280px,#939393 291px,#c2c2c2 303px,#d4d4d4 311px,#d5d5d5 317px,#cacaca 323px,#aaaaaa 331px,#484848 350px,#272727 359px,#121212 369px,#090909 382px,#080808 450px)"></i>
<i style="left:435px;background:linear-gradient(#000000,#030303 109px,#090909 142px,#0a0a0a 161px,#0d0d0d 194px,#050505 231px,#161616 250px,#2e2e2e 263px,#4d4d4d 273px,#686868 280px,#949494 291px,#c0c0c0 302px,#d3d3d3 310px,#d5d5d5 316px,#cacaca 322px,#b0b0b0 329px,#484848 349px,#272727 358px,#121212 368px,#080808 381px,#070707 450px)"></i>
<i style="left:438px;background:linear-gradient(#000000,#030303 113px,#121212 158px,#0d0d0d 210px,#0c0c0c 234px,#1a1a1a 251px,#313131 264px,#515151 274px,#818181 287px,#bababa 300px,#d0d0d0 308px,#d5d5d5 315px,#cbcbcb 321px,#b2b2b2 328px,#454545 349px,#252525 358px,#101010 368px,#080808 381px,#070707 450px)"></i>
<i style="left:441px;background:linear-gradient(#000000,#030303 116px,#090909 148px,#070707 172px,#0d0d0d 213px,#121212 240px,#222222 256px,#3c3c3c 268px,#727272 284px,#bababa 300px,#d0d0d0 308px,#d4d4d4 315px,#cacaca 321px,#b0b0b0 328px,#484848 348px,#262626 357px,#111111 367px,#070707 380px,#060606 450px)"></i>
<i style="left:444px;background:linear-gradient(#000000,#030303 116px,#070707 149px,#040404 183px,#0e0e0e 222px,#161616 245px,#292929 260px,#434343 271px,#6f6f6f 284px,#b9b9b9 300px,#cecece 307px,#d4d4d4 314px,#cccccc 320px,#b3b3b3 327px,#464646 348px,#252525 357px,#101010 367px,#070707 380px,#060606 450px)"></i>
<i style="left:447px;background:linear-gradient(#000000,#030303 116px,#050505 154px,#060606 187px,#121212 242px,#222222 257px,#3b3b3b 269px,#696969 283px,#b9b9b9 300px,#cecece 307px,#d4d4d4 314px,#cbcbcb 320px,#b1b1b1 327px,#444444 348px,#242424 357px,#0f0f0f 367px,#070707 380px,#060606 450px)"></i>
<i style="left:450px;background:linear-gradient(#000000,#030303 116px,#040404 180px,#0a0a0a 213px,#0d0d0d 240px,#1c1c1c 255px,#353535 267px,#696969 283px,#b9b9b9 300px,#cdcdcd 307px,#d3d3d3 314px,#cacaca 320px,#b0b0b0 327px,#474747 347px,#252525 356px,#101010 366px,#070707 379px,#060606 450px)"></i>
<i style="left:453px;background:linear-gradient(#000000,#030303 115px,#080808 160px,#080808 186px,#080808 216px,#070707 237px,#161616 253px,#2e2e2e 265px,#626262 281px,#b9b9b9 300px,#cdcdcd 307px,#d3d3d3 314px,#c9c9c9 320px,#afafaf 327px,#464646 347px,#242424 356px,#0f0f0f 366px,#070707 379px,#060606 450px)"></i>
<i style="left:456px;background:linear-gradient(#000000,#030303 108px,#090909 141px,#070707 163px,#0c0c0c 196px,#040404 235px,#131313 252px,#2b2b2b 264px,#4b4b4b 274px,#757575 285px,#b6b6b6 299px,#cdcdcd 307px,#d2d2d2 314px,#c9c9c9 320px,#aeaeae 327px,#444444 347px,#232323 356px,#0f0f0f 366px,#060606 379px,#060606 450px)"></i>
<i style="left:459px;background:linear-gradient(#000000,#030303 109px,#090909 142px,#080808 168px,#0c0c0c 195px,#070707 234px,#121212 251px,#272727 263px,#484848 273px,#808080 287px,#b9b9b9 300px,#cecece 308px,#d2d2d2 314px,#c9c9c9 320px,#aeaeae 327px,#444444 347px,#232323 356px,#0e0e0e 366px,#060606 379px,#060606 450px)"></i>
<i style="left:462px;background:linear-gradient(#000000,#030303 109px,#080808 151px,#080808 168px,#0c0c0c 191px,#070707 229px,#0f0f0f 248px,#1f1f1f 260px,#3b3b3b 270px,#808080 287px,#b9b9b9 300px,#cecece 308px,#d2d2d2 314px,#c9c9c9 320px,#aeaeae 327px,#484848 346px,#252525 355px,#111111 364px,#070707 376px,#060606 450px)"></i>
<i style="left:465px;background:linear-gradient(#000000,#030303 110px,#090909 147px,#0f0f0f 177px,#030303 220px,#0c0c0c 246px,#1c1c1c 259px,#333333 268px,#858585 288px,#b8b8b8 300px,#cdcdcd 308px,#d2d2d2 314px,#c9c9c9 320px,#aeaeae 327px,#484848 346px,#252525 355px,#111111 364px,#060606 376px,#060606 450px)"></i>
<i style="left:468px;background:linear-gradient(#000000,#030303 121px,#080808 154px,#0d0d0d 180px,#020202 219px,#0b0b0b 247px,#191919 259px,#303030 268px,#848484 288px,#b8b8b8 300px,#cdcdcd 308px,#d2d2d2 314px,#c9c9c9 320px,#aeaeae 327px,#474747 346px,#242424 355px,#101010 364px,#060606 376px,#050505 450px)"></i>
<i style="left:471px;background:linear-gradient(#000000,#040404 156px,#0a0a0a 183px,#030303 227px,#090909 248px,#191919 260px,#313131 269px,#919191 291px,#bababa 301px,#cecece 309px,#d1d1d1 315px,#c6c6c6 321px,#a9a9a9 328px,#474747 346px,#242424 355px,#101010 364px,#060606 376px,#050505 450px)"></i>
<i style="left:474px;background:linear-gradient(#000000,#030303 135px,#090909 184px,#020202 237px,#0d0d0d 254px,#1f1f1f 264px,#3a3a3a 272px,#b2b2b2 299px,#cacaca 307px,#d1d1d1 314px,#c9c9c9 320px,#aeaeae 327px,#474747 346px,#242424 355px,#0f0f0f 364px,#050505 376px,#050505 450px)"></i>
<i style="left:477px;background:linear-gradient(#000000,#030303 144px,#060606 185px,#030303 240px,#0d0d0d 256px,#1e1e1e 265px,#414141 274px,#b1b1b1 299px,#c9c9c9 307px,#d1d1d1 314px,#c9c9c9 320px,#aeaeae 327px,#464646 346px,#232323 355px,#0f0f0f 364px,#050505 376px,#050505 450px)"></i>
<i style="left:480px;background:linear-gradient(#000000,#030303 159px,#030303 244px,#0d0d0d 258px,#1f1f1f 267px,#353535 272px,#575757 279px,#b0b0b0 299px,#c9c9c9 307px,#d1d1d1 314px,#c9c9c9 320px,#aeaeae 327px,#464646 346px,#232323 355px,#0f0f0f 364px,#050505 376px,#050505 450px)"></i>
<i style="left:483px;background:linear-gradient(#000000,#030303 156px,#020202 234px,#080808 253px,#181818 264px,#282828 269px,#585858 279px,#b3b3b3 300px,#cacaca 308px,#d0d0d0 314px,#c9c9c9 320px,#b3b3b3 326px,#6b6b6b 339px,#383838 349px,#1a1a1a 358px,#090909 368px,#030303 384px,#050505 450px)"></i>
<i style="left:486px;background:linear-gradient(#000000,#030303 150px,#030303 190px,#060606 242px,#101010 256px,#222222 265px,#444444 274px,#5f5f5f 280px,#b5b5b5 301px,#cbcbcb 309px,#d0d0d0 315px,#c6c6c6 321px,#a9a9a9 328px,#454545 346px,#252525 354px,#101010 363px,#050505 375px,#050505 450px)"></i>
<i style="left:489px;background:linear-gradient(#000000,#030303 145px,#070707 183px,#050505 230px,#0f0f0f 250px,#212121 262px,#383838 270px,#5f5f5f 279px,#bbbbbb 303px,#cecece 311px,#cecece 317px,#bfbfbf 323px,#999999 331px,#494949 345px,#282828 353px,#111111 362px,#050505 374px,#040404 442px,#040404 450px)"></i>
<i style="left:492px;background:linear-gradient(#000000,#030303 146px,#070707 187px,#040404 226px,#101010 248px,#232323 261px,#3d3d3d 270px,#646464 279px,#969696 293px,#c1c1c1 305px,#cecece 312px,#cdcdcd 318px,#bbbbbb 324px,#939393 332px,#494949 345px,#272727 353px,#111111 362px,#050505 374px,#040404 447px,#040404 450px)"></i>
<i style="left:495px;background:linear-gradient(#000000,#040404 165px,#030303 207px,#040404 228px,#121212 249px,#262626 261px,#414141 270px,#666666 278px,#8c8c8c 290px,#c1c1c1 305px,#cecece 312px,#cccccc 318px,#bbbbbb 324px,#939393 332px,#494949 345px,#272727 353px,#101010 362px,#050505 374px,#040404 450px)"></i>
<i style="left:498px;background:linear-gradient(#000000,#040404 229px,#111111 248px,#252525 260px,#414141 269px,#6b6b6b 278px,#8f8f8f 290px,#c1c1c1 305px,#cecece 312px,#cccccc 318px,#bbbbbb 324px,#939393 332px,#494949 345px,#272727 353px,#101010 362px,#050505 374px,#040404 450px)"></i>
<i style="left:501px;background:linear-gradient(#000000,#030303 233px,#0e0e0e 247px,#262626 260px,#444444 269px,#6e6e6e 278px,#949494 291px,#c4c4c4 306px,#cfcfcf 313px,#cacaca 319px,#b7b7b7 325px,#868686 334px,#434343 346px,#242424 354px,#0f0f0f 363px,#040404 375px,#040404 450px)"></i>
<i style="left:504px;background:linear-gradient(#000000,#000000 201px,#030303 242px,#080808 248px,#1c1c1c 255px,#363636 265px,#5b5b5b 274px,#6f6f6f 278px,#9a9a9a 292px,#c4c4c4 306px,#cfcfcf 313px,#cacaca 319px,#b6b6b6 325px,#868686 334px,#434343 346px,#232323 354px,#0f0f0f 363px,#040404 375px,#040404 450px)"></i>
<i style="left:507px;background:linear-gradient(#000000,#030303 237px,#0a0a0a 247px,#343434 264px,#565656 273px,#6f6f6f 278px,#8d8d8d 288px,#c0c0c0 304px,#cecece 312px,#cccccc 318px,#bababa 324px,#919191 332px,#484848 345px,#272727 353px,#101010 362px,#050505 374px,#040404 450px)"></i>
<i style="left:510px;background:linear-gradient(#000000,#030303 169px,#070707 233px,#141414 248px,#2a2a2a 260px,#4a4a4a 270px,#6f6f6f 278px,#8d8d8d 288px,#bdbdbd 303px,#cdcdcd 311px,#cdcdcd 317px,#bebebe 323px,#979797 331px,#484848 345px,#262626 353px,#101010 362px,#050505 374px,#040404 450px)"></i>
<i style="left:513px;background:linear-gradient(#000000,#040404 178px,#0f0f0f 237px,#1d1d1d 253px,#323232 263px,#4e4e4e 271px,#6f6f6f 278px,#919191 289px,#bebebe 303px,#cdcdcd 311px,#cdcdcd 317px,#bdbdbd 323px,#969696 331px,#474747 345px,#262626 353px,#101010 362px,#050505 374px,#040404 450px)"></i>
<i style="left:516px;background:linear-gradient(#000000,#030303 136px,#0a0a0a 209px,#141414 245px,#242424 258px,#3b3b3b 267px,#5e5e5e 275px,#6c6c6c 278px,#939393 290px,#bebebe 303px,#cdcdcd 311px,#cccccc 317px,#bdbdbd 323px,#969696 331px,#474747 345px,#262626 353px,#101010 362px,#050505 374px,#040404 450px)"></i>
<i style="left:519px;background:linear-gradient(#000000,#040404 145px,#070707 172px,#040404 192px,#0e0e0e 228px,#151515 250px,#252525 261px,#3c3c3c 269px,#666666 278px,#989898 292px,#bdbdbd 303px,#cdcdcd 311px,#cccccc 317px,#bdbdbd 323px,#969696 331px,#474747 345px,#262626 353px,#101010 362px,#040404 374px,#040404 450px)"></i>
<i style="left:522px;background:linear-gradient(#000000,#030303 118px,#0e0e0e 168px,#0c0c0c 201px,#101010 250px,#1c1c1c 260px,#323232 268px,#565656 276px,#b4b4b4 300px,#cacaca 309px,#cecece 315px,#c3c3c3 321px,#a6a6a6 328px,#474747 345px,#262626 353px,#101010 362px,#040404 374px,#040404 450px)"></i>
<i style="left:525px;background:linear-gradient(#000000,#030303 113px,#0b0b0b 147px,#131313 173px,#0a0a0a 250px,#141414 259px,#2d2d2d 268px,#515151 276px,#b3b3b3 300px,#cacaca 309px,#cecece 315px,#c3c3c3 321px,#a6a6a6 328px,#474747 345px,#262626 353px,#101010 362px,#040404 374px,#040404 450px)"></i>
<i style="left:528px;background:linear-gradient(#000000,#030303 120px,#0d0d0d 189px,#080808 248px,#0f0f0f 257px,#242424 266px,#444444 274px,#5b5b5b 279px,#b2b2b2 300px,#c8c8c8 308px,#cecece 314px,#c5c5c5 320px,#aaaaaa 327px,#424242 346px,#232323 354px,#0e0e0e 363px,#040404 375px,#040404 450px)"></i>
<i style="left:531px;background:linear-gradient(#000000,#030303 125px,#060606 154px,#070707 189px,#050505 229px,#0b0b0b 252px,#1a1a1a 262px,#363636 271px,#595959 279px,#b5b5b5 301px,#c9c9c9 309px,#cdcdcd 315px,#c2c2c2 321px,#a5a5a5 328px,#474747 345px,#262626 353px,#101010 362px,#050505 374px,#040404 450px)"></i>
<i style="left:534px;background:linear-gradient(#000000,#030303 117px,#131313 162px,#0a0a0a 185px,#030303 204px,#060606 242px,#111111 256px,#262626 266px,#424242 274px,#5f5f5f 281px,#b4b4b4 301px,#c9c9c9 309px,#cdcdcd 315px,#c2c2c2 321px,#a5a5a5 328px,#464646 345px,#262626 353px,#101010 362px,#050505 374px,#040404 450px)"></i>
<i style="left:537px;background:linear-gradient(#000000,#030303 126px,#191919 166px,#121212 186px,#040404 219px,#040404 238px,#111111 255px,#262626 266px,#464646 275px,#7f7f7f 289px,#b3b3b3 301px,#c9c9c9 309px,#cdcdcd 315px,#c2c2c2 321px,#a5a5a5 328px,#464646 345px,#232323 354px,#0e0e0e 363px,#040404 375px,#040404 450px)"></i>
<i style="left:540px;background:linear-gradient(#000000,#030303 127px,#181818 171px,#121212 193px,#050505 224px,#090909 245px,#171717 259px,#2e2e2e 269px,#6f6f6f 286px,#b3b3b3 301px,#c7c7c7 308px,#cdcdcd 314px,#c5c5c5 320px,#a9a9a9 327px,#424242 346px,#232323 354px,#0e0e0e 363px,#040404 375px,#040404 450px)"></i>
<i style="left:543px;background:linear-gradient(#000000,#030303 110px,#0a0a0a 147px,#090909 164px,#121212 187px,#060606 231px,#0d0d0d 250px,#1f1f1f 263px,#3a3a3a 273px,#6d6d6d 286px,#b2b2b2 301px,#c7c7c7 308px,#cdcdcd 314px,#c4c4c4 320px,#a9a9a9 327px,#424242 346px,#232323 354px,#0e0e0e 363px,#040404 375px,#040404 450px)"></i>
<i style="left:546px;background:linear-gradient(#000000,#030303 109px,#080808 151px,#0e0e0e 197px,#060606 235px,#101010 253px,#222222 265px,#3f3f3f 275px,#666666 285px,#b2b2b2 301px,#c7c7c7 308px,#cdcdcd 314px,#c4c4c4 320px,#a9a9a9 327px,#414141 346px,#202020 355px,#0c0c0c 365px,#030303 379px,#040404 450px)"></i>
<i style="left:549px;background:linear-gradient(#000000,#030303 113px,#050505 166px,#070707 180px,#0c0c0c 201px,#040404 238px,#141414 257px,#2b2b2b 269px,#535353 281px,#b1b1b1 301px,#c6c6c6 308px,#cccccc 314px,#c4c4c4 320px,#a9a9a9 327px,#414141 346px,#202020 355px,#0c0c0c 365px,#030303 379px,#040404 450px)"></i>
<i style="left:552px;background:linear-gradient(#000000,#030303 118px,#0d0d0d 156px,#0c0c0c 184px,#0b0b0b 212px,#060606 239px,#151515 257px,#2a2a2a 269px,#515151 281px,#b1b1b1 301px,#c6c6c6 308px,#cccccc 314px,#c4c4c4 320px,#a9a9a9 327px,#414141 346px,#202020 355px,#0c0c0c 365px,#030303 379px,#040404 450px)"></i>
<i style="left:555px;background:linear-gradient(#000000,#030303 111px,#0a0a0a 146px,#0c0c0c 206px,#0b0b0b 240px,#181818 258px,#2e2e2e 270px,#515151 281px,#adadad 300px,#c4c4c4 307px,#cccccc 313px,#c5c5c5 319px,#b1b1b1 325px,#767676 336px,#3c3c3c 347px,#1d1d1d 356px,#0a0a0a 366px,#030303 381px,#040404 450px)"></i>
<i style="left:558px;background:linear-gradient(#000000,#030303 110px,#070707 142px,#070707 167px,#101010 242px,#1e1e1e 260px,#323232 271px,#575757 282px,#adadad 300px,#c3c3c3 307px,#cacaca 313px,#c3c3c3 319px,#aeaeae 325px,#6e6e6e 337px,#3b3b3b 347px,#1c1c1c 356px,#0a0a0a 366px,#030303 381px,#040404 450px)"></i>
<i style="left:561px;background:linear-gradient(#000000,#030303 111px,#090909 141px,#050505 167px,#040404 194px,#151515 247px,#252525 263px,#3c3c3c 273px,#5f5f5f 283px,#adadad 300px,#c2c2c2 307px,#c9c9c9 313px,#c1c1c1 319px,#a7a7a7 326px,#424242 345px,#202020 354px,#0c0c0c 364px,#030303 378px,#040404 450px)"></i>
<i style="left:564px;background:linear-gradient(#000000,#030303 108px,#101010 149px,#070707 199px,#101010 236px,#202020 257px,#353535 269px,#626262 283px,#b1b1b1 301px,#c3c3c3 308px,#c7c7c7 314px,#bcbcbc 320px,#a0a0a0 327px,#454545 344px,#222222 353px,#0e0e0e 362px,#040404 375px,#040404 450px)"></i>
<i style="left:567px;background:linear-gradient(#000000,#020202 115px,#0d0d0d 164px,#070707 215px,#171717 247px,#2b2b2b 263px,#454545 273px,#686868 284px,#b1b1b1 301px,#c2c2c2 308px,#c5c5c5 314px,#bababa 320px,#9d9d9d 327px,#434343 344px,#212121 353px,#0c0c0c 363px,#030303 376px,#040404 450px)"></i>
<i style="left:570px;background:linear-gradient(#000000,#040404 163px,#080808 189px,#030303 212px,#191919 248px,#2d2d2d 263px,#484848 273px,#6a6a6a 284px,#b0b0b0 301px,#c1c1c1 308px,#c4c4c4 314px,#b8b8b8 320px,#9b9b9b 327px,#414141 344px,#202020 353px,#0c0c0c 363px,#030303 377px,#040404 450px)"></i>
<i style="left:573px;background:linear-gradient(#000000,#040404 140px,#090909 195px,#090909 220px,#181818 248px,#2b2b2b 262px,#454545 272px,#6b6b6b 284px,#b0b0b0 301px,#c1c1c1 308px,#c2c2c2 314px,#b5b5b5 320px,#939393 328px,#3f3f3f 344px,#1f1f1f 353px,#0c0c0c 363px,#030303 377px,#040404 450px)"></i>
<i style="left:576px;background:linear-gradient(#000000,#030303 112px,#070707 173px,#0b0b0b 208px,#131313 241px,#212121 257px,#383838 268px,#6c6c6c 284px,#adadad 300px,#bebebe 307px,#c1c1c1 313px,#b6b6b6 319px,#9a9a9a 326px,#424242 343px,#212121 352px,#0d0d0d 362px,#030303 376px,#040404 450px)"></i>
<i style="left:579px;background:linear-gradient(#000000,#030303 111px,#050505 147px,#050505 171px,#0c0c0c 201px,#101010 240px,#1c1c1c 256px,#2f2f2f 266px,#6c6c6c 284px,#acacac 300px,#bdbdbd 307px,#c0c0c0 313px,#b4b4b4 319px,#939393 327px,#404040 343px,#202020 352px,#0c0c0c 362px,#030303 376px,#040404 450px)"></i>
<i style="left:582px;background:linear-gradient(#000000,#030303 120px,#0f0f0f 169px,#0a0a0a 225px,#131313 251px,#222222 262px,#3c3c3c 271px,#707070 285px,#aaaaaa 299px,#bbbbbb 306px,#bebebe 312px,#b4b4b4 318px,#999999 325px,#3e3e3e 343px,#1e1e1e 352px,#0b0b0b 362px,#030303 376px,#040404 450px)"></i>
<i style="left:585px;background:linear-gradient(#000000,#030303 131px,#0f0f0f 176px,#030303 216px,#121212 254px,#212121 263px,#3f3f3f 272px,#767676 286px,#a7a7a7 298px,#b9b9b9 305px,#bdbdbd 311px,#b4b4b4 317px,#999999 324px,#3f3f3f 342px,#1f1f1f 351px,#0c0c0c 361px,#030303 375px,#040404 450px)"></i>
<i style="left:588px;background:linear-gradient(#000000,#030303 139px,#060606 167px,#080808 192px,#040404 218px,#101010 254px,#1d1d1d 262px,#3b3b3b 271px,#818181 288px,#ababab 299px,#bababa 306px,#bbbbbb 312px,#adadad 318px,#8b8b8b 326px,#404040 341px,#202020 350px,#0c0c0c 360px,#030303 374px,#040404 450px)"></i>
<i style="left:591px;background:linear-gradient(#000000,#030303 142px,#060606 202px,#0c0c0c 245px,#151515 257px,#282828 265px,#6e6e6e 283px,#a3a3a3 296px,#b7b7b7 304px,#bababa 310px,#b0b0b0 316px,#959595 323px,#3c3c3c 341px,#1e1e1e 350px,#0b0b0b 360px,#030303 375px,#040404 450px)"></i>
<i style="left:594px;background:linear-gradient(#000000,#030303 149px,#080808 235px,#131313 253px,#262626 263px,#646464 280px,#a1a1a1 295px,#b5b5b5 303px,#b9b9b9 309px,#afafaf 315px,#969696 322px,#3d3d3d 340px,#1e1e1e 349px,#0c0c0c 359px,#030303 373px,#040404 450px)"></i>
<i style="left:597px;background:linear-gradient(#000000,#030303 141px,#050505 233px,#101010 249px,#252525 261px,#575757 276px,#a1a1a1 295px,#b4b4b4 303px,#b7b7b7 309px,#acacac 315px,#8c8c8c 323px,#3e3e3e 339px,#1f1f1f 348px,#0c0c0c 358px,#030303 372px,#040404 450px)"></i>
<i style="left:600px;background:linear-gradient(#000000,#020202 209px,#040404 238px,#0f0f0f 251px,#1e1e1e 258px,#616161 278px,#9f9f9f 294px,#b2b2b2 302px,#b5b5b5 308px,#ababab 314px,#8c8c8c 322px,#3b3b3b 339px,#1d1d1d 348px,#0b0b0b 358px,#030303 373px,#050505 450px)"></i>
<i style="left:603px;background:linear-gradient(#000000,#010101 208px,#040404 240px,#101010 254px,#1a1a1a 258px,#2f2f2f 263px,#6f6f6f 281px,#a0a0a0 294px,#b1b1b1 302px,#b2b2b2 308px,#a7a7a7 314px,#888888 322px,#3b3b3b 338px,#1e1e1e 347px,#0b0b0b 357px,#030303 372px,#050505 450px)"></i>
<i style="left:606px;background:linear-gradient(#000000,#040404 236px,#0f0f0f 250px,#202020 258px,#696969 279px,#9d9d9d 293px,#afafaf 301px,#b0b0b0 308px,#a3a3a3 314px,#7e7e7e 323px,#3c3c3c 337px,#1e1e1e 346px,#0c0c0c 356px,#030303 371px,#050505 450px)"></i>
<i style="left:609px;background:linear-gradient(#000000,#050505 231px,#0f0f0f 247px,#222222 258px,#525252 273px,#9a9a9a 292px,#acacac 300px,#aeaeae 307px,#a3a3a3 313px,#848484 321px,#393939 337px,#1c1c1c 346px,#0a0a0a 357px,#030303 373px,#050505 450px)"></i>
<i style="left:612px;background:linear-gradient(#000000,#030303 143px,#070707 180px,#020202 216px,#0c0c0c 244px,#1a1a1a 255px,#333333 264px,#6e6e6e 280px,#9a9a9a 292px,#ababab 300px,#acacac 307px,#9c9c9c 314px,#727272 324px,#373737 337px,#1b1b1b 346px,#090909 357px,#030303 374px,#050505 450px)"></i>
<i style="left:615px;background:linear-gradient(#000000,#030303 128px,#090909 179px,#040404 218px,#0c0c0c 246px,#1b1b1b 256px,#363636 265px,#6e6e6e 280px,#979797 291px,#a9a9a9 299px,#ababab 306px,#9c9c9c 313px,#777777 322px,#383838 336px,#1c1c1c 345px,#0a0a0a 356px,#030303 373px,#050505 450px)"></i>
<i style="left:618px;background:linear-gradient(#000000,#030303 116px,#070707 149px,#060606 167px,#090909 195px,#0a0a0a 241px,#131313 251px,#292929 261px,#5e5e5e 276px,#919191 289px,#a5a5a5 297px,#aaaaaa 304px,#a1a1a1 310px,#868686 318px,#353535 336px,#181818 346px,#080808 357px,#030303 376px,#050505 450px)"></i>
<i style="left:621px;background:linear-gradient(#000000,#030303 125px,#0e0e0e 166px,#0b0b0b 233px,#121212 248px,#262626 259px,#525252 273px,#919191 289px,#a4a4a4 297px,#a8a8a8 304px,#9b9b9b 311px,#797979 320px,#363636 335px,#191919 345px,#090909 356px,#030303 375px,#050505 450px)"></i>
<i style="left:624px;background:linear-gradient(#000000,#030303 123px,#111111 162px,#050505 193px,#131313 243px,#222222 256px,#434343 269px,#919191 289px,#a3a3a3 297px,#a5a5a5 304px,#989898 311px,#757575 320px,#343434 335px,#181818 345px,#080808 356px,#030303 376px,#060606 450px)"></i>
<i style="left:627px;background:linear-gradient(#000000,#030303 130px,#131313 163px,#090909 196px,#131313 238px,#232323 254px,#414141 268px,#5e5e5e 276px,#8e8e8e 288px,#a0a0a0 296px,#a4a4a4 303px,#989898 310px,#767676 319px,#353535 334px,#1a1a1a 343px,#0a0a0a 354px,#030303 372px,#060606 450px)"></i>
<i style="left:630px;background:linear-gradient(#000000,#030303 115px,#111111 145px,#171717 163px,#0b0b0b 198px,#131313 232px,#222222 250px,#383838 262px,#4e4e4e 271px,#8e8e8e 288px,#9f9f9f 296px,#a1a1a1 303px,#949494 310px,#6e6e6e 320px,#323232 334px,#191919 343px,#080808 355px,#030303 375px,#060606 450px)"></i>
<i style="left:633px;background:linear-gradient(#000000,#030303 116px,#191919 154px,#121212 170px,#040404 190px,#151515 235px,#272727 251px,#515151 270px,#8e8e8e 288px,#9e9e9e 296px,#9f9f9f 303px,#919191 310px,#6b6b6b 320px,#343434 333px,#1a1a1a 342px,#090909 354px,#030303 374px,#060606 450px)"></i>
<i style="left:636px;background:linear-gradient(#000000,#030303 109px,#0b0b0b 139px,#141414 159px,#060606 194px,#111111 230px,#212121 246px,#3a3a3a 258px,#4b4b4b 264px,#616161 273px,#909090 288px,#9f9f9f 297px,#9e9e9e 304px,#8d8d8d 311px,#575757 324px,#2c2c2c 335px,#151515 344px,#060606 357px,#030303 385px,#060606 450px)"></i>
<i style="left:639px;background:linear-gradient(#000000,#030303 122px,#141414 161px,#0a0a0a 182px,#030303 197px,#141414 237px,#242424 249px,#3e3e3e 259px,#4e4e4e 264px,#686868 274px,#919191 288px,#a0a0a0 297px,#9f9f9f 304px,#8e8e8e 311px,#5d5d5d 323px,#2d2d2d 335px,#161616 344px,#070707 356px,#030303 380px,#060606 450px)"></i>
<i style="left:642px;background:linear-gradient(#000000,#030303 119px,#121212 161px,#0b0b0b 210px,#101010 238px,#1e1e1e 249px,#373737 258px,#505050 265px,#797979 279px,#969696 290px,#a2a2a2 299px,#9d9d9d 306px,#8a8a8a 313px,#323232 334px,#191919 343px,#080808 355px,#030303 375px,#060606 450px)"></i>
<i style="left:645px;background:linear-gradient(#000000,#030303 126px,#060606 158px,#0c0c0c 182px,#0d0d0d 210px,#0b0b0b 240px,#1b1b1b 250px,#363636 259px,#4f4f4f 265px,#929292 288px,#a2a2a2 298px,#a1a1a1 305px,#909090 312px,#5e5e5e 324px,#2d2d2d 336px,#141414 346px,#070707 358px,#030303 384px,#060606 450px)"></i>
<i style="left:648px;background:linear-gradient(#000000,#030303 117px,#030303 151px,#060606 171px,#101010 198px,#0a0a0a 240px,#191919 250px,#343434 259px,#505050 266px,#929292 288px,#a3a3a3 298px,#a2a2a2 305px,#939393 312px,#666666 323px,#303030 336px,#161616 346px,#070707 358px,#030303 381px,#060606 450px)"></i>
<i style="left:651px;background:linear-gradient(#000000,#030303 115px,#060606 153px,#0c0c0c 177px,#111111 200px,#0c0c0c 235px,#161616 247px,#2a2a2a 256px,#474747 264px,#585858 269px,#919191 288px,#a4a4a4 299px,#a3a3a3 306px,#939393 313px,#666666 324px,#333333 336px,#171717 346px,#080808 358px,#030303 379px,#060606 450px)"></i>
<i style="left:654px;background:linear-gradient(#000000,#030303 117px,#080808 150px,#070707 166px,#131313 192px,#0d0d0d 233px,#161616 247px,#2a2a2a 257px,#474747 265px,#575757 270px,#939393 290px,#a4a4a4 300px,#a4a4a4 307px,#959595 314px,#676767 325px,#313131 338px,#161616 348px,#070707 360px,#030303 383px,#070707 450px)"></i>
<i style="left:657px;background:linear-gradient(#000000,#030303 121px,#161616 188px,#0a0a0a 232px,#131313 247px,#252525 257px,#3f3f3f 265px,#525252 270px,#929292 291px,#a5a5a5 301px,#a5a5a5 308px,#979797 315px,#6e6e6e 325px,#363636 338px,#191919 348px,#090909 359px,#030303 377px,#070707 450px)"></i>
<i style="left:660px;background:linear-gradient(#000000,#030303 122px,#060606 149px,#121212 186px,#070707 237px,#111111 250px,#262626 260px,#444444 268px,#929292 292px,#a5a5a5 302px,#a7a7a7 309px,#999999 316px,#707070 326px,#343434 340px,#171717 350px,#080808 361px,#030303 380px,#070707 450px)"></i>
<i style="left:663px;background:linear-gradient(#000000,#030303 125px,#080808 158px,#060606 176px,#0d0d0d 200px,#050505 238px,#111111 252px,#272727 262px,#525252 274px,#939393 294px,#a7a7a7 304px,#a7a7a7 311px,#979797 318px,#6e6e6e 328px,#363636 341px,#181818 351px,#090909 362px,#030303 380px,#070707 450px)"></i>
<i style="left:666px;background:linear-gradient(#000000,#030303 109px,#090909 153px,#080808 180px,#0a0a0a 208px,#070707 239px,#101010 253px,#222222 262px,#3e3e3e 270px,#878787 291px,#a3a3a3 302px,#aaaaaa 309px,#a4a4a4 315px,#8f8f8f 322px,#373737 342px,#191919 352px,#090909 363px,#030303 380px,#080808 450px)"></i>
<i style="left:669px;background:linear-gradient(#000000,#030303 103px,#070707 132px,#060606 164px,#050505 179px,#0b0b0b 205px,#090909 247px,#111111 256px,#262626 265px,#535353 277px,#969696 297px,#a8a8a8 306px,#a9a9a9 313px,#9a9a9a 320px,#717171 330px,#383838 343px,#1a1a1a 353px,#090909 364px,#030303 381px,#080808 450px)"></i>
<i style="left:672px;background:linear-gradient(#000000,#030303 110px,#131313 149px,#0c0c0c 194px,#0a0a0a 250px,#131313 258px,#2b2b2b 267px,#4e4e4e 276px,#979797 298px,#aaaaaa 307px,#aaaaaa 314px,#9a9a9a 321px,#717171 331px,#373737 344px,#191919 354px,#090909 365px,#040404 383px,#080808 450px)"></i>
<i style="left:675px;background:linear-gradient(#000000,#030303 108px,#0e0e0e 149px,#101010 170px,#080808 202px,#0e0e0e 250px,#1a1a1a 260px,#333333 269px,#515151 277px,#9b9b9b 300px,#ababab 308px,#aaaaaa 315px,#9a9a9a 322px,#6b6b6b 333px,#363636 345px,#181818 355px,#090909 366px,#040404 384px,#080808 450px)"></i>
<i style="left:678px;background:linear-gradient(#000000,#030303 126px,#0b0b0b 166px,#030303 197px,#101010 249px,#1d1d1d 260px,#353535 269px,#505050 276px,#898989 294px,#a7a7a7 305px,#aeaeae 312px,#a7a7a7 318px,#929292 325px,#383838 345px,#1a1a1a 355px,#090909 366px,#040404 383px,#090909 450px)"></i>
<i style="left:681px;background:linear-gradient(#000000,#030303 118px,#050505 154px,#060606 210px,#101010 248px,#1e1e1e 260px,#353535 269px,#535353 277px,#818181 292px,#a4a4a4 304px,#aeaeae 311px,#ababab 317px,#999999 324px,#5e5e5e 337px,#303030 348px,#151515 358px,#070707 370px,#040404 400px,#090909 450px)"></i>
<i style="left:684px;background:linear-gradient(#000000,#030303 120px,#050505 207px,#101010 249px,#1f1f1f 261px,#373737 270px,#525252 277px,#7c7c7c 291px,#a4a4a4 304px,#afafaf 311px,#adadad 317px,#9c9c9c 324px,#6b6b6b 335px,#363636 347px,#1b1b1b 356px,#0a0a0a 367px,#040404 384px,#090909 450px)"></i>
<i style="left:687px;background:linear-gradient(#000000,#030303 127px,#020202 190px,#0f0f0f 251px,#1d1d1d 262px,#363636 271px,#525252 278px,#a3a3a3 304px,#b0b0b0 312px,#adadad 318px,#9b9b9b 325px,#656565 337px,#353535 348px,#1a1a1a 357px,#090909 368px,#040404 385px,#090909 450px)"></i>
<i style="left:690px;background:linear-gradient(#000000,#030303 123px,#060606 221px,#0d0d0d 255px,#1d1d1d 264px,#3b3b3b 273px,#535353 279px,#a0a0a0 303px,#b0b0b0 311px,#b0b0b0 317px,#a1a1a1 324px,#7c7c7c 333px,#3b3b3b 347px,#1e1e1e 356px,#0c0c0c 366px,#040404 380px,#090909 450px)"></i>
<i style="left:693px;background:linear-gradient(#000000,#050505 230px,#0a0a0a 255px,#1e1e1e 265px,#3d3d3d 274px,#535353 279px,#a1a1a1 303px,#b0b0b0 311px,#b1b1b1 317px,#a3a3a3 324px,#7e7e7e 333px,#393939 348px,#1c1c1c 357px,#0a0a0a 368px,#040404 384px,#090909 450px)"></i>
<i style="left:696px;background:linear-gradient(#000000,#030303 238px,#0a0a0a 254px,#262626 267px,#484848 276px,#575757 280px,#a1a1a1 303px,#b1b1b1 311px,#b1b1b1 318px,#a1a1a1 325px,#767676 335px,#3a3a3a 348px,#1d1d1d 357px,#0b0b0b 368px,#040404 383px,#0a0a0a 450px)"></i>
<i style="left:699px;background:linear-gradient(#000000,#010101 203px,#050505 249px,#0a0a0a 254px,#1c1c1c 261px,#333333 270px,#575757 279px,#a5a5a5 304px,#b3b3b3 312px,#b3b3b3 318px,#a3a3a3 325px,#787878 335px,#383838 349px,#1c1c1c 358px,#0a0a0a 369px,#040404 385px,#0a0a0a 450px)"></i>
<i style="left:702px;background:linear-gradient(#000000,#030303 148px,#060606 188px,#060606 235px,#101010 251px,#282828 265px,#454545 274px,#5a5a5a 279px,#a6a6a6 304px,#b4b4b4 312px,#b2b2b2 319px,#a1a1a1 326px,#717171 337px,#363636 350px,#1b1b1b 359px,#0a0a0a 370px,#050505 386px,#0a0a0a 450px)"></i>
<i style="left:705px;background:linear-gradient(#000000,#030303 144px,#0b0b0b 180px,#070707 228px,#121212 250px,#222222 262px,#3a3a3a 271px,#5b5b5b 279px,#8d8d8d 295px,#acacac 306px,#b6b6b6 314px,#b2b2b2 320px,#9f9f9f 327px,#646464 340px,#313131 352px,#181818 361px,#080808 373px,#050505 395px,#0a0a0a 450px)"></i>
<i style="left:708px;background:linear-gradient(#000000,#030303 139px,#0f0f0f 176px,#050505 223px,#0f0f0f 249px,#202020 262px,#393939 271px,#5a5a5a 279px,#a6a6a6 303px,#b6b6b6 312px,#b5b5b5 319px,#a4a4a4 326px,#7a7a7a 336px,#3a3a3a 350px,#1b1b1b 360px,#0b0b0b 371px,#050505 387px,#0b0b0b 450px)"></i>
<i style="left:711px;background:linear-gradient(#000000,#030303 135px,#101010 172px,#020202 221px,#0e0e0e 250px,#1d1d1d 262px,#363636 271px,#5b5b5b 280px,#a4a4a4 302px,#b6b6b6 311px,#b7b7b7 318px,#a9a9a9 325px,#858585 334px,#3c3c3c 350px,#1d1d1d 360px,#0b0b0b 371px,#060606 387px,#0b0b0b 450px)"></i>
<i style="left:714px;background:linear-gradient(#000000,#030303 116px,#0b0b0b 174px,#040404 226px,#0b0b0b 250px,#1a1a1a 262px,#323232 271px,#5a5a5a 281px,#a2a2a2 301px,#b6b6b6 311px,#b8b8b8 318px,#ababab 325px,#888888 334px,#3b3b3b 351px,#1c1c1c 361px,#0a0a0a 373px,#060606 391px,#0c0c0c 450px)"></i>
<i style="left:717px;background:linear-gradient(#000000,#030303 144px,#050505 172px,#040404 193px,#060606 244px,#111111 258px,#252525 268px,#424242 276px,#575757 281px,#a1a1a1 301px,#b5b5b5 310px,#bababa 317px,#afafaf 324px,#939393 332px,#3d3d3d 351px,#1e1e1e 361px,#0c0c0c 372px,#070707 387px,#0c0c0c 450px)"></i>
<i style="left:720px;background:linear-gradient(#000000,#030303 150px,#060606 179px,#040404 243px,#111111 259px,#252525 269px,#424242 277px,#9d9d9d 300px,#b4b4b4 309px,#bbbbbb 316px,#b3b3b3 323px,#9a9a9a 331px,#3c3c3c 352px,#1d1d1d 362px,#0c0c0c 373px,#070707 388px,#0d0d0d 450px)"></i>
<i style="left:723px;background:linear-gradient(#000000,#030303 108px,#111111 161px,#090909 201px,#030303 237px,#0c0c0c 256px,#1e1e1e 267px,#3b3b3b 276px,#9f9f9f 301px,#b5b5b5 310px,#bbbbbb 317px,#b3b3b3 324px,#999999 332px,#3b3b3b 353px,#1f1f1f 362px,#0d0d0d 373px,#080808 388px,#0d0d0d 450px)"></i>
<i style="left:726px;background:linear-gradient(#000000,#030303 117px,#101010 153px,#0f0f0f 189px,#030303 227px,#080808 251px,#161616 264px,#2d2d2d 273px,#a2a2a2 302px,#b7b7b7 311px,#bcbcbc 318px,#b2b2b2 325px,#979797 333px,#3d3d3d 353px,#212121 362px,#0e0e0e 373px,#080808 387px,#0e0e0e 450px)"></i>
<i style="left:729px;background:linear-gradient(#000000,#030303 108px,#101010 144px,#0a0a0a 165px,#0f0f0f 187px,#020202 229px,#070707 252px,#151515 264px,#2b2b2b 273px,#787878 292px,#a4a4a4 303px,#b9b9b9 312px,#bcbcbc 319px,#b1b1b1 326px,#919191 335px,#3c3c3c 354px,#1f1f1f 364px,#0d0d0d 375px,#090909 390px,#0f0f0f 450px)"></i>
<i style="left:732px;background:linear-gradient(#000000,#030303 110px,#191919 153px,#101010 186px,#020202 225px,#060606 251px,#141414 264px,#292929 273px,#656565 288px,#a0a0a0 302px,#b7b7b7 311px,#bdbdbd 318px,#b5b5b5 325px,#9c9c9c 333px,#3b3b3b 355px,#1e1e1e 365px,#0d0d0d 376px,#0a0a0a 392px,#0f0f0f 450px)"></i>
<i style="left:735px;background:linear-gradient(#000000,#030303 120px,#131313 153px,#070707 182px,#030303 243px,#0c0c0c 259px,#1f1f1f 270px,#3d3d3d 279px,#9f9f9f 302px,#b7b7b7 311px,#bebebe 318px,#b7b7b7 325px,#9e9e9e 333px,#3e3e3e 355px,#202020 365px,#0e0e0e 376px,#0a0a0a 391px,#0f0f0f 450px)"></i>
<i style="left:738px;background:linear-gradient(#000000,#030303 116px,#121212 154px,#080808 187px,#040404 244px,#0d0d0d 260px,#1f1f1f 270px,#3c3c3c 279px,#a1a1a1 303px,#b9b9b9 312px,#bebebe 319px,#b6b6b6 326px,#9d9d9d 334px,#3d3d3d 356px,#1f1f1f 366px,#0e0e0e 377px,#0a0a0a 392px,#101010 450px)"></i>
<i style="left:741px;background:linear-gradient(#000000,#030303 120px,#131313 157px,#040404 205px,#060606 250px,#121212 264px,#282828 274px,#5b5b5b 287px,#a0a0a0 303px,#b8b8b8 312px,#bfbfbf 319px,#b8b8b8 326px,#a0a0a0 334px,#3d3d3d 357px,#1f1f1f 367px,#0e0e0e 378px,#0b0b0b 394px,#101010 450px)"></i>
<i style="left:744px;background:linear-gradient(#000000,#030303 107px,#121212 147px,#020202 202px,#080808 254px,#141414 266px,#2d2d2d 276px,#777777 294px,#a4a4a4 305px,#bbbbbb 314px,#bfbfbf 321px,#b6b6b6 328px,#989898 337px,#414141 357px,#222222 367px,#101010 378px,#0b0b0b 392px,#101010 450px)"></i>
<i style="left:747px;background:linear-gradient(#000000,#030303 115px,#090909 146px,#030303 179px,#090909 255px,#161616 267px,#2b2b2b 276px,#6f6f6f 293px,#a5a5a5 306px,#bcbcbc 315px,#c0c0c0 322px,#b6b6b6 329px,#999999 338px,#424242 358px,#232323 368px,#101010 379px,#0b0b0b 393px,#101010 450px)"></i>
<i style="left:750px;background:linear-gradient(#000000,#030303 111px,#040404 143px,#030303 172px,#080808 237px,#0d0d0d 259px,#1b1b1b 270px,#343434 279px,#7d7d7d 297px,#a9a9a9 308px,#bcbcbc 316px,#c1c1c1 323px,#b7b7b7 330px,#9a9a9a 339px,#3f3f3f 360px,#222222 370px,#101010 381px,#0c0c0c 396px,#111111 450px)"></i>
<i style="left:753px;background:linear-gradient(#000000,#030303 111px,#060606 148px,#060606 176px,#090909 222px,#0d0d0d 256px,#1a1a1a 269px,#323232 279px,#747474 296px,#a6a6a6 308px,#bdbdbd 317px,#c1c1c1 324px,#b8b8b8 331px,#9b9b9b 340px,#414141 361px,#232323 371px,#111111 382px,#0d0d0d 398px,#121212 450px)"></i>
<i style="left:756px;background:linear-gradient(#000000,#030303 114px,#070707 149px,#0f0f0f 181px,#0a0a0a 233px,#101010 260px,#1e1e1e 272px,#383838 282px,#747474 297px,#a6a6a6 309px,#bdbdbd 318px,#c2c2c2 325px,#b9b9b9 332px,#9c9c9c 341px,#424242 362px,#242424 372px,#141414 382px,#0f0f0f 396px,#131313 450px)"></i>
<i style="left:759px;background:linear-gradient(#000000,#030303 116px,#131313 178px,#060606 216px,#101010 260px,#1e1e1e 273px,#373737 283px,#6b6b6b 296px,#a3a3a3 309px,#bcbcbc 318px,#c3c3c3 325px,#bcbcbc 332px,#a5a5a5 340px,#404040 364px,#232323 374px,#141414 384px,#111111 400px,#141414 450px)"></i>
<i style="left:762px;background:linear-gradient(#000000,#030303 116px,#080808 156px,#121212 179px,#090909 200px,#020202 215px,#101010 262px,#202020 275px,#393939 285px,#6a6a6a 297px,#a3a3a3 310px,#bdbdbd 319px,#c3c3c3 326px,#bcbcbc 333px,#a6a6a6 341px,#424242 365px,#252525 375px,#161616 385px,#131313 402px,#161616 450px)"></i>
<i style="left:765px;background:linear-gradient(#000000,#030303 122px,#101010 179px,#080808 223px,#0d0d0d 259px,#1a1a1a 273px,#323232 284px,#505050 292px,#a0a0a0 310px,#bbbbbb 319px,#c4c4c4 326px,#bfbfbf 333px,#aaaaaa 341px,#676767 357px,#393939 369px,#202020 379px,#151515 390px,#171717 450px)"></i>
<i style="left:768px;background:linear-gradient(#000000,#030303 124px,#0b0b0b 154px,#060606 175px,#0d0d0d 200px,#090909 254px,#151515 270px,#2b2b2b 282px,#454545 290px,#a5a5a5 312px,#bebebe 321px,#c5c5c5 328px,#bebebe 335px,#a7a7a7 343px,#454545 367px,#282828 377px,#191919 387px,#171717 406px,#191919 450px)"></i>
<i style="left:771px;background:linear-gradient(#000000,#030303 112px,#0c0c0c 150px,#090909 178px,#0f0f0f 209px,#060606 254px,#141414 270px,#2a2a2a 282px,#494949 291px,#a7a7a7 313px,#bfbfbf 322px,#c6c6c6 329px,#bebebe 336px,#a4a4a4 345px,#464646 368px,#292929 378px,#1b1b1b 388px,#191919 409px,#1b1b1b 450px)"></i>
<i style="left:774px;background:linear-gradient(#000000,#030303 120px,#0a0a0a 152px,#050505 175px,#101010 202px,#0a0a0a 235px,#050505 255px,#161616 272px,#2d2d2d 283px,#4e4e4e 292px,#a9a9a9 314px,#c0c0c0 323px,#c6c6c6 330px,#bfbfbf 337px,#a5a5a5 346px,#474747 369px,#2b2b2b 379px,#1d1d1d 389px,#1b1b1b 416px,#1c1c1c 450px)"></i>
<i style="left:777px;background:linear-gradient(#000000,#030303 118px,#0f0f0f 206px,#080808 256px,#151515 271px,#2b2b2b 282px,#4b4b4b 291px,#a7a7a7 314px,#bfbfbf 323px,#c7c7c7 330px,#c1c1c1 337px,#acacac 345px,#444444 371px,#2a2a2a 381px,#1e1e1e 391px,#1e1e1e 450px)"></i>
<i style="left:780px;background:linear-gradient(#000000,#030303 120px,#0c0c0c 163px,#0d0d0d 258px,#191919 272px,#2d2d2d 282px,#4c4c4c 291px,#a6a6a6 314px,#c0c0c0 324px,#c7c7c7 331px,#c1c1c1 338px,#a8a8a8 347px,#484848 371px,#2d2d2d 381px,#212121 391px,#1f1f1f 450px)"></i>
<i style="left:783px;background:linear-gradient(#000000,#030303 139px,#0b0b0b 171px,#030303 197px,#0d0d0d 233px,#111111 261px,#1e1e1e 274px,#353535 284px,#575757 293px,#acacac 316px,#c3c3c3 326px,#c7c7c7 333px,#bdbdbd 341px,#a1a1a1 350px,#494949 372px,#2e2e2e 382px,#222222 392px,#212121 450px)"></i>
<i style="left:786px;background:linear-gradient(#000000,#030303 113px,#070707 155px,#080808 179px,#070707 205px,#131313 261px,#222222 275px,#3a3a3a 285px,#5e5e5e 294px,#707070 299px,#aeaeae 317px,#c4c4c4 327px,#c8c8c8 334px,#bdbdbd 342px,#a1a1a1 351px,#494949 373px,#2f2f2f 383px,#232323 393px,#222222 450px)"></i>
<i style="left:789px;background:linear-gradient(#000000,#030303 111px,#0c0c0c 166px,#050505 196px,#121212 260px,#202020 274px,#373737 284px,#595959 293px,#6c6c6c 297px,#b1b1b1 318px,#c6c6c6 329px,#c7c7c7 336px,#bababa 344px,#999999 354px,#4d4d4d 373px,#323232 383px,#252525 393px,#222222 440px,#232323 450px)"></i>
<i style="left:792px;background:linear-gradient(#000000,#030303 112px,#080808 141px,#0f0f0f 164px,#050505 197px,#0e0e0e 257px,#1c1c1c 272px,#333333 283px,#535353 292px,#6f6f6f 298px,#b3b3b3 319px,#c6c6c6 330px,#c7c7c7 337px,#bababa 345px,#999999 355px,#4e4e4e 374px,#323232 384px,#262626 394px,#232323 444px,#232323 450px)"></i>
<i style="left:795px;background:linear-gradient(#000000,#030303 108px,#0a0a0a 162px,#080808 231px,#0a0a0a 254px,#181818 271px,#2e2e2e 282px,#4c4c4c 291px,#717171 299px,#b2b2b2 319px,#c7c7c7 331px,#c7c7c7 339px,#b8b8b8 347px,#919191 358px,#4a4a4a 376px,#313131 386px,#252525 397px,#232323 450px)"></i>
<i style="left:798px;background:linear-gradient(#000000,#030303 113px,#030303 147px,#040404 174px,#0c0c0c 203px,#040404 246px,#121212 268px,#252525 280px,#444444 290px,#727272 300px,#b2b2b2 320px,#c7c7c7 332px,#c7c7c7 340px,#b8b8b8 348px,#919191 359px,#4b4b4b 377px,#313131 387px,#262626 398px,#232323 450px)"></i>
<i style="left:801px;background:linear-gradient(#000000,#030303 131px,#0c0c0c 207px,#030303 245px,#111111 269px,#242424 281px,#3f3f3f 290px,#636363 298px,#717171 301px,#b0b0b0 320px,#c7c7c7 332px,#c8c8c8 340px,#bababa 348px,#959595 359px,#4e4e4e 377px,#343434 387px,#272727 398px,#242424 450px)"></i>
<i style="left:804px;background:linear-gradient(#000000,#030303 132px,#0b0b0b 167px,#080808 227px,#070707 253px,#121212 272px,#252525 283px,#424242 292px,#707070 302px,#b0b0b0 321px,#c6c6c6 332px,#c9c9c9 340px,#bdbdbd 348px,#9d9d9d 358px,#4f4f4f 378px,#353535 388px,#282828 399px,#252525 450px)"></i>
<i style="left:807px;background:linear-gradient(#000000,#030303 120px,#0b0b0b 160px,#040404 186px,#090909 216px,#090909 260px,#131313 275px,#262626 285px,#444444 294px,#6e6e6e 303px,#b0b0b0 322px,#c6c6c6 333px,#cacaca 340px,#bfbfbf 348px,#a1a1a1 358px,#4f4f4f 379px,#363636 389px,#292929 400px,#262626 450px)"></i>
<i style="left:810px;background:linear-gradient(#000000,#040404 143px,#090909 176px,#090909 267px,#161616 279px,#2e2e2e 289px,#505050 298px,#6c6c6c 304px,#afafaf 323px,#c6c6c6 333px,#cacaca 340px,#c1c1c1 348px,#a4a4a4 358px,#505050 380px,#373737 390px,#2a2a2a 401px,#272727 448px,#272727 450px)"></i>
<i style="left:813px;background:linear-gradient(#000000,#040404 149px,#080808 184px,#080808 222px,#070707 268px,#151515 280px,#2d2d2d 290px,#4f4f4f 299px,#6b6b6b 305px,#b2b2b2 325px,#c8c8c8 335px,#cacaca 342px,#bfbfbf 350px,#a1a1a1 360px,#515151 381px,#383838 391px,#2c2c2c 402px,#282828 446px,#282828 450px)"></i>
<i style="left:816px;background:linear-gradient(#000000,#040404 155px,#080808 180px,#030303 203px,#070707 238px,#060606 268px,#151515 281px,#303030 292px,#585858 302px,#707070 308px,#b4b4b4 327px,#c8c8c8 336px,#cbcbcb 343px,#bfbfbf 351px,#a1a1a1 361px,#525252 382px,#393939 392px,#2d2d2d 404px,#2a2a2a 450px)"></i>
<i style="left:819px;background:linear-gradient(#000000,#030303 113px,#0f0f0f 167px,#070707 209px,#070707 268px,#141414 281px,#2d2d2d 292px,#525252 302px,#6a6a6a 308px,#b7b7b7 329px,#c9c9c9 337px,#cbcbcb 344px,#c0c0c0 352px,#a1a1a1 362px,#565656 382px,#3c3c3c 392px,#2f2f2f 403px,#2b2b2b 436px,#2b2b2b 450px)"></i>
<i style="left:822px;background:linear-gradient(#000000,#030303 113px,#090909 141px,#111111 164px,#080808 217px,#080808 266px,#131313 280px,#282828 291px,#494949 301px,#696969 309px,#bababa 331px,#cacaca 339px,#cbcbcb 346px,#bebebe 354px,#9a9a9a 365px,#575757 383px,#3d3d3d 393px,#313131 404px,#2c2c2c 436px,#2c2c2c 450px)"></i>
<i style="left:825px;background:linear-gradient(#000000,#030303 118px,#0c0c0c 160px,#040404 190px,#060606 235px,#090909 269px,#161616 283px,#2d2d2d 294px,#545454 305px,#9d9d9d 324px,#bdbdbd 333px,#cbcbcb 340px,#cacaca 348px,#b9b9b9 357px,#8c8c8c 370px,#555555 385px,#3d3d3d 395px,#323232 407px,#2e2e2e 448px,#2e2e2e 450px)"></i>
<i style="left:828px;background:linear-gradient(#000000,#030303 113px,#090909 143px,#050505 168px,#060606 262px,#101010 280px,#252525 292px,#474747 303px,#949494 323px,#bbbbbb 333px,#cacaca 340px,#cccccc 347px,#c1c1c1 355px,#9f9f9f 366px,#595959 385px,#404040 395px,#333333 407px,#2f2f2f 439px,#2f2f2f 450px)"></i>
<i style="left:831px;background:linear-gradient(#000000,#030303 111px,#121212 149px,#020202 236px,#090909 273px,#181818 287px,#313131 298px,#878787 321px,#b8b8b8 333px,#cbcbcb 341px,#cdcdcd 348px,#c2c2c2 356px,#a0a0a0 367px,#5a5a5a 386px,#424242 396px,#353535 408px,#303030 439px,#303030 450px)"></i>
<i style="left:834px;background:linear-gradient(#000000,#030303 111px,#101010 139px,#171717 158px,#0b0b0b 182px,#030303 203px,#020202 249px,#0b0b0b 278px,#1a1a1a 290px,#373737 301px,#878787 322px,#b5b5b5 333px,#cacaca 341px,#cecece 348px,#c4c4c4 356px,#a8a8a8 366px,#5b5b5b 387px,#414141 398px,#353535 411px,#313131 450px)"></i>
<i style="left:837px;background:linear-gradient(#000000,#030303 124px,#131313 158px,#080808 183px,#030303 204px,#050505 264px,#0d0d0d 282px,#202020 294px,#414141 305px,#8e8e8e 324px,#b6b6b6 334px,#cacaca 342px,#cecece 349px,#c4c4c4 357px,#a8a8a8 367px,#5b5b5b 388px,#424242 399px,#363636 412px,#323232 450px)"></i>
<i style="left:840px;background:linear-gradient(#000000,#030303 109px,#0d0d0d 148px,#030303 223px,#070707 277px,#141414 289px,#2d2d2d 300px,#565656 311px,#b7b7b7 335px,#cbcbcb 343px,#cfcfcf 350px,#c5c5c5 358px,#a8a8a8 368px,#5b5b5b 389px,#424242 400px,#363636 413px,#333333 450px)"></i>
<i style="left:843px;background:linear-gradient(#000000,#030303 112px,#090909 145px,#040404 179px,#060606 275px,#0f0f0f 287px,#252525 298px,#464646 308px,#b4b4b4 335px,#cbcbcb 344px,#cfcfcf 351px,#c5c5c5 359px,#a8a8a8 369px,#5e5e5e 389px,#444444 400px,#373737 413px,#333333 450px)"></i>
<i style="left:846px;background:linear-gradient(#000000,#030303 121px,#090909 156px,#020202 200px,#070707 280px,#171717 293px,#323232 304px,#5a5a5a 314px,#b3b3b3 336px,#cacaca 345px,#cfcfcf 352px,#c5c5c5 360px,#a9a9a9 370px,#5c5c5c 391px,#434343 402px,#363636 415px,#333333 450px)"></i>
<i style="left:849px;background:linear-gradient(#000000,#030303 117px,#0a0a0a 160px,#020202 211px,#080808 280px,#151515 293px,#2d2d2d 304px,#535353 314px,#b3b3b3 338px,#cbcbcb 347px,#cecece 354px,#c4c4c4 362px,#a7a7a7 372px,#5d5d5d 392px,#434343 403px,#363636 416px,#333333 450px)"></i>
<i style="left:852px;background:linear-gradient(#000000,#040404 139px,#070707 181px,#030303 243px,#090909 282px,#161616 295px,#2f2f2f 306px,#555555 316px,#b7b7b7 341px,#cbcbcb 349px,#cecece 356px,#c3c3c3 364px,#a4a4a4 374px,#5e5e5e 393px,#444444 404px,#373737 417px,#333333 450px)"></i>
<i style="left:855px;background:linear-gradient(#000000,#030303 135px,#060606 201px,#030303 246px,#0a0a0a 283px,#181818 297px,#313131 308px,#575757 318px,#bbbbbb 344px,#cbcbcb 351px,#cdcdcd 358px,#c1c1c1 366px,#9f9f9f 377px,#5d5d5d 395px,#434343 406px,#363636 419px,#333333 450px)"></i>
<i style="left:858px;background:linear-gradient(#000000,#030303 136px,#080808 200px,#030303 242px,#0a0a0a 284px,#191919 299px,#313131 310px,#555555 320px,#969696 337px,#bfbfbf 348px,#cdcdcd 355px,#cccccc 362px,#bdbdbd 370px,#909090 383px,#5a5a5a 398px,#424242 409px,#363636 422px,#333333 450px)"></i>
<i style="left:861px;background:linear-gradient(#000000,#030303 116px,#0a0a0a 195px,#040404 247px,#0a0a0a 285px,#181818 300px,#323232 313px,#565656 324px,#848484 337px,#b9b9b9 350px,#cbcbcb 357px,#cccccc 364px,#c0c0c0 372px,#9c9c9c 383px,#5e5e5e 400px,#444444 411px,#373737 423px,#333333 450px)"></i>
<i style="left:864px;background:linear-gradient(#000000,#030303 119px,#0a0a0a 190px,#050505 259px,#0a0a0a 287px,#1b1b1b 303px,#393939 319px,#6e6e6e 336px,#bababa 354px,#cbcbcb 361px,#cccccc 368px,#bebebe 376px,#969696 388px,#5c5c5c 404px,#424242 415px,#363636 427px,#333333 450px)"></i>
<i style="left:867px;background:linear-gradient(#000000,#030303 123px,#080808 173px,#060606 278px,#101010 295px,#363636 320px,#4e4e4e 330px,#6f6f6f 340px,#b6b6b6 356px,#c9c9c9 363px,#cdcdcd 369px,#c2c2c2 377px,#a4a4a4 387px,#5b5b5b 407px,#424242 418px,#363636 431px,#333333 450px)"></i>
<i style="left:870px;background:linear-gradient(#000000,#030303 133px,#060606 173px,#070707 281px,#131313 297px,#424242 329px,#656565 341px,#b7b7b7 359px,#cacaca 366px,#cbcbcb 373px,#bebebe 381px,#969696 393px,#5c5c5c 409px,#424242 420px,#363636 432px,#333333 450px)"></i>
<i style="left:873px;background:linear-gradient(#000000,#030303 129px,#070707 178px,#060606 280px,#121212 296px,#343434 322px,#434343 333px,#616161 343px,#b3b3b3 360px,#c8c8c8 367px,#cccccc 373px,#c2c2c2 381px,#a4a4a4 391px,#5c5c5c 411px,#424242 422px,#363636 435px,#333333 450px)"></i>
<i style="left:876px;background:linear-gradient(#000000,#030303 119px,#060606 172px,#050505 277px,#0e0e0e 293px,#313131 319px,#3f3f3f 333px,#5e5e5e 344px,#8f8f8f 354px,#b9b9b9 363px,#c9c9c9 369px,#cbcbcb 375px,#bfbfbf 383px,#9d9d9d 394px,#5b5b5b 412px,#434343 422px,#373737 434px,#333333 450px)"></i>
<i style="left:879px;background:linear-gradient(#000000,#030303 127px,#050505 188px,#040404 276px,#0e0e0e 292px,#313131 318px,#3e3e3e 334px,#595959 344px,#7f7f7f 352px,#b5b5b5 363px,#c7c7c7 369px,#cbcbcb 375px,#c1c1c1 383px,#a3a3a3 393px,#5a5a5a 413px,#424242 423px,#363636 435px,#333333 450px)"></i>
<i style="left:882px;background:linear-gradient(#000000,#030303 130px,#080808 182px,#030303 266px,#080808 286px,#1c1c1c 302px,#323232 318px,#3c3c3c 334px,#555555 344px,#7a7a7a 352px,#b2b2b2 363px,#c6c6c6 369px,#cbcbcb 374px,#c3c3c3 382px,#ababab 391px,#5b5b5b 413px,#434343 423px,#363636 435px,#333333 450px)"></i>
<i style="left:885px;background:linear-gradient(#000000,#030303 128px,#080808 185px,#030303 273px,#0c0c0c 290px,#323232 318px,#3b3b3b 335px,#555555 345px,#7a7a7a 353px,#b2b2b2 364px,#c6c6c6 370px,#cbcbcb 376px,#c0c0c0 384px,#a2a2a2 394px,#595959 414px,#424242 424px,#363636 436px,#333333 450px)"></i>
<i style="left:888px;background:linear-gradient(#000000,#030303 130px,#070707 192px,#040404 278px,#0f0f0f 293px,#323232 317px,#3a3a3a 335px,#505050 344px,#6c6c6c 351px,#b4b4b4 365px,#c6c6c6 371px,#cacaca 377px,#bfbfbf 385px,#a0a0a0 395px,#5b5b5b 414px,#434343 424px,#363636 436px,#333333 450px)"></i>
<i style="left:891px;background:linear-gradient(#000000,#030303 128px,#060606 190px,#050505 279px,#101010 294px,#313131 317px,#3a3a3a 336px,#515151 345px,#6f6f6f 352px,#b1b1b1 365px,#c5c5c5 371px,#cacaca 376px,#c2c2c2 384px,#a5a5a5 394px,#5c5c5c 414px,#434343 424px,#363636 436px,#333333 450px)"></i>
<i style="left:894px;background:linear-gradient(#000000,#030303 125px,#060606 178px,#050505 279px,#101010 294px,#313131 317px,#383838 336px,#464646 342px,#5e5e5e 349px,#b3b3b3 366px,#c6c6c6 372px,#c9c9c9 378px,#bebebe 386px,#9f9f9f 396px,#595959 415px,#424242 425px,#363636 437px,#333333 450px)"></i>
<i style="left:897px;background:linear-gradient(#000000,#030303 128px,#060606 179px,#040404 278px,#0f0f0f 293px,#2f2f2f 317px,#353535 337px,#414141 342px,#656565 351px,#b1b1b1 366px,#c4c4c4 372px,#c8c8c8 378px,#bdbdbd 386px,#9e9e9e 396px,#595959 415px,#424242 425px,#363636 437px,#333333 450px)"></i>
<i style="left:900px;background:linear-gradient(#000000,#030303 130px,#060606 184px,#040404 278px,#0f0f0f 294px,#2e2e2e 317px,#303030 330px,#2b2b2b 338px,#323232 341px,#b2b2b2 367px,#c4c4c4 373px,#c6c6c6 379px,#bababa 387px,#979797 398px,#595959 415px,#414141 425px,#363636 437px,#333333 450px)"></i>
<i style="left:903px;background:linear-gradient(#000000,#030303 132px,#050505 197px,#040404 277px,#0d0d0d 293px,#2c2c2c 317px,#2e2e2e 328px,#252525 333px,#191919 338px,#1e1e1e 341px,#5a5a5a 350px,#ababab 366px,#c0c0c0 372px,#c5c5c5 377px,#bebebe 385px,#a1a1a1 395px,#595959 415px,#414141 425px,#363636 437px,#333333 450px)"></i>
<i style="left:906px;background:linear-gradient(#000000,#030303 128px,#060606 195px,#040404 279px,#0f0f0f 295px,#2a2a2a 318px,#2b2b2b 328px,#232323 332px,#0b0b0b 338px,#0c0c0c 340px,#161616 342px,#4a4a4a 348px,#777777 356px,#b1b1b1 368px,#c2c2c2 374px,#c3c3c3 380px,#b6b6b6 388px,#929292 399px,#585858 415px,#414141 425px,#363636 437px,#333333 450px)"></i>
<i style="left:909px;background:linear-gradient(#000000,#030303 130px,#060606 192px,#040404 280px,#101010 297px,#272727 318px,#282828 329px,#1b1b1b 334px,#0d0d0d 338px,#0f0f0f 340px,#181818 342px,#494949 348px,#8e8e8e 361px,#b6b6b6 370px,#c1c1c1 375px,#c0c0c0 382px,#b0b0b0 390px,#7b7b7b 405px,#505050 418px,#3d3d3d 428px,#343434 443px,#333333 450px)"></i>
<i style="left:912px;background:linear-gradient(#000000,#030303 129px,#060606 183px,#040404 281px,#101010 298px,#252525 319px,#252525 331px,#1c1c1c 338px,#222222 341px,#5a5a5a 351px,#adadad 368px,#bebebe 374px,#c1c1c1 380px,#b4b4b4 388px,#919191 399px,#585858 415px,#414141 425px,#363636 437px,#333333 450px)"></i>
<i style="left:915px;background:linear-gradient(#000000,#030303 130px,#060606 179px,#040404 281px,#101010 299px,#232323 320px,#282828 338px,#333333 342px,#767676 357px,#ababab 368px,#bdbdbd 374px,#bfbfbf 380px,#b3b3b3 388px,#909090 399px,#575757 415px,#404040 425px,#353535 438px,#333333 450px)"></i>
<i style="left:918px;background:linear-gradient(#000000,#030303 126px,#070707 178px,#030303 270px,#090909 292px,#202020 321px,#292929 336px,#383838 342px,#616161 353px,#a9a9a9 368px,#bbbbbb 374px,#bebebe 380px,#b2b2b2 388px,#8f8f8f 399px,#565656 415px,#404040 425px,#353535 438px,#333333 450px)"></i>
<i style="left:921px;background:linear-gradient(#000000,#030303 123px,#060606 179px,#040404 280px,#0e0e0e 300px,#1f1f1f 324px,#272727 335px,#383838 342px,#606060 353px,#ababab 369px,#bbbbbb 375px,#bbbbbb 382px,#acacac 390px,#7b7b7b 404px,#505050 417px,#3d3d3d 427px,#343434 441px,#333333 450px)"></i>
<i style="left:924px;background:linear-gradient(#000000,#030303 132px,#050505 198px,#050505 286px,#232323 333px,#343434 341px,#5e5e5e 353px,#a9a9a9 369px,#b9b9b9 375px,#bbbbbb 381px,#adadad 389px,#868686 401px,#555555 415px,#3f3f3f 425px,#353535 438px,#333333 450px)"></i>
<i style="left:927px;background:linear-gradient(#000000,#030303 131px,#050505 204px,#050505 287px,#212121 333px,#333333 341px,#5d5d5d 353px,#a7a7a7 369px,#b8b8b8 375px,#b9b9b9 381px,#acacac 389px,#858585 401px,#545454 415px,#3f3f3f 425px,#353535 438px,#333333 450px)"></i>
<i style="left:930px;background:linear-gradient(#000000,#030303 125px,#070707 185px,#050505 287px,#1e1e1e 332px,#2e2e2e 340px,#5b5b5b 353px,#a6a6a6 369px,#b6b6b6 375px,#b8b8b8 381px,#ababab 389px,#848484 401px,#535353 415px,#3e3e3e 425px,#353535 438px,#333333 450px)"></i>
<i style="left:933px;background:linear-gradient(#000000,#030303 121px,#070707 167px,#050505 289px,#1b1b1b 331px,#2d2d2d 340px,#5a5a5a 353px,#a4a4a4 369px,#b5b5b5 375px,#b7b7b7 381px,#aaaaaa 389px,#838383 401px,#535353 415px,#3e3e3e 425px,#353535 438px,#333333 450px)"></i>
<i style="left:936px;background:linear-gradient(#000000,#030303 123px,#070707 170px,#040404 285px,#161616 327px,#222222 336px,#3b3b3b 344px,#595959 353px,#a7a7a7 370px,#b6b6b6 376px,#b5b5b5 383px,#a4a4a4 391px,#525252 415px,#3e3e3e 425px,#343434 438px,#333333 450px)"></i>
<i style="left:939px;background:linear-gradient(#000000,#030303 128px,#070707 183px,#030303 265px,#070707 299px,#181818 330px,#2a2a2a 339px,#595959 353px,#a7a7a7 370px,#b6b6b6 376px,#b5b5b5 383px,#a4a4a4 391px,#525252 415px,#3e3e3e 425px,#343434 438px,#333333 450px)"></i>
<i style="left:942px;background:linear-gradient(#000000,#030303 128px,#060606 191px,#050505 291px,#151515 327px,#252525 337px,#595959 353px,#a7a7a7 370px,#b6b6b6 376px,#b5b5b5 383px,#a4a4a4 391px,#525252 415px,#3e3e3e 425px,#343434 438px,#333333 450px)"></i>
<i style="left:945px;background:linear-gradient(#000000,#030303 125px,#070707 182px,#040404 287px,#101010 320px,#1d1d1d 333px,#303030 341px,#5e5e5e 354px,#a3a3a3 369px,#b4b4b4 375px,#b6b6b6 381px,#aaaaaa 389px,#828282 401px,#525252 415px,#3e3e3e 425px,#343434 438px,#333333 450px)"></i>
<i style="left:948px;background:linear-gradient(#000000,#030303 129px,#060606 178px,#040404 287px,#0f0f0f 319px,#1d1d1d 333px,#343434 342px,#5e5e5e 354px,#a3a3a3 369px,#b4b4b4 375px,#b6b6b6 381px,#aaaaaa 389px,#828282 401px,#525252 415px,#3e3e3e 425px,#343434 438px,#333333 450px)"></i>
<i style="left:951px;background:linear-gradient(#000000,#030303 129px,#060606 190px,#040404 282px,#0d0d0d 315px,#1a1a1a 331px,#2e2e2e 340px,#595959 353px,#a7a7a7 370px,#b6b6b6 376px,#b5b5b5 383px,#a4a4a4 391px,#525252 415px,#3e3e3e 425px,#343434 438px,#333333 450px)"></i>
<i style="left:954px;background:linear-gradient(#000000,#030303 128px,#060606 192px,#030303 278px,#0b0b0b 312px,#1a1a1a 330px,#2b2b2b 339px,#5a5a5a 353px,#a7a7a7 370px,#b6b6b6 376px,#b5b5b5 383px,#a4a4a4 391px,#525252 415px,#3e3e3e 425px,#343434 438px,#333333 450px)"></i>
<i style="left:957px;background:linear-gradient(#000000,#030303 130px,#060606 181px,#040404 286px,#0d0d0d 316px,#1d1d1d 332px,#323232 341px,#484848 348px,#676767 356px,#a3a3a3 369px,#b4b4b4 375px,#b6b6b6 381px,#aaaaaa 389px,#828282 401px,#525252 415px,#3e3e3e 425px,#343434 438px,#333333 450px)"></i>
<i style="left:960px;background:linear-gradient(#000000,#030303 126px,#060606 190px,#040404 287px,#0e0e0e 316px,#1e1e1e 332px,#323232 341px,#484848 348px,#676767 356px,#a3a3a3 369px,#b4b4b4 375px,#b6b6b6 381px,#aaaaaa 389px,#828282 401px,#525252 415px,#3e3e3e 425px,#343434 438px,#333333 450px)"></i>
<i style="left:963px;background:linear-gradient(#000000,#030303 126px,#060606 196px,#040404 286px,#0d0d0d 315px,#1e1e1e 332px,#333333 341px,#464646 347px,#626262 355px,#a7a7a7 370px,#b6b6b6 376px,#b5b5b5 383px,#a4a4a4 391px,#525252 415px,#3e3e3e 425px,#343434 438px,#333333 450px)"></i>
<i style="left:966px;background:linear-gradient(#000000,#030303 127px,#070707 192px,#040404 282px,#0c0c0c 313px,#1d1d1d 331px,#303030 340px,#464646 347px,#626262 355px,#a7a7a7 370px,#b6b6b6 376px,#b5b5b5 383px,#a4a4a4 391px,#525252 415px,#3e3e3e 425px,#343434 438px,#333333 450px)"></i>
<i style="left:969px;background:linear-gradient(#000000,#030303 129px,#060606 200px,#040404 283px,#0c0c0c 313px,#1d1d1d 331px,#333333 341px,#464646 347px,#5e5e5e 354px,#a7a7a7 370px,#b6b6b6 376px,#b5b5b5 383px,#a4a4a4 391px,#525252 415px,#3e3e3e 425px,#343434 438px,#333333 450px)"></i>
<i style="left:972px;background:linear-gradient(#000000,#030303 128px,#050505 197px,#030303 282px,#0c0c0c 313px,#1e1e1e 331px,#333333 341px,#464646 347px,#5e5e5e 354px,#a7a7a7 370px,#b6b6b6 376px,#b5b5b5 383px,#a4a4a4 391px,#525252 415px,#3e3e3e 425px,#343434 438px,#333333 450px)"></i>
<i style="left:975px;background:linear-gradient(#000000,#030303 127px,#060606 188px,#030303 278px,#0b0b0b 311px,#1c1c1c 330px,#313131 340px,#464646 347px,#5d5d5d 354px,#a7a7a7 370px,#b6b6b6 376px,#b5b5b5 383px,#a4a4a4 391px,#525252 415px,#3e3e3e 425px,#343434 438px,#333333 450px)"></i>
</div>
<div class="fld" style="left:205px;top:670px;width:977px;height:451px;clip-path:polygon(5.3px 0.2px,5.3px 7.8px,5.3px 7.8px,5.3px 13.0px,5.4px 13.0px,5.4px 18.2px,5.4px 18.2px,5.4px 23.3px,5.4px 23.3px,5.4px 28.5px,5.5px 28.5px,5.5px 33.7px,5.5px 33.7px,5.5px 38.9px,5.6px 38.9px,5.6px 44.1px,5.7px 44.1px,5.7px 49.2px,5.7px 49.2px,5.7px 54.4px,5.8px 54.4px,5.8px 59.6px,5.9px 59.6px,5.9px 64.8px,5.9px 64.8px,5.9px 70.0px,6.0px 70.0px,6.0px 75.1px,6.1px 75.1px,6.1px 80.3px,6.2px 80.3px,6.2px 85.5px,6.3px 85.5px,6.3px 90.7px,6.4px 90.7px,6.4px 95.9px,6.5px 95.9px,6.5px 101.0px,6.6px 101.0px,6.6px 106.2px,6.8px 106.2px,6.8px 111.4px,6.9px 111.4px,6.9px 116.6px,7.1px 116.6px,7.1px 121.8px,7.2px 121.8px,7.2px 126.9px,7.4px 126.9px,7.4px 132.1px,7.6px 132.1px,7.6px 137.3px,7.8px 137.3px,7.8px 142.5px,8.0px 142.5px,8.0px 147.7px,8.2px 147.7px,8.2px 152.8px,8.5px 152.8px,8.5px 158.0px,8.7px 158.0px,8.7px 163.2px,9.0px 163.2px,9.0px 168.4px,9.3px 168.4px,9.3px 173.6px,9.6px 173.6px,9.6px 178.7px,10.0px 178.7px,10.0px 183.9px,10.4px 183.9px,10.4px 189.1px,10.8px 189.1px,10.8px 194.3px,11.2px 194.3px,11.2px 199.5px,11.7px 199.5px,11.7px 204.6px,12.1px 204.6px,12.1px 209.8px,12.7px 209.8px,12.7px 215.0px,13.2px 215.0px,13.2px 220.2px,13.8px 220.2px,13.8px 225.4px,14.5px 225.4px,14.5px 230.5px,15.2px 230.5px,15.2px 235.7px,15.9px 235.7px,15.9px 240.9px,16.7px 240.9px,16.7px 246.1px,17.6px 246.1px,17.6px 251.3px,18.5px 251.3px,18.5px 256.4px,19.5px 256.4px,19.5px 261.6px,20.5px 261.6px,20.5px 266.8px,21.7px 266.8px,21.7px 272.0px,22.9px 272.0px,22.9px 277.2px,24.2px 277.2px,24.2px 282.3px,25.6px 282.3px,25.6px 287.5px,27.1px 287.5px,27.1px 292.7px,28.7px 292.7px,28.7px 297.9px,30.4px 297.9px,30.4px 303.1px,32.2px 303.1px,32.2px 308.2px,34.2px 308.2px,34.2px 313.4px,36.3px 313.4px,36.3px 318.6px,38.6px 318.6px,38.6px 323.8px,41.0px 323.8px,41.0px 329.0px,43.6px 329.0px,43.6px 334.1px,46.4px 334.1px,46.4px 339.3px,49.4px 339.3px,49.4px 344.5px,52.6px 344.5px,52.6px 349.7px,56.0px 349.7px,56.0px 354.9px,59.7px 354.9px,59.7px 360.0px,63.6px 360.0px,63.6px 365.2px,67.8px 365.2px,67.8px 370.4px,72.3px 370.4px,72.3px 375.6px,77.2px 375.6px,77.2px 380.8px,82.4px 380.8px,82.4px 385.9px,88.0px 385.9px,88.0px 391.1px,93.9px 391.1px,93.9px 396.3px,100.3px 396.3px,100.3px 401.5px,107.2px 401.5px,107.2px 406.7px,114.6px 406.7px,114.6px 411.8px,122.4px 411.8px,122.4px 417.0px,130.9px 417.0px,130.9px 422.2px,139.9px 422.2px,139.9px 427.4px,149.6px 427.4px,149.6px 432.6px,160.0px 432.6px,160.0px 437.7px,171.2px 437.7px,171.2px 442.9px,183.1px 442.9px,183.1px 449.0px,793.0px 449.0px,793.0px 442.9px,804.9px 442.9px,804.9px 437.7px,816.1px 437.7px,816.1px 432.6px,826.5px 432.6px,826.5px 427.4px,836.2px 427.4px,836.2px 422.2px,845.2px 422.2px,845.2px 417.0px,853.7px 417.0px,853.7px 411.8px,861.5px 411.8px,861.5px 406.7px,868.9px 406.7px,868.9px 401.5px,875.8px 401.5px,875.8px 396.3px,882.2px 396.3px,882.2px 391.1px,888.1px 391.1px,888.1px 385.9px,893.7px 385.9px,893.7px 380.8px,898.9px 380.8px,898.9px 375.6px,903.8px 375.6px,903.8px 370.4px,908.3px 370.4px,908.3px 365.2px,912.5px 365.2px,912.5px 360.0px,916.4px 360.0px,916.4px 354.9px,920.1px 354.9px,920.1px 349.7px,923.5px 349.7px,923.5px 344.5px,926.7px 344.5px,926.7px 339.3px,929.7px 339.3px,929.7px 334.1px,932.5px 334.1px,932.5px 329.0px,935.1px 329.0px,935.1px 323.8px,937.5px 323.8px,937.5px 318.6px,939.8px 318.6px,939.8px 313.4px,941.9px 313.4px,941.9px 308.2px,943.9px 308.2px,943.9px 303.1px,945.7px 303.1px,945.7px 297.9px,947.4px 297.9px,947.4px 292.7px,949.0px 292.7px,949.0px 287.5px,950.5px 287.5px,950.5px 282.3px,951.9px 282.3px,951.9px 277.2px,953.2px 277.2px,953.2px 272.0px,954.4px 272.0px,954.4px 266.8px,955.6px 266.8px,955.6px 261.6px,956.6px 261.6px,956.6px 256.4px,957.6px 256.4px,957.6px 251.3px,958.5px 251.3px,958.5px 246.1px,959.4px 246.1px,959.4px 240.9px,960.2px 240.9px,960.2px 235.7px,960.9px 235.7px,960.9px 230.5px,961.6px 230.5px,961.6px 225.4px,962.3px 225.4px,962.3px 220.2px,962.9px 220.2px,962.9px 215.0px,963.4px 215.0px,963.4px 209.8px,964.0px 209.8px,964.0px 204.6px,964.4px 204.6px,964.4px 199.5px,964.9px 199.5px,964.9px 194.3px,965.3px 194.3px,965.3px 189.1px,965.7px 189.1px,965.7px 183.9px,966.1px 183.9px,966.1px 178.7px,966.5px 178.7px,966.5px 173.6px,966.8px 173.6px,966.8px 168.4px,967.1px 168.4px,967.1px 163.2px,967.4px 163.2px,967.4px 158.0px,967.6px 158.0px,967.6px 152.8px,967.9px 152.8px,967.9px 147.7px,968.1px 147.7px,968.1px 142.5px,968.3px 142.5px,968.3px 137.3px,968.5px 137.3px,968.5px 132.1px,968.7px 132.1px,968.7px 126.9px,968.9px 126.9px,968.9px 121.8px,969.0px 121.8px,969.0px 116.6px,969.2px 116.6px,969.2px 111.4px,969.3px 111.4px,969.3px 106.2px,969.5px 106.2px,969.5px 101.0px,969.6px 101.0px,969.6px 95.9px,969.7px 95.9px,969.7px 90.7px,969.8px 90.7px,969.8px 85.5px,969.9px 85.5px,969.9px 80.3px,970.0px 80.3px,970.0px 75.1px,970.1px 75.1px,970.1px 70.0px,970.2px 70.0px,970.2px 64.8px,970.2px 64.8px,970.2px 59.6px,970.3px 59.6px,970.3px 54.4px,970.4px 54.4px,970.4px 49.2px,970.4px 49.2px,970.4px 44.1px,970.5px 44.1px,970.5px 38.9px,970.6px 38.9px,970.6px 33.7px,970.6px 33.7px,970.6px 28.5px,970.7px 28.5px,970.7px 23.3px,970.7px 23.3px,970.7px 18.2px,970.7px 18.2px,970.7px 13.0px,970.8px 13.0px,970.8px 7.8px,970.8px 7.8px,970.8px 0.2px)">
<i style="left:0px;background:linear-gradient(#010101,#060606 90px,#0a0a0a 109px,#141414 138px,#1c1c1c 180px,#020202 233px,#131313 271px,#242424 282px,#434343 292px,#9b9b9b 312px,#bababa 322px,#c4c4c4 329px,#c0c0c0 334px,#acacac 340px,#494949 359px,#303030 366px,#212121 376px,#060606 405px,#030303 450px)"></i>
<i style="left:3px;background:linear-gradient(#020202,#040404 70px,#121212 135px,#131313 170px,#171717 188px,#070707 231px,#111111 268px,#1f1f1f 279px,#383838 288px,#636363 298px,#a1a1a1 312px,#c0c0c0 322px,#c7c7c7 329px,#c0c0c0 334px,#aaaaaa 340px,#4d4d4d 357px,#333333 364px,#242424 372px,#060606 405px,#030303 450px)"></i>
<i style="left:6px;background:linear-gradient(#020202,#080808 104px,#1c1c1c 147px,#1a1a1a 183px,#0a0a0a 215px,#0e0e0e 264px,#191919 275px,#2e2e2e 284px,#525252 293px,#9d9d9d 309px,#bebebe 319px,#cacaca 326px,#c7c7c7 331px,#b5b5b5 337px,#848484 346px,#4d4d4d 356px,#323232 363px,#242424 370px,#060606 406px,#030303 450px)"></i>
<i style="left:9px;background:linear-gradient(#020202,#070707 69px,#0b0b0b 107px,#0f0f0f 131px,#202020 163px,#1d1d1d 181px,#070707 209px,#0f0f0f 266px,#1c1c1c 276px,#353535 285px,#5c5c5c 294px,#a0a0a0 308px,#c2c2c2 318px,#cdcdcd 325px,#cacaca 330px,#b6b6b6 336px,#858585 345px,#4d4d4d 355px,#323232 362px,#242424 369px,#060606 406px,#030303 450px)"></i>
<i style="left:12px;background:linear-gradient(#020202,#090909 75px,#101010 110px,#161616 160px,#1a1a1a 180px,#080808 213px,#0e0e0e 265px,#1b1b1b 275px,#353535 284px,#5d5d5d 293px,#a3a3a3 307px,#c3c3c3 316px,#d0d0d0 323px,#cecece 328px,#c0c0c0 333px,#9d9d9d 340px,#515151 353px,#343434 360px,#242424 367px,#050505 407px,#030303 450px)"></i>
<i style="left:15px;background:linear-gradient(#010101,#0d0d0d 134px,#191919 183px,#0b0b0b 223px,#0c0c0c 262px,#161616 272px,#2e2e2e 281px,#545454 290px,#a6a6a6 306px,#c6c6c6 315px,#d3d3d3 322px,#d1d1d1 327px,#c2c2c2 332px,#9e9e9e 339px,#505050 352px,#333333 359px,#242424 366px,#050505 407px,#030303 450px)"></i>
<i style="left:18px;background:linear-gradient(#030303,#090909 97px,#131313 157px,#181818 190px,#070707 237px,#0b0b0b 261px,#191919 272px,#333333 281px,#5c5c5c 290px,#a5a5a5 304px,#c7c7c7 313px,#d5d5d5 320px,#d5d5d5 325px,#c7c7c7 330px,#a4a4a4 337px,#545454 350px,#363636 357px,#242424 364px,#050505 407px,#030303 450px)"></i>
<i style="left:21px;background:linear-gradient(#010101,#080808 74px,#131313 134px,#1e1e1e 184px,#030303 238px,#0d0d0d 261px,#1e1e1e 272px,#3a3a3a 281px,#666666 290px,#aaaaaa 303px,#cccccc 312px,#d9d9d9 319px,#d6d6d6 324px,#c7c7c7 329px,#a1a1a1 336px,#575757 348px,#373737 355px,#252525 362px,#1d1d1d 372px,#050505 408px,#030303 450px)"></i>
<i style="left:24px;background:linear-gradient(#010101,#080808 111px,#151515 142px,#181818 166px,#1d1d1d 187px,#040404 234px,#090909 254px,#161616 266px,#2d2d2d 275px,#525252 284px,#b1b1b1 302px,#cfcfcf 310px,#dcdcdc 317px,#dadada 322px,#cacaca 327px,#a4a4a4 334px,#585858 346px,#383838 353px,#252525 360px,#1c1c1c 370px,#101010 390px,#040404 409px,#030303 450px)"></i>
<i style="left:27px;background:linear-gradient(#020202,#0a0a0a 109px,#151515 139px,#181818 172px,#181818 191px,#060606 229px,#090909 251px,#151515 263px,#2b2b2b 272px,#4f4f4f 281px,#b4b4b4 300px,#d2d2d2 308px,#dfdfdf 315px,#dddddd 320px,#cdcdcd 325px,#a6a6a6 332px,#595959 344px,#383838 351px,#262626 358px,#1c1c1c 368px,#131313 386px,#040404 408px,#030303 450px)"></i>
<i style="left:30px;background:linear-gradient(#010101,#030303 82px,#121212 144px,#111111 172px,#131313 192px,#050505 228px,#090909 250px,#181818 262px,#2f2f2f 271px,#555555 280px,#b7b7b7 298px,#d6d6d6 306px,#e3e3e3 313px,#e1e1e1 318px,#d0d0d0 323px,#a8a8a8 330px,#5a5a5a 342px,#393939 349px,#262626 356px,#1c1c1c 366px,#141414 385px,#040404 408px,#030303 450px)"></i>
<i style="left:33px;background:linear-gradient(#010101,#050505 107px,#111111 185px,#030303 227px,#0a0a0a 250px,#1a1a1a 261px,#343434 270px,#5d5d5d 279px,#b6b6b6 295px,#d7d7d7 303px,#e6e6e6 310px,#e6e6e6 315px,#d8d8d8 320px,#b7b7b7 326px,#5a5a5a 340px,#3a3a3a 347px,#262626 355px,#1b1b1b 367px,#131313 385px,#040404 408px,#030303 450px)"></i>
<i style="left:36px;background:linear-gradient(#010101,#080808 117px,#0f0f0f 172px,#030303 227px,#0a0a0a 248px,#1a1a1a 259px,#353535 268px,#5f5f5f 277px,#bababa 293px,#dbdbdb 301px,#eaeaea 308px,#e9e9e9 313px,#dadada 318px,#b8b8b8 324px,#757575 334px,#4d4d4d 342px,#2f2f2f 351px,#1f1f1f 361px,#111111 388px,#040404 408px,#030303 450px)"></i>
<i style="left:39px;background:linear-gradient(#010101,#040404 136px,#090909 181px,#020202 228px,#0a0a0a 246px,#191919 256px,#333333 265px,#585858 273px,#bfbfbf 291px,#e0e0e0 299px,#eeeeee 306px,#ececec 311px,#dcdcdc 316px,#9c9c9c 327px,#464646 345px,#2c2c2c 353px,#1d1d1d 363px,#111111 387px,#040404 408px,#030303 450px)"></i>
<i style="left:42px;background:linear-gradient(#000000,#050505 156px,#040404 197px,#020202 232px,#0b0b0b 245px,#1f1f1f 256px,#3e3e3e 265px,#6d6d6d 274px,#bfbfbf 288px,#e1e1e1 296px,#f1f1f1 303px,#f1f1f1 308px,#e2e2e2 313px,#bdbdbd 320px,#a4a4a4 327px,#484848 345px,#2d2d2d 353px,#1e1e1e 362px,#0f0f0f 389px,#040404 409px,#030303 450px)"></i>
<i style="left:45px;background:linear-gradient(#000000,#060606 201px,#060606 232px,#111111 245px,#242424 255px,#414141 263px,#6c6c6c 271px,#bfbfbf 285px,#e3e3e3 293px,#f4f4f4 300px,#f6f6f6 305px,#e8e8e8 310px,#c6c6c6 316px,#b5b5b5 323px,#919191 331px,#4d4d4d 344px,#303030 352px,#1f1f1f 361px,#0e0e0e 391px,#040404 410px,#030303 450px)"></i>
<i style="left:48px;background:linear-gradient(#000000,#070707 133px,#0e0e0e 163px,#101010 232px,#1a1a1a 246px,#2f2f2f 255px,#4f4f4f 263px,#848484 272px,#cecece 285px,#eeeeee 293px,#fafafa 299px,#f7f7f7 304px,#e5e5e5 309px,#bebebe 315px,#b5b5b5 321px,#9b9b9b 328px,#474747 345px,#2c2c2c 353px,#1e1e1e 362px,#0f0f0f 389px,#040404 409px,#030303 450px)"></i>
<i style="left:51px;background:linear-gradient(#020202,#090909 89px,#1a1a1a 140px,#242424 169px,#222222 192px,#181818 220px,#1d1d1d 240px,#292929 249px,#424242 257px,#6a6a6a 265px,#bdbdbd 279px,#e3e3e3 287px,#f7f7f7 294px,#fcfcfc 299px,#f5f5f5 303px,#dedede 308px,#aeaeae 315px,#a7a7a7 321px,#8f8f8f 328px,#424242 345px,#282828 354px,#1c1c1c 364px,#111111 387px,#040404 408px,#030303 450px)"></i>
<i style="left:54px;background:linear-gradient(#020202,#080808 60px,#101010 104px,#2c2c2c 148px,#323232 174px,#303030 185px,#1c1c1c 205px,#1a1a1a 227px,#242424 241px,#363636 250px,#545454 258px,#818181 266px,#c5c5c5 278px,#e8e8e8 286px,#fafafa 293px,#fbfbfb 298px,#f1f1f1 302px,#d7d7d7 307px,#9b9b9b 315px,#929292 322px,#747474 331px,#3d3d3d 345px,#262626 354px,#1a1a1a 365px,#111111 386px,#040404 408px,#030303 450px)"></i>
<i style="left:57px;background:linear-gradient(#010101,#060606 101px,#171717 132px,#1b1b1b 144px,#353535 164px,#353535 175px,#2b2b2b 185px,#111111 200px,#151515 219px,#1f1f1f 236px,#313131 246px,#4e4e4e 254px,#787878 262px,#a8a8a8 270px,#d9d9d9 280px,#f4f4f4 288px,#fcfcfc 294px,#f7f7f7 298px,#e2e2e2 303px,#b0b0b0 310px,#888888 315px,#838383 316px,#7a7a7a 323px,#565656 335px,#313131 347px,#1f1f1f 358px,#181818 373px,#040404 409px,#030303 450px)"></i>
<i style="left:60px;background:linear-gradient(#030303,#080808 50px,#1b1b1b 110px,#363636 163px,#313131 181px,#191919 205px,#171717 228px,#202020 238px,#353535 246px,#575757 254px,#8d8d8d 263px,#cecece 275px,#f0f0f0 284px,#fcfcfc 290px,#fafafa 295px,#e6e6e6 300px,#bebebe 306px,#707070 316px,#6b6b6b 318px,#5d5d5d 327px,#2c2c2c 347px,#1c1c1c 360px,#101010 387px,#040404 409px,#030303 450px)"></i>
<i style="left:63px;background:linear-gradient(#020202,#090909 104px,#151515 122px,#252525 142px,#232323 162px,#2a2a2a 189px,#141414 229px,#1b1b1b 237px,#2f2f2f 244px,#545454 252px,#8d8d8d 261px,#cacaca 272px,#ededed 281px,#fcfcfc 288px,#fafafa 293px,#ececec 297px,#cdcdcd 302px,#686868 315px,#575757 318px,#424242 332px,#232323 350px,#181818 366px,#101010 386px,#040404 409px,#030303 450px)"></i>
<i style="left:66px;background:linear-gradient(#010101,#090909 96px,#181818 125px,#232323 148px,#232323 176px,#292929 194px,#171717 230px,#1e1e1e 237px,#353535 244px,#5d5d5d 252px,#a4a4a4 263px,#d6d6d6 273px,#f5f5f5 282px,#fdfdfd 288px,#f8f8f8 292px,#e2e2e2 297px,#b0b0b0 304px,#696969 313px,#464646 319px,#1e1e1e 353px,#171717 372px,#040404 409px,#030303 450px)"></i>
<i style="left:69px;background:linear-gradient(#010101,#080808 65px,#0b0b0b 115px,#2b2b2b 155px,#2b2b2b 178px,#313131 195px,#202020 227px,#272727 235px,#393939 242px,#595959 249px,#929292 258px,#cdcdcd 269px,#efefef 278px,#fdfdfd 285px,#fcfcfc 289px,#efefef 293px,#d1d1d1 298px,#636363 312px,#424242 318px,#353535 322px,#191919 360px,#101010 385px,#040404 409px,#030303 450px)"></i>
<i style="left:72px;background:linear-gradient(#030303,#090909 53px,#0f0f0f 89px,#131313 109px,#242424 135px,#272727 153px,#484848 178px,#494949 187px,#2e2e2e 213px,#2b2b2b 229px,#373737 237px,#4e4e4e 244px,#727272 251px,#a3a3a3 259px,#d9d9d9 270px,#f6f6f6 279px,#fefefe 285px,#f8f8f8 289px,#e0e0e0 294px,#acacac 301px,#646464 310px,#424242 316px,#2e2e2e 322px,#161616 365px,#0f0f0f 386px,#030303 409px,#030303 450px)"></i>
<i style="left:75px;background:linear-gradient(#040404,#0b0b0b 45px,#101010 76px,#222222 109px,#3e3e3e 139px,#494949 159px,#565656 178px,#494949 191px,#313131 209px,#2e2e2e 222px,#323232 232px,#424242 239px,#5e5e5e 246px,#8f8f8f 254px,#cacaca 265px,#eeeeee 274px,#fdfdfd 281px,#fcfcfc 286px,#ededed 290px,#cecece 295px,#666666 308px,#424242 314px,#2d2d2d 320px,#242424 327px,#151515 372px,#030303 410px,#030303 450px)"></i>
<i style="left:78px;background:linear-gradient(#020202,#060606 59px,#101010 105px,#424242 153px,#4b4b4b 176px,#444444 191px,#2f2f2f 213px,#2b2b2b 229px,#363636 236px,#4f4f4f 243px,#787878 250px,#a6a6a6 257px,#d5d5d5 266px,#f2f2f2 274px,#fefefe 280px,#fdfdfd 284px,#f0f0f0 288px,#d2d2d2 293px,#616161 307px,#3e3e3e 313px,#292929 319px,#202020 327px,#0f0f0f 385px,#030303 409px,#030303 450px)"></i>
<i style="left:81px;background:linear-gradient(#020202,#050505 94px,#111111 129px,#242424 169px,#232323 184px,#2f2f2f 202px,#282828 228px,#303030 235px,#444444 241px,#6d6d6d 248px,#aaaaaa 257px,#d6d6d6 265px,#f3f3f3 273px,#fefefe 279px,#fdfdfd 283px,#f0f0f0 287px,#d1d1d1 292px,#5f5f5f 306px,#3a3a3a 312px,#282828 317px,#1e1e1e 324px,#0f0f0f 384px,#030303 409px,#030303 450px)"></i>
<i style="left:84px;background:linear-gradient(#010101,#050505 91px,#191919 147px,#232323 187px,#2d2d2d 206px,#2d2d2d 228px,#393939 235px,#4f4f4f 241px,#777777 248px,#ababab 256px,#d6d6d6 264px,#f3f3f3 272px,#fefefe 278px,#fdfdfd 282px,#efefef 286px,#d0d0d0 291px,#5d5d5d 305px,#373737 311px,#232323 316px,#1a1a1a 322px,#161616 354px,#0f0f0f 385px,#030303 410px,#030303 450px)"></i>
<i style="left:87px;background:linear-gradient(#020202,#0a0a0a 96px,#151515 134px,#171717 156px,#292929 191px,#292929 215px,#393939 230px,#4c4c4c 237px,#6c6c6c 244px,#a9a9a9 254px,#dadada 264px,#f5f5f5 272px,#fdfdfd 278px,#f9f9f9 282px,#e9e9e9 286px,#bfbfbf 292px,#5b5b5b 304px,#343434 310px,#1c1c1c 316px,#141414 321px,#181818 338px,#0f0f0f 383px,#030303 410px,#030303 450px)"></i>
<i style="left:90px;background:linear-gradient(#010101,#080808 114px,#0e0e0e 156px,#1b1b1b 185px,#1b1b1b 212px,#282828 223px,#464646 234px,#6f6f6f 243px,#a5a5a5 252px,#dadada 263px,#f5f5f5 272px,#fcfcfc 278px,#f5f5f5 282px,#dbdbdb 287px,#a4a4a4 294px,#525252 304px,#2c2c2c 310px,#151515 316px,#0e0e0e 321px,#161616 335px,#101010 382px,#030303 410px,#030303 450px)"></i>
<i style="left:93px;background:linear-gradient(#010101,#070707 141px,#0e0e0e 186px,#0e0e0e 213px,#191919 223px,#2e2e2e 231px,#464646 237px,#9f9f9f 251px,#d3d3d3 261px,#efefef 269px,#fafafa 276px,#f6f6f6 280px,#e6e6e6 284px,#bcbcbc 290px,#515151 303px,#2b2b2b 309px,#171717 314px,#090909 321px,#151515 335px,#101010 381px,#030303 410px,#030303 450px)"></i>
<i style="left:96px;background:linear-gradient(#000000,#040404 130px,#080808 170px,#0a0a0a 211px,#151515 222px,#2b2b2b 231px,#474747 238px,#bababa 256px,#dcdcdc 263px,#f3f3f3 271px,#f9f9f9 277px,#efefef 281px,#d4d4d4 286px,#838383 296px,#3e3e3e 305px,#222222 310px,#0e0e0e 317px,#060606 323px,#131313 333px,#111111 378px,#030303 410px,#030303 450px)"></i>
<i style="left:99px;background:linear-gradient(#000000,#040404 103px,#0a0a0a 169px,#0e0e0e 207px,#191919 220px,#2f2f2f 230px,#515151 239px,#727272 245px,#bababa 256px,#dcdcdc 263px,#f2f2f2 271px,#f7f7f7 277px,#ededed 281px,#d1d1d1 286px,#494949 303px,#252525 309px,#0f0f0f 316px,#060606 324px,#111111 333px,#121212 376px,#030303 410px,#030303 450px)"></i>
<i style="left:102px;background:linear-gradient(#010101,#040404 102px,#0d0d0d 145px,#131313 181px,#0f0f0f 196px,#1e1e1e 215px,#343434 228px,#4d4d4d 236px,#6f6f6f 243px,#acacac 253px,#d4d4d4 261px,#efefef 270px,#f6f6f6 276px,#efefef 280px,#d6d6d6 285px,#979797 293px,#484848 303px,#242424 309px,#111111 315px,#050505 323px,#101010 334px,#121212 375px,#030303 410px,#030303 450px)"></i>
<i style="left:105px;background:linear-gradient(#010101,#050505 101px,#0e0e0e 130px,#292929 158px,#2e2e2e 183px,#262626 201px,#2e2e2e 218px,#3d3d3d 228px,#575757 236px,#818181 244px,#9f9f9f 249px,#d3d3d3 261px,#eeeeee 270px,#f4f4f4 276px,#ededed 280px,#d4d4d4 285px,#959595 293px,#4f4f4f 302px,#242424 309px,#101010 315px,#060606 323px,#0e0e0e 334px,#131313 373px,#030303 410px,#030303 450px)"></i>
<i style="left:108px;background:linear-gradient(#030303,#090909 68px,#181818 112px,#3a3a3a 158px,#434343 185px,#303030 213px,#363636 223px,#474747 231px,#666666 239px,#9f9f9f 249px,#d2d2d2 261px,#ececec 270px,#f3f3f3 276px,#ebebeb 280px,#d2d2d2 285px,#8c8c8c 294px,#484848 303px,#212121 310px,#0e0e0e 316px,#080808 322px,#0c0c0c 337px,#131313 367px,#0d0d0d 387px,#030303 410px,#030303 450px)"></i>
<i style="left:111px;background:linear-gradient(#020202,#090909 56px,#101010 96px,#343434 144px,#414141 160px,#484848 185px,#303030 213px,#353535 223px,#464646 231px,#656565 239px,#9d9d9d 249px,#d4d4d4 262px,#ececec 271px,#f1f1f1 277px,#e7e7e7 281px,#cccccc 286px,#575757 301px,#2d2d2d 308px,#161616 314px,#0c0c0c 320px,#0a0a0a 343px,#131313 363px,#0f0f0f 383px,#030303 410px,#030303 450px)"></i>
<i style="left:114px;background:linear-gradient(#010101,#040404 65px,#101010 132px,#303030 159px,#313131 173px,#2b2b2b 215px,#353535 225px,#484848 233px,#6b6b6b 241px,#9e9e9e 250px,#d0d0d0 262px,#e9e9e9 271px,#efefef 277px,#e7e7e7 281px,#cdcdcd 286px,#5a5a5a 301px,#313131 308px,#1b1b1b 314px,#0e0e0e 322px,#060606 339px,#121212 361px,#101010 382px,#030303 410px,#030303 450px)"></i>
<i style="left:117px;background:linear-gradient(#010101,#030303 84px,#0a0a0a 112px,#252525 155px,#202020 171px,#1b1b1b 184px,#1e1e1e 215px,#2d2d2d 227px,#434343 235px,#676767 243px,#9b9b9b 252px,#cacaca 262px,#e5e5e5 271px,#ececec 277px,#e6e6e6 281px,#cecece 286px,#929292 294px,#565656 302px,#303030 309px,#1a1a1a 316px,#050505 331px,#030303 340px,#121212 359px,#111111 380px,#030303 410px,#030303 450px)"></i>
<i style="left:120px;background:linear-gradient(#010101,#070707 110px,#1c1c1c 166px,#181818 189px,#0e0e0e 206px,#191919 220px,#2f2f2f 232px,#4b4b4b 240px,#707070 247px,#b1b1b1 258px,#d2d2d2 266px,#e5e5e5 274px,#e7e7e7 279px,#dddddd 283px,#c1c1c1 288px,#585858 302px,#373737 308px,#1f1f1f 315px,#030303 330px,#020202 342px,#111111 357px,#111111 379px,#030303 410px,#030303 450px)"></i>
<i style="left:123px;background:linear-gradient(#010101,#070707 137px,#121212 180px,#0c0c0c 209px,#171717 222px,#2d2d2d 233px,#484848 241px,#6f6f6f 248px,#afafaf 259px,#d0d0d0 267px,#e2e2e2 275px,#e3e3e3 280px,#d7d7d7 284px,#bbbbbb 289px,#5a5a5a 302px,#393939 308px,#1e1e1e 316px,#030303 328px,#010101 344px,#101010 357px,#111111 378px,#030303 410px,#030303 450px)"></i>
<i style="left:126px;background:linear-gradient(#000000,#050505 136px,#0a0a0a 196px,#0c0c0c 216px,#1a1a1a 227px,#333333 236px,#525252 243px,#939393 254px,#bebebe 263px,#d9d9d9 272px,#e0e0e0 278px,#dcdcdc 282px,#c6c6c6 287px,#8e8e8e 295px,#555555 303px,#323232 310px,#060606 325px,#000000 337px,#020202 346px,#101010 357px,#111111 378px,#030303 410px,#030303 450px)"></i>
<i style="left:129px;background:linear-gradient(#000000,#040404 127px,#080808 163px,#090909 215px,#161616 226px,#2c2c2c 235px,#474747 242px,#656565 246px,#797979 248px,#9b9b9b 255px,#c3c3c3 265px,#d9d9d9 274px,#dbdbdb 280px,#d1d1d1 284px,#b5b5b5 289px,#585858 302px,#353535 309px,#040404 325px,#010101 346px,#0f0f0f 356px,#121212 377px,#030303 410px,#030303 450px)"></i>
<i style="left:132px;background:linear-gradient(#010101,#080808 115px,#121212 169px,#101010 214px,#1b1b1b 225px,#303030 233px,#535353 241px,#8a8a8a 250px,#bfbfbf 264px,#d5d5d5 273px,#d8d8d8 279px,#cecece 283px,#b4b4b4 288px,#535353 302px,#323232 309px,#050505 324px,#000000 346px,#0e0e0e 356px,#121212 377px,#030303 410px,#030303 450px)"></i>
<i style="left:135px;background:linear-gradient(#010101,#060606 100px,#161616 145px,#1d1d1d 189px,#191919 212px,#232323 223px,#3a3a3a 232px,#636363 242px,#8b8b8b 250px,#bebebe 264px,#d3d3d3 273px,#d6d6d6 278px,#cdcdcd 282px,#b4b4b4 287px,#545454 301px,#333333 308px,#040404 324px,#000000 346px,#0e0e0e 357px,#111111 378px,#030303 410px,#030303 450px)"></i>
<i style="left:138px;background:linear-gradient(#010101,#060606 98px,#131313 139px,#161616 157px,#222222 185px,#151515 211px,#1e1e1e 221px,#363636 231px,#5d5d5d 241px,#898989 250px,#bfbfbf 264px,#d2d2d2 272px,#d4d4d4 278px,#c9c9c9 282px,#a8a8a8 288px,#555555 300px,#343434 307px,#030303 324px,#010101 347px,#0d0d0d 356px,#111111 378px,#030303 410px,#030303 450px)"></i>
<i style="left:141px;background:linear-gradient(#010101,#090909 112px,#1d1d1d 149px,#1b1b1b 169px,#232323 186px,#171717 200px,#0f0f0f 210px,#1a1a1a 220px,#353535 231px,#5c5c5c 241px,#a2a2a2 256px,#c7c7c7 266px,#d4d4d4 273px,#d2d2d2 278px,#bfbfbf 283px,#929292 290px,#555555 299px,#383838 305px,#1a1a1a 316px,#020202 325px,#000000 346px,#0c0c0c 355px,#111111 378px,#030303 410px,#030303 450px)"></i>
<i style="left:144px;background:linear-gradient(#010101,#0b0b0b 87px,#121212 121px,#313131 150px,#353535 180px,#2a2a2a 193px,#1a1a1a 208px,#1d1d1d 218px,#303030 228px,#535353 238px,#bdbdbd 262px,#d0d0d0 269px,#d4d4d4 275px,#cbcbcb 279px,#b1b1b1 284px,#585858 297px,#3b3b3b 303px,#242424 311px,#010101 326px,#020202 346px,#0c0c0c 356px,#111111 378px,#030303 410px,#030303 450px)"></i>
<i style="left:147px;background:linear-gradient(#030303,#0c0c0c 69px,#1e1e1e 122px,#4a4a4a 155px,#4e4e4e 169px,#444444 183px,#222222 205px,#202020 215px,#2b2b2b 224px,#454545 233px,#a0a0a0 254px,#c2c2c2 262px,#d2d2d2 269px,#d3d3d3 274px,#c8c8c8 278px,#a6a6a6 284px,#5b5b5b 295px,#3d3d3d 301px,#292929 308px,#0a0a0a 323px,#010101 328px,#010101 344px,#0b0b0b 354px,#111111 379px,#030303 410px,#030303 450px)"></i>
<i style="left:150px;background:linear-gradient(#010101,#070707 95px,#141414 121px,#3f3f3f 158px,#414141 173px,#353535 186px,#1a1a1a 205px,#1a1a1a 214px,#2a2a2a 223px,#474747 232px,#bdbdbd 259px,#d0d0d0 266px,#d3d3d3 272px,#c9c9c9 276px,#afafaf 281px,#575757 294px,#3b3b3b 300px,#292929 307px,#0b0b0b 324px,#010101 331px,#020202 342px,#0b0b0b 353px,#111111 379px,#030303 410px,#030303 450px)"></i>
<i style="left:153px;background:linear-gradient(#010101,#060606 99px,#1a1a1a 137px,#2d2d2d 157px,#2a2a2a 171px,#212121 192px,#111111 207px,#181818 215px,#2f2f2f 224px,#575757 234px,#878787 244px,#bfbfbf 258px,#d0d0d0 265px,#d3d3d3 270px,#cacaca 274px,#b1b1b1 279px,#595959 292px,#3c3c3c 298px,#2c2c2c 304px,#0d0d0d 325px,#040404 334px,#0b0b0b 354px,#0d0d0d 367px,#111111 379px,#040404 410px,#030303 450px)"></i>
<i style="left:156px;background:linear-gradient(#020202,#070707 88px,#1f1f1f 135px,#343434 158px,#313131 174px,#242424 194px,#191919 207px,#1f1f1f 215px,#363636 224px,#5c5c5c 233px,#898989 242px,#bbbbbb 255px,#cfcfcf 263px,#d2d2d2 269px,#c9c9c9 273px,#afafaf 278px,#575757 291px,#343434 298px,#282828 303px,#191919 320px,#0a0a0a 333px,#0b0b0b 353px,#0a0a0a 364px,#121212 377px,#040404 411px,#030303 450px)"></i>
<i style="left:159px;background:linear-gradient(#020202,#080808 53px,#0c0c0c 104px,#262626 137px,#4b4b4b 162px,#505050 175px,#454545 186px,#2a2a2a 204px,#292929 213px,#363636 221px,#525252 229px,#8a8a8a 240px,#bbbbbb 254px,#d0d0d0 263px,#d2d2d2 268px,#c9c9c9 272px,#afafaf 277px,#515151 291px,#2a2a2a 298px,#1f1f1f 302px,#202020 314px,#0f0f0f 334px,#0c0c0c 351px,#070707 362px,#121212 377px,#050505 411px,#030303 450px)"></i>
<i style="left:162px;background:linear-gradient(#040404,#0c0c0c 54px,#1a1a1a 107px,#1f1f1f 128px,#393939 144px,#595959 163px,#5e5e5e 174px,#565656 184px,#313131 203px,#2d2d2d 212px,#383838 220px,#535353 228px,#828282 237px,#a9a9a9 247px,#cacaca 259px,#d2d2d2 266px,#cccccc 270px,#b6b6b6 275px,#313131 295px,#1d1d1d 299px,#141414 303px,#212121 311px,#191919 324px,#121212 341px,#0a0a0a 353px,#060606 362px,#131313 377px,#050505 411px,#030303 450px)"></i>
<i style="left:165px;background:linear-gradient(#020202,#070707 68px,#0c0c0c 97px,#212121 132px,#393939 156px,#505050 173px,#4f4f4f 181px,#3c3c3c 192px,#242424 204px,#222222 211px,#2c2c2c 218px,#474747 226px,#767676 235px,#8b8b8b 239px,#b6b6b6 251px,#cdcdcd 261px,#d1d1d1 267px,#c7c7c7 271px,#aeaeae 276px,#272727 296px,#141414 301px,#101010 304px,#212121 311px,#1e1e1e 321px,#0f0f0f 349px,#030303 360px,#0c0c0c 369px,#131313 378px,#060606 411px,#030303 450px)"></i>
<i style="left:168px;background:linear-gradient(#010101,#040404 77px,#1a1a1a 129px,#292929 154px,#444444 173px,#454545 181px,#353535 191px,#181818 205px,#171717 211px,#282828 219px,#4b4b4b 228px,#8a8a8a 240px,#b6b6b6 252px,#cecece 262px,#d0d0d0 268px,#c4c4c4 272px,#a3a3a3 278px,#2f2f2f 295px,#1b1b1b 299px,#121212 303px,#1d1d1d 308px,#232323 313px,#131313 347px,#010101 359px,#060606 366px,#131313 376px,#0e0e0e 391px,#060606 411px,#030303 450px)"></i>
<i style="left:171px;background:linear-gradient(#040404,#0c0c0c 63px,#1e1e1e 105px,#3c3c3c 140px,#454545 170px,#414141 182px,#202020 205px,#212121 213px,#303030 221px,#515151 230px,#888888 241px,#b8b8b8 254px,#cdcdcd 263px,#d0d0d0 268px,#c7c7c7 272px,#aeaeae 277px,#494949 292px,#272727 298px,#1c1c1c 302px,#242424 313px,#161616 345px,#000000 358px,#030303 365px,#131313 375px,#121212 386px,#070707 410px,#040404 450px)"></i>
<i style="left:174px;background:linear-gradient(#020202,#060606 98px,#202020 138px,#2d2d2d 181px,#232323 210px,#2c2c2c 219px,#454545 228px,#717171 238px,#b6b6b6 255px,#cbcbcb 263px,#cfcfcf 269px,#c6c6c6 273px,#adadad 278px,#4f4f4f 292px,#323232 298px,#262626 303px,#1d1d1d 339px,#131313 348px,#000000 357px,#010101 365px,#131313 375px,#131313 385px,#070707 409px,#040404 450px)"></i>
<i style="left:177px;background:linear-gradient(#010101,#070707 104px,#1b1b1b 151px,#1c1c1c 177px,#232323 213px,#323232 223px,#4d4d4d 232px,#b8b8b8 257px,#cbcbcb 264px,#cfcfcf 270px,#c6c6c6 274px,#acacac 279px,#555555 292px,#393939 298px,#2c2c2c 304px,#1f1f1f 336px,#171717 346px,#000000 356px,#020202 366px,#141414 375px,#141414 385px,#080808 409px,#040404 450px)"></i>
<i style="left:180px;background:linear-gradient(#020202,#070707 55px,#1b1b1b 152px,#161616 177px,#232323 214px,#343434 225px,#4f4f4f 234px,#8c8c8c 248px,#b4b4b4 257px,#c9c9c9 264px,#cfcfcf 270px,#c8c8c8 274px,#b1b1b1 279px,#545454 293px,#3a3a3a 299px,#2c2c2c 306px,#222222 330px,#1c1c1c 343px,#0c0c0c 351px,#000000 356px,#010101 366px,#141414 375px,#151515 384px,#080808 409px,#040404 450px)"></i>
<i style="left:183px;background:linear-gradient(#010101,#070707 88px,#131313 134px,#191919 158px,#191919 185px,#212121 213px,#313131 224px,#4e4e4e 234px,#b5b5b5 258px,#cbcbcb 266px,#cecece 272px,#c3c3c3 276px,#a9a9a9 281px,#585858 293px,#3d3d3d 299px,#2d2d2d 306px,#252525 322px,#1e1e1e 342px,#0f0f0f 350px,#000000 355px,#000000 366px,#141414 375px,#161616 384px,#090909 409px,#040404 450px)"></i>
<i style="left:186px;background:linear-gradient(#010101,#080808 104px,#141414 145px,#101010 173px,#181818 212px,#262626 222px,#414141 231px,#909090 249px,#bdbdbd 261px,#cccccc 268px,#cdcdcd 273px,#c1c1c1 277px,#9f9f9f 283px,#5b5b5b 293px,#3e3e3e 299px,#2b2b2b 306px,#262626 314px,#212121 340px,#141414 348px,#000000 355px,#000000 366px,#151515 375px,#161616 384px,#090909 409px,#040404 450px)"></i>
<i style="left:189px;background:linear-gradient(#010101,#050505 107px,#0a0a0a 148px,#0b0b0b 208px,#161616 219px,#2b2b2b 228px,#4a4a4a 236px,#606060 240px,#808080 245px,#bbbbbb 261px,#cbcbcb 268px,#cdcdcd 273px,#c3c3c3 277px,#a9a9a9 282px,#585858 294px,#373737 301px,#212121 308px,#202020 313px,#262626 323px,#212121 341px,#151515 348px,#000000 355px,#000000 366px,#151515 375px,#171717 384px,#090909 409px,#040404 450px)"></i>
<i style="left:192px;background:linear-gradient(#000000,#060606 150px,#090909 209px,#151515 220px,#2e2e2e 230px,#535353 239px,#808080 245px,#bdbdbd 262px,#cbcbcb 269px,#cbcbcb 274px,#bababa 279px,#8e8e8e 286px,#535353 295px,#191919 307px,#131313 311px,#252525 320px,#232323 339px,#181818 347px,#000000 355px,#000000 366px,#151515 375px,#171717 384px,#0a0a0a 409px,#040404 450px)"></i>
<i style="left:195px;background:linear-gradient(#000000,#050505 121px,#090909 174px,#0c0c0c 208px,#181818 219px,#303030 228px,#565656 237px,#7e7e7e 245px,#bdbdbd 262px,#cbcbcb 269px,#cacaca 274px,#b9b9b9 279px,#8c8c8c 286px,#515151 295px,#161616 306px,#0b0b0b 311px,#111111 314px,#222222 319px,#262626 327px,#212121 342px,#101010 350px,#000000 356px,#010101 366px,#151515 375px,#171717 384px,#0a0a0a 409px,#040404 450px)"></i>
<i style="left:198px;background:linear-gradient(#010101,#050505 96px,#101010 149px,#121212 210px,#1f1f1f 220px,#383838 229px,#666666 240px,#959595 251px,#c0c0c0 263px,#cccccc 270px,#c9c9c9 274px,#b7b7b7 279px,#838383 287px,#505050 295px,#141414 306px,#0a0a0a 311px,#0c0c0c 313px,#222222 319px,#262626 326px,#222222 341px,#141414 349px,#000000 356px,#020202 366px,#161616 375px,#171717 384px,#0a0a0a 409px,#040404 450px)"></i>
<i style="left:201px;background:linear-gradient(#010101,#060606 108px,#151515 148px,#171717 187px,#101010 207px,#191919 217px,#303030 227px,#565656 237px,#838383 247px,#b9b9b9 261px,#c9c9c9 268px,#cacaca 273px,#bfbfbf 277px,#9e9e9e 283px,#555555 294px,#151515 307px,#0f0f0f 311px,#252525 320px,#252525 338px,#1a1a1a 347px,#000000 357px,#020202 365px,#171717 375px,#181818 384px,#0a0a0a 409px,#040404 450px)"></i>
<i style="left:204px;background:linear-gradient(#010101,#0c0c0c 109px,#252525 154px,#242424 180px,#121212 205px,#161616 216px,#292929 226px,#484848 235px,#979797 253px,#bfbfbf 264px,#cbcbcb 271px,#c8c8c8 275px,#b5b5b5 280px,#7a7a7a 289px,#4e4e4e 296px,#242424 306px,#1c1c1c 310px,#272727 322px,#242424 341px,#171717 349px,#020202 358px,#030303 364px,#181818 375px,#181818 385px,#0b0b0b 409px,#050505 450px)"></i>
<i style="left:207px;background:linear-gradient(#020202,#080808 101px,#121212 123px,#202020 146px,#262626 161px,#2d2d2d 179px,#202020 194px,#111111 209px,#151515 218px,#292929 228px,#4d4d4d 238px,#9c9c9c 256px,#c0c0c0 266px,#cacaca 273px,#c7c7c7 277px,#b3b3b3 282px,#525252 297px,#343434 304px,#272727 310px,#252525 340px,#191919 349px,#050505 358px,#060606 364px,#191919 375px,#181818 385px,#0b0b0b 409px,#050505 450px)"></i>
<i style="left:210px;background:linear-gradient(#010101,#060606 98px,#171717 121px,#2e2e2e 147px,#3d3d3d 176px,#363636 186px,#121212 208px,#101010 216px,#202020 226px,#3d3d3d 236px,#a9a9a9 261px,#c4c4c4 270px,#cacaca 276px,#c3c3c3 280px,#acacac 285px,#575757 298px,#3b3b3b 304px,#2e2e2e 310px,#292929 328px,#242424 343px,#101010 354px,#080808 360px,#0f0f0f 367px,#1b1b1b 376px,#171717 389px,#0c0c0c 410px,#060606 450px)"></i>
<i style="left:213px;background:linear-gradient(#010101,#060606 81px,#232323 134px,#545454 159px,#5b5b5b 170px,#575757 180px,#212121 205px,#181818 215px,#1e1e1e 225px,#313131 234px,#565656 244px,#a3a3a3 262px,#c1c1c1 271px,#cacaca 278px,#c4c4c4 282px,#aeaeae 287px,#535353 301px,#3a3a3a 307px,#2d2d2d 314px,#252525 343px,#0c0c0c 359px,#101010 366px,#1d1d1d 376px,#171717 390px,#0d0d0d 410px,#060606 450px)"></i>
<i style="left:216px;background:linear-gradient(#030303,#0a0a0a 43px,#1e1e1e 99px,#434343 138px,#5c5c5c 156px,#636363 173px,#5c5c5c 182px,#2a2a2a 203px,#1c1c1c 215px,#1f1f1f 226px,#2f2f2f 236px,#4c4c4c 245px,#aeaeae 268px,#c4c4c4 276px,#c9c9c9 282px,#c1c1c1 286px,#a8a8a8 291px,#545454 304px,#3b3b3b 310px,#2e2e2e 317px,#252525 344px,#101010 360px,#181818 369px,#1e1e1e 378px,#0e0e0e 409px,#070707 450px)"></i>
<i style="left:219px;background:linear-gradient(#020202,#040404 78px,#1a1a1a 129px,#2a2a2a 142px,#515151 163px,#565656 173px,#4a4a4a 182px,#232323 200px,#171717 212px,#191919 226px,#282828 237px,#414141 246px,#afafaf 272px,#c5c5c5 280px,#c8c8c8 286px,#bbbbbb 291px,#999999 297px,#585858 307px,#3d3d3d 313px,#2f2f2f 320px,#252525 346px,#141414 360px,#1d1d1d 371px,#1f1f1f 381px,#0e0e0e 408px,#080808 450px)"></i>
<i style="left:222px;background:linear-gradient(#010101,#090909 80px,#1c1c1c 135px,#434343 164px,#444444 174px,#363636 184px,#161616 200px,#111111 212px,#161616 230px,#262626 241px,#404040 250px,#b1b1b1 276px,#c5c5c5 283px,#c9c9c9 289px,#bdbdbd 294px,#9c9c9c 300px,#565656 311px,#3d3d3d 317px,#303030 324px,#252525 347px,#181818 360px,#212121 378px,#0f0f0f 409px,#080808 450px)"></i>
<i style="left:225px;background:linear-gradient(#020202,#090909 85px,#1e1e1e 130px,#272727 143px,#383838 161px,#363636 176px,#161616 208px,#121212 228px,#1a1a1a 240px,#2e2e2e 249px,#505050 258px,#ababab 278px,#c4c4c4 286px,#c9c9c9 292px,#bebebe 297px,#9f9f9f 303px,#595959 314px,#3f3f3f 320px,#313131 327px,#242424 350px,#1c1c1c 361px,#222222 378px,#101010 409px,#090909 450px)"></i>
<i style="left:228px;background:linear-gradient(#020202,#040404 69px,#0e0e0e 110px,#202020 134px,#2d2d2d 152px,#282828 167px,#1e1e1e 182px,#171717 208px,#0e0e0e 233px,#161616 243px,#2b2b2b 252px,#4d4d4d 261px,#aeaeae 282px,#c4c4c4 289px,#c9c9c9 295px,#bfbfbf 300px,#a1a1a1 306px,#565656 318px,#3e3e3e 324px,#313131 331px,#1f1f1f 362px,#232323 378px,#111111 408px,#0a0a0a 450px)"></i>
<i style="left:231px;background:linear-gradient(#010101,#090909 109px,#171717 137px,#212121 160px,#191919 198px,#0b0b0b 235px,#131313 245px,#2a2a2a 255px,#4c4c4c 264px,#aeaeae 285px,#c3c3c3 292px,#c9c9c9 298px,#bfbfbf 303px,#a2a2a2 309px,#585858 321px,#404040 327px,#323232 334px,#212121 362px,#242424 379px,#121212 408px,#0a0a0a 450px)"></i>
<i style="left:234px;background:linear-gradient(#000000,#050505 103px,#101010 151px,#171717 184px,#0a0a0a 233px,#111111 246px,#242424 256px,#424242 265px,#aeaeae 288px,#c3c3c3 295px,#c9c9c9 301px,#c0c0c0 306px,#a3a3a3 312px,#5a5a5a 324px,#414141 330px,#333333 337px,#242424 362px,#252525 379px,#121212 408px,#0b0b0b 450px)"></i>
<i style="left:237px;background:linear-gradient(#000000,#040404 109px,#0e0e0e 189px,#060606 234px,#0e0e0e 248px,#202020 258px,#424242 268px,#aeaeae 291px,#c4c4c4 298px,#c9c9c9 304px,#c0c0c0 309px,#a3a3a3 315px,#5b5b5b 327px,#424242 333px,#333333 340px,#262626 360px,#252525 380px,#131313 408px,#0b0b0b 450px)"></i>
<i style="left:240px;background:linear-gradient(#000000,#040404 124px,#090909 180px,#030303 239px,#0d0d0d 253px,#1d1d1d 261px,#4b4b4b 273px,#ababab 293px,#c2c2c2 300px,#cacaca 306px,#c2c2c2 311px,#a8a8a8 317px,#5b5b5b 330px,#3f3f3f 337px,#303030 345px,#272727 362px,#262626 380px,#131313 408px,#0b0b0b 450px)"></i>
<i style="left:243px;background:linear-gradient(#000000,#040404 125px,#0a0a0a 165px,#040404 243px,#0e0e0e 256px,#212121 264px,#3f3f3f 273px,#adadad 296px,#c4c4c4 303px,#cacaca 309px,#c0c0c0 314px,#a5a5a5 320px,#595959 333px,#3e3e3e 340px,#2f2f2f 348px,#282828 364px,#252525 381px,#131313 407px,#0b0b0b 450px)"></i>
<i style="left:246px;background:linear-gradient(#010101,#060606 104px,#161616 159px,#0f0f0f 191px,#040404 241px,#0d0d0d 255px,#202020 266px,#3e3e3e 275px,#acacac 298px,#c3c3c3 305px,#c9c9c9 311px,#c1c1c1 316px,#a6a6a6 322px,#565656 336px,#3c3c3c 343px,#2d2d2d 352px,#292929 369px,#222222 385px,#131313 408px,#0b0b0b 450px)"></i>
<i style="left:249px;background:linear-gradient(#010101,#060606 103px,#111111 133px,#212121 162px,#1d1d1d 179px,#0f0f0f 200px,#080808 245px,#121212 260px,#252525 270px,#424242 278px,#a8a8a8 299px,#c2c2c2 307px,#c9c9c9 313px,#c0c0c0 318px,#a6a6a6 324px,#555555 338px,#3b3b3b 345px,#2e2e2e 353px,#292929 369px,#222222 385px,#131313 408px,#0c0c0c 450px)"></i>
<i style="left:252px;background:linear-gradient(#010101,#060606 88px,#151515 136px,#252525 163px,#222222 178px,#121212 197px,#0c0c0c 253px,#161616 265px,#2a2a2a 274px,#4a4a4a 282px,#a7a7a7 301px,#c2c2c2 309px,#c8c8c8 315px,#c0c0c0 320px,#a6a6a6 326px,#555555 340px,#3b3b3b 347px,#2e2e2e 355px,#232323 384px,#141414 408px,#0c0c0c 450px)"></i>
<i style="left:255px;background:linear-gradient(#010101,#070707 89px,#202020 146px,#242424 166px,#272727 181px,#121212 221px,#0e0e0e 259px,#1a1a1a 270px,#2f2f2f 278px,#585858 287px,#a6a6a6 303px,#c1c1c1 311px,#c8c8c8 317px,#c0c0c0 322px,#a6a6a6 328px,#565656 342px,#3b3b3b 349px,#2e2e2e 357px,#242424 384px,#141414 408px,#0c0c0c 450px)"></i>
<i style="left:258px;background:linear-gradient(#010101,#050505 68px,#1a1a1a 136px,#323232 177px,#2b2b2b 191px,#151515 219px,#0f0f0f 262px,#191919 272px,#2e2e2e 280px,#565656 289px,#a4a4a4 305px,#bfbfbf 313px,#c7c7c7 319px,#c1c1c1 324px,#a8a8a8 330px,#575757 344px,#3c3c3c 351px,#2e2e2e 359px,#232323 385px,#141414 408px,#0c0c0c 450px)"></i>
<i style="left:261px;background:linear-gradient(#010101,#050505 63px,#161616 122px,#242424 144px,#3a3a3a 169px,#3a3a3a 181px,#151515 214px,#121212 235px,#101010 265px,#1b1b1b 275px,#323232 283px,#5a5a5a 292px,#a6a6a6 308px,#c0c0c0 316px,#c7c7c7 322px,#bfbfbf 327px,#a5a5a5 333px,#555555 347px,#3a3a3a 354px,#2d2d2d 362px,#222222 386px,#141414 408px,#0d0d0d 450px)"></i>
<i style="left:264px;background:linear-gradient(#010101,#060606 62px,#141414 102px,#383838 171px,#343434 183px,#101010 211px,#0e0e0e 227px,#101010 254px,#131313 270px,#202020 279px,#3b3b3b 288px,#aaaaaa 312px,#c1c1c1 320px,#c5c5c5 326px,#bbbbbb 331px,#9f9f9f 337px,#545454 350px,#3a3a3a 357px,#2d2d2d 365px,#212121 388px,#141414 408px,#0d0d0d 450px)"></i>
<i style="left:267px;background:linear-gradient(#010101,#070707 85px,#1a1a1a 115px,#252525 137px,#2c2c2c 168px,#2c2c2c 184px,#151515 203px,#0c0c0c 214px,#131313 272px,#1f1f1f 282px,#383838 291px,#737373 304px,#acacac 317px,#c0c0c0 324px,#c5c5c5 330px,#bababa 335px,#9f9f9f 341px,#545454 354px,#3a3a3a 361px,#2e2e2e 369px,#151515 408px,#0d0d0d 450px)"></i>
<i style="left:270px;background:linear-gradient(#010101,#080808 75px,#191919 125px,#2b2b2b 152px,#2a2a2a 186px,#0f0f0f 216px,#111111 272px,#1c1c1c 285px,#313131 294px,#555555 303px,#a8a8a8 321px,#c0c0c0 329px,#c4c4c4 335px,#bababa 340px,#9f9f9f 346px,#555555 359px,#3a3a3a 366px,#2d2d2d 375px,#151515 406px,#0e0e0e 450px)"></i>
<i style="left:273px;background:linear-gradient(#010101,#070707 95px,#1c1c1c 128px,#282828 153px,#323232 180px,#272727 196px,#121212 218px,#0d0d0d 249px,#141414 282px,#212121 293px,#373737 301px,#5f5f5f 310px,#a8a8a8 326px,#c0c0c0 334px,#c4c4c4 340px,#b9b9b9 345px,#9d9d9d 351px,#535353 364px,#3a3a3a 371px,#292929 381px,#161616 405px,#0e0e0e 450px)"></i>
<i style="left:276px;background:linear-gradient(#010101,#060606 85px,#121212 112px,#262626 140px,#2e2e2e 168px,#323232 184px,#232323 202px,#0f0f0f 225px,#080808 246px,#151515 288px,#242424 298px,#3c3c3c 306px,#a3a3a3 328px,#bdbdbd 336px,#c4c4c4 342px,#bdbdbd 347px,#a4a4a4 353px,#545454 367px,#3a3a3a 374px,#272727 384px,#161616 405px,#0f0f0f 450px)"></i>
<i style="left:279px;background:linear-gradient(#010101,#040404 79px,#0f0f0f 109px,#292929 140px,#282828 159px,#252525 173px,#2a2a2a 190px,#151515 215px,#020202 244px,#161616 292px,#242424 301px,#3e3e3e 309px,#9f9f9f 329px,#bababa 337px,#c3c3c3 343px,#bfbfbf 348px,#adadad 353px,#545454 369px,#3a3a3a 376px,#272727 385px,#171717 404px,#0f0f0f 450px)"></i>
<i style="left:282px;background:linear-gradient(#020202,#090909 62px,#131313 103px,#222222 138px,#202020 170px,#262626 190px,#161616 213px,#050505 243px,#121212 292px,#202020 302px,#3a3a3a 310px,#9f9f9f 331px,#bcbcbc 340px,#c3c3c3 346px,#bbbbbb 351px,#a2a2a2 357px,#535353 371px,#393939 378px,#262626 387px,#171717 404px,#0f0f0f 450px)"></i>
<i style="left:285px;background:linear-gradient(#010101,#070707 94px,#181818 137px,#202020 157px,#232323 176px,#242424 192px,#0d0d0d 228px,#090909 255px,#0f0f0f 291px,#1b1b1b 302px,#2e2e2e 309px,#535353 317px,#979797 331px,#b7b7b7 340px,#c2c2c2 346px,#bfbfbf 351px,#b0b0b0 356px,#7e7e7e 365px,#4e4e4e 374px,#343434 381px,#222222 391px,#161616 407px,#101010 450px)"></i>
<i style="left:288px;background:linear-gradient(#010101,#090909 98px,#282828 160px,#252525 183px,#0e0e0e 220px,#070707 269px,#0c0c0c 292px,#1a1a1a 303px,#313131 311px,#565656 319px,#9a9a9a 333px,#b8b8b8 342px,#c1c1c1 348px,#bebebe 353px,#adadad 358px,#4f4f4f 375px,#353535 382px,#232323 391px,#171717 406px,#101010 450px)"></i>
<i style="left:291px;background:linear-gradient(#000000,#040404 102px,#191919 168px,#080808 228px,#050505 285px,#0f0f0f 298px,#212121 307px,#404040 315px,#939393 332px,#b6b6b6 342px,#c1c1c1 348px,#bebebe 353px,#afafaf 358px,#7e7e7e 367px,#4e4e4e 376px,#343434 383px,#222222 392px,#171717 407px,#101010 450px)"></i>
<i style="left:294px;background:linear-gradient(#000000,#050505 108px,#0d0d0d 147px,#212121 166px,#1c1c1c 175px,#0c0c0c 189px,#030303 259px,#040404 288px,#111111 301px,#272727 310px,#535353 319px,#929292 332px,#b5b5b5 342px,#c1c1c1 349px,#bdbdbd 354px,#a7a7a7 360px,#4f4f4f 376px,#343434 383px,#222222 392px,#171717 407px,#101010 450px)"></i>
<i style="left:297px;background:linear-gradient(#000000,#040404 117px,#0d0d0d 143px,#1b1b1b 151px,#3f3f3f 164px,#424242 170px,#333333 177px,#131313 188px,#090909 197px,#030303 254px,#030303 287px,#0e0e0e 300px,#242424 310px,#353535 314px,#525252 319px,#8c8c8c 331px,#b1b1b1 341px,#bfbfbf 348px,#bebebe 353px,#b0b0b0 358px,#878787 366px,#505050 376px,#353535 383px,#222222 392px,#171717 407px,#101010 450px)"></i>
<i style="left:300px;background:linear-gradient(#000000,#040404 106px,#0c0c0c 141px,#1b1b1b 148px,#3d3d3d 156px,#5b5b5b 163px,#646464 168px,#5b5b5b 173px,#333333 182px,#171717 189px,#0b0b0b 196px,#030303 230px,#030303 287px,#0f0f0f 300px,#232323 309px,#3d3d3d 315px,#7a7a7a 327px,#a6a6a6 338px,#bcbcbc 346px,#bfbfbf 352px,#b4b4b4 357px,#939393 364px,#505050 376px,#353535 383px,#222222 392px,#171717 406px,#101010 450px)"></i>
<i style="left:303px;background:linear-gradient(#000000,#040404 99px,#101010 141px,#1b1b1b 147px,#383838 154px,#5e5e5e 162px,#6a6a6a 167px,#686868 171px,#565656 176px,#232323 187px,#121212 194px,#050505 214px,#020202 240px,#050505 288px,#111111 300px,#272727 309px,#4d4d4d 318px,#7e7e7e 328px,#a9a9a9 339px,#bcbcbc 347px,#bebebe 353px,#b1b1b1 358px,#8e8e8e 365px,#4c4c4c 377px,#303030 385px,#1e1e1e 395px,#161616 410px,#101010 450px)"></i>
<i style="left:306px;background:linear-gradient(#000000,#050505 103px,#181818 144px,#252525 151px,#4f4f4f 164px,#545454 169px,#494949 175px,#222222 188px,#111111 200px,#030303 224px,#070707 287px,#121212 299px,#292929 309px,#494949 317px,#7a7a7a 327px,#a5a5a5 338px,#bababa 346px,#bebebe 352px,#b4b4b4 357px,#949494 364px,#515151 376px,#323232 384px,#202020 393px,#161616 407px,#0f0f0f 450px)"></i>
<i style="left:309px;background:linear-gradient(#000000,#060606 95px,#141414 120px,#1e1e1e 141px,#242424 153px,#393939 167px,#363636 176px,#0d0d0d 210px,#050505 230px,#080808 285px,#151515 299px,#2b2b2b 309px,#4b4b4b 317px,#777777 326px,#a3a3a3 337px,#bababa 346px,#bebebe 352px,#b2b2b2 357px,#919191 364px,#4f4f4f 376px,#313131 384px,#1e1e1e 394px,#151515 409px,#0f0f0f 450px)"></i>
<i style="left:312px;background:linear-gradient(#020202,#070707 68px,#181818 112px,#2b2b2b 139px,#333333 180px,#252525 194px,#0b0b0b 214px,#050505 231px,#090909 284px,#151515 298px,#2b2b2b 308px,#494949 316px,#757575 325px,#a1a1a1 336px,#b9b9b9 345px,#bdbdbd 351px,#b4b4b4 356px,#999999 362px,#4c4c4c 376px,#2f2f2f 384px,#1e1e1e 394px,#141414 409px,#0f0f0f 450px)"></i>
<i style="left:315px;background:linear-gradient(#010101,#060606 94px,#121212 119px,#282828 144px,#2d2d2d 165px,#373737 180px,#2f2f2f 191px,#0a0a0a 216px,#040404 228px,#070707 261px,#0a0a0a 284px,#161616 298px,#2a2a2a 307px,#484848 315px,#787878 325px,#a2a2a2 336px,#bababa 345px,#bdbdbd 351px,#b2b2b2 356px,#919191 363px,#4f4f4f 375px,#313131 383px,#1e1e1e 393px,#141414 408px,#0f0f0f 450px)"></i>
<i style="left:318px;background:linear-gradient(#010101,#080808 78px,#0b0b0b 99px,#333333 148px,#424242 164px,#414141 182px,#313131 195px,#121212 215px,#0a0a0a 229px,#070707 263px,#080808 281px,#161616 297px,#2c2c2c 307px,#4b4b4b 315px,#727272 323px,#a1a1a1 335px,#b9b9b9 344px,#bebebe 350px,#b4b4b4 355px,#9a9a9a 361px,#4d4d4d 375px,#303030 383px,#1e1e1e 393px,#131313 408px,#0e0e0e 450px)"></i>
<i style="left:321px;background:linear-gradient(#020202,#0b0b0b 87px,#1b1b1b 129px,#2a2a2a 138px,#616161 155px,#696969 161px,#636363 168px,#1c1c1c 212px,#121212 228px,#080808 262px,#050505 278px,#141414 295px,#282828 305px,#444444 313px,#797979 324px,#a3a3a3 335px,#bababa 344px,#bebebe 350px,#b3b3b3 355px,#939393 362px,#505050 374px,#323232 382px,#1e1e1e 392px,#131313 407px,#0e0e0e 450px)"></i>
<i style="left:324px;background:linear-gradient(#010101,#080808 88px,#222222 130px,#2f2f2f 137px,#4a4a4a 144px,#797979 154px,#868686 159px,#868686 164px,#737373 172px,#414141 190px,#242424 204px,#171717 218px,#111111 250px,#050505 276px,#131313 293px,#272727 304px,#434343 312px,#777777 323px,#a5a5a5 335px,#bbbbbb 344px,#bebebe 350px,#b2b2b2 355px,#909090 362px,#4e4e4e 374px,#303030 382px,#1d1d1d 392px,#131313 407px,#0e0e0e 450px)"></i>
<i style="left:327px;background:linear-gradient(#020202,#0b0b0b 94px,#1c1c1c 122px,#303030 135px,#4a4a4a 144px,#717171 155px,#7c7c7c 161px,#787878 168px,#5e5e5e 180px,#1d1d1d 201px,#161616 207px,#181818 243px,#090909 275px,#111111 290px,#232323 301px,#3e3e3e 310px,#7b7b7b 323px,#a5a5a5 334px,#bbbbbb 343px,#bebebe 349px,#b3b3b3 354px,#929292 361px,#505050 373px,#313131 381px,#1e1e1e 391px,#121212 407px,#0e0e0e 450px)"></i>
<i style="left:330px;background:linear-gradient(#020202,#050505 73px,#141414 117px,#3a3a3a 150px,#5d5d5d 166px,#656565 175px,#5f5f5f 182px,#404040 194px,#262626 205px,#1c1c1c 216px,#1a1a1a 245px,#0d0d0d 274px,#131313 289px,#242424 300px,#3f3f3f 309px,#7c7c7c 322px,#a9a9a9 334px,#bcbcbc 342px,#bebebe 348px,#b3b3b3 353px,#929292 360px,#4f4f4f 372px,#313131 380px,#1e1e1e 390px,#121212 406px,#0d0d0d 450px)"></i>
<i style="left:333px;background:linear-gradient(#020202,#080808 78px,#242424 116px,#626262 159px,#757575 173px,#717171 181px,#575757 193px,#333333 208px,#252525 219px,#101010 274px,#171717 290px,#272727 300px,#414141 308px,#7d7d7d 321px,#a7a7a7 332px,#bdbdbd 341px,#bfbfbf 347px,#b2b2b2 352px,#909090 359px,#4e4e4e 371px,#313131 379px,#1f1f1f 389px,#111111 406px,#0d0d0d 450px)"></i>
<i style="left:336px;background:linear-gradient(#030303,#101010 79px,#202020 106px,#383838 126px,#6b6b6b 155px,#757575 170px,#6e6e6e 180px,#4d4d4d 196px,#2a2a2a 213px,#1e1e1e 230px,#121212 274px,#191919 290px,#2b2b2b 300px,#464646 308px,#7e7e7e 320px,#a9a9a9 331px,#bdbdbd 339px,#c0c0c0 345px,#b5b5b5 350px,#949494 357px,#525252 369px,#333333 377px,#202020 387px,#111111 405px,#0d0d0d 450px)"></i>
<i style="left:339px;background:linear-gradient(#010101,#060606 87px,#151515 123px,#2a2a2a 138px,#4b4b4b 156px,#505050 165px,#454545 176px,#3a3a3a 186px,#2e2e2e 202px,#1b1b1b 219px,#121212 243px,#141414 282px,#202020 294px,#383838 303px,#5a5a5a 311px,#888888 321px,#b0b0b0 332px,#bfbfbf 339px,#c0c0c0 344px,#b4b4b4 349px,#939393 356px,#505050 368px,#333333 376px,#212121 386px,#111111 405px,#0d0d0d 450px)"></i>
<i style="left:342px;background:linear-gradient(#010101,#060606 96px,#1c1c1c 132px,#3b3b3b 157px,#3c3c3c 168px,#2c2c2c 184px,#262626 199px,#101010 222px,#080808 240px,#161616 285px,#242424 295px,#3b3b3b 303px,#959595 323px,#b7b7b7 333px,#c1c1c1 340px,#bcbcbc 345px,#a7a7a7 351px,#4f4f4f 367px,#353535 374px,#222222 384px,#111111 404px,#0d0d0d 450px)"></i>
<i style="left:345px;background:linear-gradient(#010101,#0a0a0a 89px,#181818 128px,#393939 163px,#393939 178px,#232323 198px,#0d0d0d 217px,#030303 239px,#0f0f0f 268px,#161616 286px,#252525 295px,#3f3f3f 303px,#969696 322px,#b8b8b8 332px,#c1c1c1 338px,#bebebe 343px,#aaaaaa 349px,#4e4e4e 366px,#353535 373px,#232323 383px,#111111 405px,#0d0d0d 450px)"></i>
<i style="left:348px;background:linear-gradient(#010101,#060606 93px,#151515 139px,#313131 165px,#2c2c2c 177px,#0a0a0a 213px,#050505 239px,#141414 285px,#232323 294px,#3f3f3f 302px,#979797 321px,#b7b7b7 330px,#c1c1c1 336px,#c0c0c0 341px,#b2b2b2 346px,#898989 354px,#4d4d4d 365px,#343434 372px,#232323 382px,#111111 405px,#0d0d0d 450px)"></i>
<i style="left:351px;background:linear-gradient(#000000,#060606 106px,#0f0f0f 139px,#1d1d1d 147px,#464646 161px,#4a4a4a 166px,#404040 172px,#1a1a1a 185px,#0d0d0d 195px,#030303 228px,#090909 259px,#141414 286px,#242424 294px,#474747 303px,#8e8e8e 318px,#b4b4b4 328px,#c2c2c2 335px,#c0c0c0 340px,#adadad 346px,#7d7d7d 355px,#4d4d4d 364px,#343434 371px,#232323 381px,#101010 405px,#0c0c0c 450px)"></i>
<i style="left:354px;background:linear-gradient(#000000,#040404 116px,#0d0d0d 137px,#1b1b1b 144px,#393939 151px,#616161 159px,#6e6e6e 164px,#6b6b6b 168px,#585858 173px,#212121 184px,#0f0f0f 190px,#070707 199px,#020202 244px,#0e0e0e 280px,#1b1b1b 290px,#343434 298px,#9f9f9f 321px,#bababa 329px,#c3c3c3 335px,#bebebe 340px,#aaaaaa 346px,#4d4d4d 363px,#343434 370px,#232323 380px,#101010 405px,#0c0c0c 450px)"></i>
<i style="left:357px;background:linear-gradient(#000000,#040404 114px,#0d0d0d 138px,#1b1b1b 145px,#3e3e3e 153px,#5c5c5c 160px,#646464 165px,#5c5c5c 170px,#383838 178px,#1a1a1a 185px,#0b0b0b 192px,#040404 211px,#020202 251px,#080808 278px,#202020 291px,#3c3c3c 299px,#9a9a9a 319px,#bababa 328px,#c3c3c3 334px,#bfbfbf 339px,#ababab 345px,#494949 363px,#313131 370px,#212121 380px,#0f0f0f 406px,#0c0c0c 450px)"></i>
<i style="left:360px;background:linear-gradient(#000000,#040404 109px,#0d0d0d 142px,#1d1d1d 151px,#343434 161px,#373737 167px,#292929 175px,#121212 186px,#080808 203px,#030303 245px,#090909 275px,#121212 282px,#2b2b2b 293px,#4b4b4b 301px,#919191 316px,#b7b7b7 326px,#c3c3c3 332px,#c1c1c1 337px,#b4b4b4 342px,#8c8c8c 350px,#4e4e4e 361px,#333333 368px,#222222 377px,#0f0f0f 404px,#0c0c0c 450px)"></i>
<i style="left:363px;background:linear-gradient(#010101,#050505 102px,#1c1c1c 155px,#222222 170px,#0a0a0a 220px,#0a0a0a 254px,#171717 278px,#262626 289px,#3f3f3f 297px,#9e9e9e 318px,#bcbcbc 327px,#c4c4c4 333px,#bebebe 338px,#a7a7a7 344px,#4a4a4a 361px,#303030 368px,#202020 377px,#0e0e0e 405px,#0b0b0b 450px)"></i>
<i style="left:366px;background:linear-gradient(#010101,#080808 93px,#111111 120px,#262626 148px,#262626 172px,#2a2a2a 184px,#111111 214px,#151515 256px,#232323 283px,#323232 291px,#4f4f4f 299px,#8d8d8d 313px,#b7b7b7 324px,#c3c3c3 330px,#c2c2c2 335px,#b5b5b5 340px,#939393 347px,#4a4a4a 360px,#2f2f2f 367px,#202020 375px,#0e0e0e 403px,#0b0b0b 450px)"></i>
<i style="left:369px;background:linear-gradient(#020202,#080808 82px,#181818 117px,#353535 148px,#323232 160px,#2f2f2f 169px,#3a3a3a 182px,#2f2f2f 193px,#191919 213px,#1b1b1b 254px,#262626 280px,#343434 289px,#4e4e4e 297px,#7e7e7e 308px,#b4b4b4 322px,#c3c3c3 329px,#c3c3c3 334px,#b6b6b6 339px,#949494 346px,#4a4a4a 359px,#2f2f2f 366px,#1e1e1e 374px,#0e0e0e 401px,#0a0a0a 450px)"></i>
<i style="left:372px;background:linear-gradient(#020202,#0b0b0b 93px,#131313 110px,#3a3a3a 144px,#4e4e4e 178px,#464646 187px,#222222 211px,#161616 246px,#282828 278px,#393939 288px,#525252 296px,#787878 305px,#b7b7b7 322px,#c4c4c4 328px,#c3c3c3 333px,#b7b7b7 338px,#959595 345px,#4b4b4b 358px,#2e2e2e 365px,#1d1d1d 373px,#0e0e0e 396px,#0a0a0a 433px,#0a0a0a 450px)"></i>
<i style="left:375px;background:linear-gradient(#010101,#080808 89px,#232323 137px,#272727 157px,#484848 183px,#464646 192px,#252525 214px,#090909 243px,#2f2f2f 280px,#454545 290px,#676767 299px,#a4a4a4 315px,#bfbfbf 324px,#c5c5c5 330px,#bebebe 335px,#a6a6a6 341px,#474747 358px,#2b2b2b 365px,#1a1a1a 373px,#0d0d0d 397px,#090909 450px)"></i>
<i style="left:378px;background:linear-gradient(#020202,#050505 86px,#212121 140px,#2b2b2b 161px,#424242 185px,#3e3e3e 196px,#1c1c1c 221px,#070707 242px,#2f2f2f 278px,#484848 289px,#6b6b6b 298px,#7e7e7e 303px,#bbbbbb 321px,#c5c5c5 327px,#c3c3c3 332px,#b0b0b0 338px,#808080 347px,#424242 358px,#282828 365px,#181818 373px,#0c0c0c 397px,#090909 450px)"></i>
<i style="left:381px;background:linear-gradient(#010101,#060606 79px,#141414 109px,#2c2c2c 154px,#323232 168px,#404040 184px,#3c3c3c 195px,#1b1b1b 220px,#101010 240px,#181818 256px,#303030 277px,#4a4a4a 288px,#6e6e6e 297px,#818181 302px,#bebebe 321px,#c6c6c6 327px,#c1c1c1 332px,#adadad 338px,#757575 348px,#3f3f3f 358px,#252525 365px,#161616 373px,#0b0b0b 398px,#090909 450px)"></i>
<i style="left:384px;background:linear-gradient(#010101,#050505 68px,#0c0c0c 96px,#292929 135px,#434343 174px,#3f3f3f 187px,#191919 220px,#131313 239px,#1b1b1b 258px,#313131 276px,#494949 287px,#6a6a6a 295px,#818181 300px,#bfbfbf 320px,#c7c7c7 326px,#c2c2c2 331px,#aeaeae 337px,#767676 347px,#3f3f3f 357px,#222222 365px,#141414 373px,#0a0a0a 400px,#080808 450px)"></i>
<i style="left:387px;background:linear-gradient(#010101,#070707 74px,#151515 107px,#393939 141px,#3e3e3e 166px,#393939 179px,#2b2b2b 193px,#0f0f0f 231px,#111111 246px,#272727 269px,#434343 284px,#606060 292px,#828282 299px,#bababa 317px,#c7c7c7 324px,#c5c5c5 329px,#b3b3b3 335px,#898989 343px,#454545 355px,#252525 363px,#141414 371px,#0c0c0c 388px,#080808 435px,#080808 450px)"></i>
<i style="left:390px;background:linear-gradient(#030303,#080808 72px,#181818 114px,#2b2b2b 138px,#363636 153px,#393939 177px,#2b2b2b 192px,#1c1c1c 212px,#060606 239px,#1a1a1a 259px,#333333 276px,#4c4c4c 286px,#6e6e6e 294px,#828282 298px,#b3b3b3 313px,#c5c5c5 321px,#c7c7c7 327px,#bcbcbc 332px,#9c9c9c 339px,#464646 354px,#262626 362px,#141414 370px,#0c0c0c 385px,#080808 432px,#080808 450px)"></i>
<i style="left:393px;background:linear-gradient(#010101,#080808 76px,#181818 117px,#2e2e2e 133px,#5a5a5a 156px,#646464 168px,#5f5f5f 178px,#1d1d1d 217px,#080808 239px,#151515 254px,#303030 274px,#4f4f4f 286px,#737373 294px,#858585 298px,#b1b1b1 311px,#c6c6c6 320px,#c7c7c7 326px,#bdbdbd 331px,#9d9d9d 338px,#474747 353px,#262626 361px,#141414 369px,#0c0c0c 383px,#080808 430px,#080808 450px)"></i>
<i style="left:396px;background:linear-gradient(#030303,#0a0a0a 72px,#161616 101px,#292929 118px,#616161 146px,#757575 163px,#777777 175px,#6a6a6a 185px,#4f4f4f 198px,#2c2c2c 212px,#191919 226px,#131313 241px,#1e1e1e 260px,#303030 274px,#4b4b4b 284px,#6d6d6d 292px,#818181 296px,#b4b4b4 311px,#c8c8c8 320px,#c7c7c7 326px,#b6b6b6 332px,#8d8d8d 340px,#484848 352px,#272727 360px,#151515 368px,#0c0c0c 381px,#080808 427px,#080808 450px)"></i>
<i style="left:399px;background:linear-gradient(#030303,#0a0a0a 55px,#1f1f1f 109px,#323232 121px,#616161 151px,#6f6f6f 167px,#6e6e6e 175px,#595959 185px,#2d2d2d 208px,#1d1d1d 223px,#191919 245px,#222222 264px,#323232 275px,#4c4c4c 284px,#767676 293px,#afafaf 308px,#c5c5c5 317px,#cacaca 323px,#c1c1c1 328px,#aaaaaa 334px,#444444 352px,#252525 360px,#131313 368px,#0b0b0b 383px,#080808 433px,#080808 450px)"></i>
<i style="left:402px;background:linear-gradient(#030303,#0a0a0a 66px,#181818 102px,#2b2b2b 123px,#484848 149px,#545454 162px,#505050 169px,#383838 180px,#262626 188px,#212121 208px,#181818 229px,#1c1c1c 259px,#2a2a2a 272px,#404040 281px,#626262 289px,#7f7f7f 295px,#b4b4b4 309px,#c7c7c7 317px,#cacaca 323px,#c0c0c0 328px,#a1a1a1 335px,#454545 351px,#252525 359px,#131313 367px,#0b0b0b 381px,#070707 432px,#070707 450px)"></i>
<i style="left:405px;background:linear-gradient(#010101,#050505 91px,#191919 140px,#353535 165px,#353535 177px,#131313 220px,#161616 256px,#212121 269px,#353535 278px,#535353 286px,#7f7f7f 295px,#b3b3b3 308px,#c7c7c7 316px,#cacaca 322px,#c1c1c1 327px,#a8a8a8 333px,#474747 350px,#262626 358px,#141414 366px,#0c0c0c 378px,#070707 429px,#070707 450px)"></i>
<i style="left:408px;background:linear-gradient(#010101,#050505 92px,#151515 142px,#2d2d2d 170px,#2b2b2b 182px,#0b0b0b 218px,#0f0f0f 253px,#191919 266px,#2d2d2d 276px,#4e4e4e 285px,#838383 296px,#b5b5b5 308px,#c9c9c9 316px,#cacaca 322px,#bcbcbc 328px,#9a9a9a 335px,#494949 349px,#272727 357px,#141414 365px,#0b0b0b 376px,#070707 429px,#070707 450px)"></i>
<i style="left:411px;background:linear-gradient(#000000,#050505 91px,#151515 142px,#242424 168px,#202020 182px,#060606 217px,#0c0c0c 258px,#1d1d1d 270px,#353535 279px,#5c5c5c 288px,#a8a8a8 304px,#c3c3c3 312px,#cccccc 318px,#c8c8c8 323px,#b5b5b5 329px,#848484 338px,#454545 349px,#252525 357px,#131313 365px,#0a0a0a 377px,#060606 436px,#060606 450px)"></i>
<i style="left:414px;background:linear-gradient(#010101,#050505 110px,#171717 165px,#111111 186px,#040404 220px,#080808 256px,#181818 268px,#323232 278px,#585858 287px,#b2b2b2 306px,#c7c7c7 313px,#cdcdcd 319px,#c5c5c5 324px,#aeaeae 330px,#424242 349px,#232323 357px,#101010 366px,#090909 380px,#060606 450px)"></i>
<i style="left:417px;background:linear-gradient(#000000,#050505 125px,#0b0b0b 182px,#020202 226px,#050505 254px,#1b1b1b 269px,#373737 279px,#5f5f5f 288px,#b4b4b4 306px,#c8c8c8 313px,#cccccc 319px,#c3c3c3 324px,#aaaaaa 330px,#444444 348px,#242424 356px,#101010 365px,#080808 378px,#060606 450px)"></i>
<i style="left:420px;background:linear-gradient(#000000,#050505 130px,#080808 187px,#020202 230px,#060606 254px,#212121 271px,#3d3d3d 280px,#878787 296px,#b6b6b6 306px,#c9c9c9 313px,#cccccc 319px,#c1c1c1 324px,#a1a1a1 331px,#454545 347px,#242424 355px,#101010 364px,#080808 376px,#050505 450px)"></i>
<i style="left:423px;background:linear-gradient(#000000,#050505 122px,#0b0b0b 185px,#040404 229px,#0d0d0d 253px,#1e1e1e 268px,#353535 277px,#595959 286px,#b8b8b8 306px,#c9c9c9 312px,#cccccc 318px,#c2c2c2 323px,#a3a3a3 330px,#474747 346px,#252525 354px,#101010 363px,#070707 374px,#050505 450px)"></i>
<i style="left:426px;background:linear-gradient(#000000,#050505 94px,#131313 175px,#080808 223px,#171717 261px,#272727 271px,#424242 280px,#969696 298px,#bbbbbb 306px,#cacaca 312px,#cbcbcb 318px,#bcbcbc 324px,#9a9a9a 331px,#484848 345px,#262626 353px,#101010 362px,#070707 373px,#050505 450px)"></i>
<i style="left:429px;background:linear-gradient(#000000,#050505 83px,#0f0f0f 137px,#1b1b1b 168px,#141414 188px,#0b0b0b 215px,#161616 256px,#222222 268px,#3a3a3a 277px,#606060 286px,#b5b5b5 304px,#c7c7c7 310px,#cccccc 316px,#c4c4c4 321px,#acacac 327px,#454545 345px,#242424 353px,#0f0f0f 362px,#060606 374px,#040404 450px)"></i>
<i style="left:432px;background:linear-gradient(#010101,#060606 80px,#141414 126px,#1e1e1e 159px,#1e1e1e 182px,#0f0f0f 220px,#191919 260px,#272727 270px,#434343 279px,#b8b8b8 304px,#c8c8c8 310px,#cccccc 316px,#c2c2c2 321px,#aaaaaa 327px,#434343 345px,#232323 353px,#0e0e0e 362px,#050505 374px,#040404 450px)"></i>
<i style="left:435px;background:linear-gradient(#020202,#090909 100px,#232323 152px,#262626 181px,#131313 223px,#171717 259px,#252525 269px,#3d3d3d 277px,#838383 292px,#b6b6b6 303px,#c9c9c9 310px,#cbcbcb 316px,#bdbdbd 322px,#9d9d9d 329px,#464646 344px,#252525 352px,#0f0f0f 361px,#050505 373px,#040404 450px)"></i>
<i style="left:438px;background:linear-gradient(#020202,#0e0e0e 101px,#262626 146px,#2d2d2d 164px,#1f1f1f 203px,#131313 224px,#131313 257px,#202020 267px,#363636 275px,#5e5e5e 284px,#b0b0b0 301px,#c6c6c6 308px,#cccccc 314px,#c5c5c5 319px,#afafaf 325px,#444444 344px,#232323 352px,#0e0e0e 361px,#040404 373px,#030303 450px)"></i>
<i style="left:441px;background:linear-gradient(#010101,#080808 86px,#272727 140px,#393939 160px,#363636 177px,#212121 204px,#131313 222px,#101010 256px,#1c1c1c 266px,#363636 275px,#606060 284px,#aeaeae 300px,#c5c5c5 307px,#cccccc 313px,#c7c7c7 318px,#b2b2b2 324px,#7a7a7a 334px,#424242 344px,#222222 352px,#0e0e0e 361px,#040404 373px,#030303 450px)"></i>
<i style="left:444px;background:linear-gradient(#010101,#060606 83px,#151515 112px,#383838 148px,#454545 166px,#434343 179px,#262626 201px,#111111 218px,#0c0c0c 243px,#0e0e0e 258px,#1d1d1d 267px,#3b3b3b 276px,#acacac 299px,#c4c4c4 306px,#cccccc 312px,#c8c8c8 317px,#b4b4b4 323px,#848484 332px,#454545 343px,#242424 351px,#0f0f0f 360px,#040404 372px,#030303 450px)"></i>
<i style="left:447px;background:linear-gradient(#010101,#060606 67px,#111111 103px,#272727 139px,#3e3e3e 160px,#404040 174px,#2c2c2c 193px,#0d0d0d 217px,#090909 233px,#0e0e0e 258px,#1d1d1d 267px,#3b3b3b 276px,#adadad 299px,#c4c4c4 306px,#cccccc 312px,#c8c8c8 317px,#b4b4b4 323px,#838383 332px,#454545 343px,#242424 351px,#0f0f0f 360px,#040404 372px,#030303 450px)"></i>
<i style="left:450px;background:linear-gradient(#010101,#090909 87px,#2c2c2c 145px,#3a3a3a 161px,#363636 174px,#191919 204px,#070707 221px,#0b0b0b 251px,#141414 262px,#292929 271px,#494949 279px,#a8a8a8 298px,#c4c4c4 306px,#cccccc 312px,#c8c8c8 317px,#b4b4b4 323px,#848484 332px,#454545 343px,#242424 351px,#0f0f0f 360px,#040404 372px,#030303 450px)"></i>
<i style="left:453px;background:linear-gradient(#020202,#070707 82px,#0f0f0f 103px,#3d3d3d 146px,#424242 163px,#393939 181px,#0c0c0c 217px,#090909 232px,#101010 257px,#1f1f1f 267px,#383838 275px,#636363 284px,#acacac 299px,#c6c6c6 307px,#cccccc 313px,#c6c6c6 318px,#b0b0b0 324px,#737373 335px,#3d3d3d 345px,#1f1f1f 353px,#0c0c0c 362px,#030303 375px,#030303 450px)"></i>
<i style="left:456px;background:linear-gradient(#020202,#070707 63px,#0d0d0d 100px,#1f1f1f 115px,#484848 138px,#4f4f4f 149px,#454545 162px,#353535 176px,#303030 190px,#101010 217px,#0c0c0c 235px,#121212 257px,#202020 267px,#383838 275px,#636363 284px,#afafaf 300px,#c5c5c5 307px,#cccccc 313px,#c6c6c6 318px,#b1b1b1 324px,#747474 335px,#3e3e3e 345px,#1f1f1f 353px,#0d0d0d 362px,#030303 375px,#030303 450px)"></i>
<i style="left:459px;background:linear-gradient(#020202,#080808 75px,#0c0c0c 92px,#212121 111px,#4c4c4c 138px,#565656 151px,#4f4f4f 167px,#3b3b3b 187px,#171717 211px,#0d0d0d 227px,#121212 255px,#1f1f1f 266px,#353535 274px,#585858 282px,#aaaaaa 299px,#c5c5c5 307px,#cccccc 313px,#c7c7c7 318px,#b2b2b2 324px,#7b7b7b 334px,#3f3f3f 345px,#202020 353px,#0d0d0d 362px,#030303 375px,#030303 450px)"></i>
<i style="left:462px;background:linear-gradient(#010101,#050505 83px,#232323 134px,#494949 167px,#4a4a4a 178px,#393939 190px,#181818 208px,#0b0b0b 223px,#101010 252px,#1b1b1b 264px,#313131 273px,#525252 281px,#aaaaaa 299px,#c5c5c5 307px,#cccccc 313px,#c7c7c7 318px,#b3b3b3 324px,#7c7c7c 334px,#3f3f3f 345px,#212121 353px,#0d0d0d 362px,#040404 375px,#030303 450px)"></i>
<i style="left:465px;background:linear-gradient(#010101,#070707 59px,#0b0b0b 102px,#282828 151px,#3c3c3c 171px,#3b3b3b 181px,#212121 198px,#0b0b0b 215px,#070707 228px,#131313 259px,#242424 269px,#3e3e3e 277px,#adadad 300px,#c6c6c6 308px,#cccccc 314px,#c5c5c5 319px,#afafaf 325px,#404040 345px,#212121 353px,#0d0d0d 362px,#040404 374px,#030303 450px)"></i>
<i style="left:468px;background:linear-gradient(#010101,#0a0a0a 98px,#2f2f2f 156px,#2f2f2f 174px,#161616 201px,#080808 222px,#101010 257px,#1e1e1e 267px,#353535 275px,#5f5f5f 284px,#acacac 300px,#c6c6c6 308px,#cccccc 314px,#c6c6c6 319px,#b0b0b0 325px,#6d6d6d 337px,#383838 347px,#1c1c1c 355px,#0a0a0a 365px,#030303 380px,#030303 450px)"></i>
<i style="left:471px;background:linear-gradient(#010101,#080808 104px,#1f1f1f 167px,#080808 222px,#0e0e0e 257px,#1c1c1c 267px,#373737 276px,#626262 285px,#afafaf 301px,#c6c6c6 308px,#cccccc 314px,#c6c6c6 319px,#b1b1b1 325px,#747474 336px,#3e3e3e 346px,#202020 354px,#0d0d0d 363px,#030303 376px,#030303 450px)"></i>
<i style="left:474px;background:linear-gradient(#000000,#050505 98px,#161616 171px,#080808 224px,#0a0a0a 256px,#161616 265px,#2e2e2e 274px,#565656 283px,#aaaaaa 300px,#c5c5c5 308px,#cccccc 314px,#c6c6c6 319px,#b1b1b1 325px,#747474 336px,#3e3e3e 346px,#202020 354px,#0d0d0d 363px,#030303 376px,#030303 450px)"></i>
<i style="left:477px;background:linear-gradient(#000000,#050505 109px,#111111 195px,#0d0d0d 238px,#0b0b0b 257px,#161616 266px,#2e2e2e 274px,#565656 283px,#aeaeae 301px,#c5c5c5 308px,#cccccc 314px,#c6c6c6 319px,#b2b2b2 325px,#7b7b7b 335px,#3f3f3f 346px,#202020 354px,#0d0d0d 363px,#040404 376px,#030303 450px)"></i>
<i style="left:480px;background:linear-gradient(#000000,#050505 108px,#0c0c0c 161px,#2a2a2a 209px,#272727 228px,#111111 259px,#171717 267px,#272727 273px,#7e7e7e 291px,#b2b2b2 302px,#c7c7c7 309px,#cccccc 315px,#c1c1c1 321px,#a3a3a3 328px,#444444 345px,#242424 353px,#0f0f0f 362px,#040404 374px,#030303 450px)"></i>
<i style="left:483px;background:linear-gradient(#000000,#050505 119px,#101010 161px,#272727 183px,#3f3f3f 205px,#424242 219px,#343434 236px,#191919 259px,#1b1b1b 267px,#262626 272px,#5b5b5b 284px,#adadad 301px,#c5c5c5 308px,#cccccc 314px,#c7c7c7 319px,#b2b2b2 325px,#7c7c7c 335px,#404040 346px,#212121 354px,#0d0d0d 363px,#040404 376px,#030303 450px)"></i>
<i style="left:486px;background:linear-gradient(#000000,#050505 112px,#141414 165px,#313131 194px,#3d3d3d 212px,#383838 228px,#191919 258px,#1d1d1d 266px,#303030 274px,#515151 282px,#adadad 301px,#c5c5c5 308px,#cccccc 314px,#c7c7c7 319px,#b2b2b2 325px,#7c7c7c 335px,#404040 346px,#212121 354px,#0e0e0e 363px,#040404 376px,#030303 450px)"></i>
<i style="left:489px;background:linear-gradient(#000000,#050505 107px,#212121 213px,#181818 239px,#131313 257px,#1d1d1d 267px,#323232 275px,#5a5a5a 284px,#b1b1b1 302px,#c7c7c7 309px,#cccccc 315px,#c2c2c2 321px,#a4a4a4 328px,#454545 345px,#252525 353px,#0f0f0f 362px,#040404 374px,#030303 450px)"></i>
<i style="left:492px;background:linear-gradient(#020202,#070707 97px,#181818 140px,#222222 172px,#1b1b1b 192px,#0c0c0c 219px,#0a0a0a 249px,#131313 262px,#252525 271px,#464646 280px,#adadad 301px,#c4c4c4 308px,#cccccc 314px,#c7c7c7 319px,#b3b3b3 325px,#7d7d7d 335px,#414141 346px,#222222 354px,#0e0e0e 363px,#040404 375px,#030303 450px)"></i>
<i style="left:495px;background:linear-gradient(#000000,#050505 85px,#151515 122px,#2e2e2e 154px,#2d2d2d 175px,#1b1b1b 197px,#070707 222px,#070707 243px,#0f0f0f 260px,#222222 270px,#414141 279px,#b1b1b1 302px,#c7c7c7 309px,#cccccc 315px,#c2c2c2 321px,#a5a5a5 328px,#464646 345px,#262626 353px,#101010 362px,#040404 374px,#030303 450px)"></i>
<i style="left:498px;background:linear-gradient(#010101,#090909 93px,#161616 119px,#343434 146px,#353535 160px,#262626 187px,#090909 223px,#080808 251px,#121212 263px,#262626 272px,#494949 281px,#acacac 301px,#c4c4c4 308px,#cccccc 314px,#c7c7c7 319px,#b3b3b3 325px,#7d7d7d 335px,#414141 346px,#222222 354px,#0e0e0e 363px,#040404 375px,#030303 450px)"></i>
<i style="left:501px;background:linear-gradient(#020202,#080808 94px,#161616 115px,#3a3a3a 144px,#3c3c3c 158px,#2b2b2b 190px,#0d0d0d 219px,#080808 245px,#0d0d0d 259px,#1e1e1e 269px,#3c3c3c 278px,#b0b0b0 302px,#c6c6c6 309px,#cbcbcb 315px,#c1c1c1 321px,#a5a5a5 328px,#464646 345px,#252525 353px,#101010 362px,#040404 374px,#030303 450px)"></i>
<i style="left:504px;background:linear-gradient(#020202,#0b0b0b 84px,#1a1a1a 113px,#3f3f3f 147px,#3f3f3f 161px,#313131 184px,#232323 200px,#0d0d0d 221px,#080808 245px,#0e0e0e 259px,#1f1f1f 269px,#3c3c3c 278px,#b0b0b0 302px,#c6c6c6 309px,#cbcbcb 315px,#c1c1c1 321px,#a4a4a4 328px,#464646 345px,#252525 353px,#101010 362px,#040404 374px,#030303 450px)"></i>
<i style="left:507px;background:linear-gradient(#010101,#060606 85px,#121212 115px,#282828 132px,#424242 150px,#454545 163px,#353535 189px,#0e0e0e 220px,#070707 236px,#0f0f0f 258px,#1e1e1e 268px,#393939 277px,#7b7b7b 291px,#b3b3b3 303px,#c7c7c7 310px,#cacaca 316px,#bebebe 322px,#9f9f9f 329px,#464646 345px,#252525 353px,#101010 362px,#040404 374px,#030303 450px)"></i>
<i style="left:510px;background:linear-gradient(#020202,#080808 86px,#121212 107px,#2c2c2c 127px,#4d4d4d 149px,#505050 160px,#444444 173px,#393939 182px,#313131 196px,#0b0b0b 223px,#050505 236px,#121212 260px,#242424 270px,#424242 279px,#b3b3b3 303px,#c7c7c7 310px,#cacaca 316px,#bebebe 322px,#9f9f9f 329px,#464646 345px,#252525 353px,#101010 362px,#040404 374px,#030303 450px)"></i>
<i style="left:513px;background:linear-gradient(#010101,#070707 87px,#181818 112px,#343434 143px,#5d5d5d 164px,#646464 175px,#5b5b5b 185px,#2f2f2f 205px,#141414 220px,#090909 234px,#101010 255px,#1f1f1f 267px,#373737 276px,#5f5f5f 285px,#b3b3b3 303px,#c7c7c7 310px,#cacaca 316px,#bdbdbd 322px,#9f9f9f 329px,#464646 345px,#252525 353px,#101010 362px,#040404 374px,#030303 450px)"></i>
<i style="left:516px;background:linear-gradient(#020202,#0b0b0b 91px,#151515 108px,#464646 145px,#7b7b7b 170px,#818181 178px,#777777 186px,#2e2e2e 211px,#1b1b1b 223px,#121212 239px,#171717 258px,#252525 269px,#404040 278px,#b2b2b2 303px,#c7c7c7 310px,#cacaca 316px,#bdbdbd 322px,#9e9e9e 329px,#464646 345px,#252525 353px,#101010 362px,#040404 374px,#030303 450px)"></i>
<i style="left:519px;background:linear-gradient(#030303,#0a0a0a 56px,#181818 89px,#2e2e2e 110px,#484848 128px,#4a4a4a 138px,#494949 146px,#5f5f5f 155px,#818181 168px,#8a8a8a 176px,#848484 183px,#646464 194px,#373737 209px,#252525 220px,#1c1c1c 237px,#1b1b1b 258px,#262626 268px,#3e3e3e 277px,#808080 292px,#b6b6b6 304px,#c8c8c8 311px,#c8c8c8 317px,#b9b9b9 323px,#939393 331px,#464646 345px,#252525 353px,#101010 362px,#040404 374px,#030303 450px)"></i>
<i style="left:522px;background:linear-gradient(#020202,#080808 57px,#101010 90px,#232323 109px,#666666 147px,#797979 164px,#797979 174px,#6a6a6a 183px,#393939 202px,#262626 215px,#1f1f1f 231px,#1f1f1f 260px,#2c2c2c 270px,#434343 278px,#b6b6b6 304px,#c8c8c8 311px,#c8c8c8 317px,#b9b9b9 323px,#939393 331px,#454545 345px,#252525 353px,#101010 362px,#040404 374px,#030303 450px)"></i>
<i style="left:525px;background:linear-gradient(#020202,#050505 83px,#111111 108px,#2e2e2e 138px,#383838 148px,#525252 165px,#535353 174px,#464646 183px,#2b2b2b 195px,#1c1c1c 219px,#212121 261px,#2c2c2c 270px,#434343 278px,#b6b6b6 304px,#c8c8c8 311px,#c8c8c8 317px,#b9b9b9 323px,#939393 331px,#454545 345px,#252525 353px,#0f0f0f 362px,#040404 374px,#030303 450px)"></i>
<i style="left:528px;background:linear-gradient(#010101,#070707 81px,#141414 112px,#454545 155px,#494949 170px,#3f3f3f 182px,#262626 201px,#191919 219px,#1f1f1f 261px,#2b2b2b 270px,#434343 278px,#b3b3b3 303px,#c6c6c6 310px,#c9c9c9 316px,#bcbcbc 322px,#9d9d9d 329px,#454545 345px,#252525 353px,#0f0f0f 362px,#040404 374px,#030303 450px)"></i>
<i style="left:531px;background:linear-gradient(#010101,#050505 56px,#111111 104px,#383838 142px,#3b3b3b 180px,#272727 200px,#171717 217px,#191919 237px,#1b1b1b 261px,#282828 270px,#424242 278px,#afafaf 302px,#c4c4c4 309px,#c9c9c9 315px,#bfbfbf 321px,#a2a2a2 328px,#454545 345px,#252525 353px,#0f0f0f 362px,#040404 374px,#030303 450px)"></i>
<i style="left:534px;background:linear-gradient(#020202,#080808 59px,#1b1b1b 111px,#3e3e3e 143px,#414141 162px,#363636 182px,#242424 200px,#131313 217px,#151515 235px,#161616 261px,#252525 270px,#404040 278px,#ababab 301px,#c2c2c2 308px,#c9c9c9 314px,#c1c1c1 320px,#a7a7a7 327px,#444444 345px,#242424 353px,#0f0f0f 362px,#040404 374px,#030303 450px)"></i>
<i style="left:537px;background:linear-gradient(#010101,#060606 78px,#111111 108px,#272727 125px,#424242 144px,#484848 159px,#404040 180px,#292929 197px,#121212 212px,#0f0f0f 226px,#131313 246px,#121212 261px,#1f1f1f 269px,#3a3a3a 277px,#a4a4a4 299px,#bfbfbf 307px,#c9c9c9 313px,#c3c3c3 319px,#afafaf 325px,#7a7a7a 335px,#3f3f3f 346px,#212121 354px,#0e0e0e 363px,#040404 376px,#030303 450px)"></i>
<i style="left:540px;background:linear-gradient(#020202,#080808 81px,#151515 104px,#2f2f2f 122px,#4a4a4a 139px,#4f4f4f 150px,#424242 171px,#434343 183px,#343434 194px,#161616 210px,#0f0f0f 223px,#121212 246px,#111111 261px,#1b1b1b 268px,#3a3a3a 277px,#9b9b9b 297px,#bdbdbd 306px,#c8c8c8 312px,#c5c5c5 318px,#b3b3b3 324px,#868686 333px,#444444 345px,#212121 354px,#0e0e0e 363px,#040404 376px,#030303 450px)"></i>
<i style="left:543px;background:linear-gradient(#010101,#090909 94px,#161616 110px,#3e3e3e 132px,#5a5a5a 150px,#666666 168px,#636363 179px,#4f4f4f 190px,#252525 208px,#171717 220px,#131313 260px,#1e1e1e 268px,#373737 276px,#646464 285px,#a9a9a9 300px,#c2c2c2 308px,#c8c8c8 314px,#c0c0c0 320px,#a5a5a5 327px,#444444 345px,#212121 354px,#0d0d0d 363px,#040404 376px,#030303 450px)"></i>
<i style="left:546px;background:linear-gradient(#010101,#090909 85px,#171717 112px,#3c3c3c 137px,#434343 153px,#737373 172px,#787878 179px,#6f6f6f 186px,#2e2e2e 209px,#1c1c1c 220px,#171717 237px,#171717 259px,#222222 268px,#3b3b3b 276px,#666666 285px,#a9a9a9 300px,#c2c2c2 308px,#c8c8c8 314px,#c0c0c0 320px,#a5a5a5 327px,#434343 345px,#212121 354px,#0d0d0d 363px,#040404 376px,#030303 450px)"></i>
<i style="left:549px;background:linear-gradient(#030303,#090909 53px,#131313 86px,#2a2a2a 108px,#4c4c4c 126px,#7d7d7d 151px,#949494 169px,#949494 177px,#898989 183px,#363636 206px,#202020 216px,#141414 228px,#191919 257px,#252525 267px,#3b3b3b 275px,#5f5f5f 283px,#7c7c7c 289px,#b1b1b1 302px,#c5c5c5 310px,#c7c7c7 316px,#bababa 322px,#9b9b9b 329px,#434343 345px,#212121 354px,#0d0d0d 363px,#040404 376px,#030303 450px)"></i>
<i style="left:552px;background:linear-gradient(#030303,#0b0b0b 57px,#161616 87px,#363636 112px,#646464 141px,#878787 166px,#888888 174px,#7a7a7a 182px,#2d2d2d 205px,#151515 217px,#0b0b0b 229px,#161616 252px,#242424 265px,#3a3a3a 274px,#5d5d5d 282px,#7a7a7a 288px,#b1b1b1 302px,#c5c5c5 310px,#c7c7c7 316px,#b9b9b9 322px,#9a9a9a 329px,#434343 345px,#202020 354px,#0d0d0d 363px,#040404 376px,#030303 450px)"></i>
<i style="left:555px;background:linear-gradient(#020202,#0d0d0d 95px,#1c1c1c 113px,#333333 135px,#3d3d3d 146px,#525252 162px,#5a5a5a 176px,#525252 184px,#1c1c1c 206px,#090909 222px,#060606 232px,#202020 261px,#343434 271px,#515151 279px,#7d7d7d 288px,#b2b2b2 302px,#c5c5c5 310px,#c6c6c6 316px,#b9b9b9 322px,#949494 330px,#424242 345px,#202020 354px,#0d0d0d 363px,#040404 376px,#030303 450px)"></i>
<i style="left:558px;background:linear-gradient(#020202,#060606 82px,#141414 105px,#303030 124px,#4b4b4b 142px,#505050 153px,#484848 168px,#4e4e4e 179px,#454545 187px,#181818 207px,#080808 225px,#090909 236px,#232323 262px,#393939 272px,#595959 280px,#7c7c7c 287px,#b3b3b3 302px,#c5c5c5 310px,#c6c6c6 316px,#b7b7b7 322px,#929292 330px,#454545 344px,#222222 353px,#0e0e0e 362px,#040404 374px,#030303 450px)"></i>
<i style="left:561px;background:linear-gradient(#020202,#0a0a0a 94px,#1b1b1b 113px,#3e3e3e 140px,#656565 159px,#6e6e6e 171px,#696969 179px,#505050 190px,#232323 207px,#111111 220px,#0d0d0d 233px,#212121 259px,#333333 269px,#4e4e4e 277px,#7e7e7e 287px,#b4b4b4 302px,#c5c5c5 310px,#c5c5c5 316px,#b6b6b6 322px,#909090 330px,#444444 344px,#212121 353px,#0e0e0e 362px,#040404 375px,#030303 450px)"></i>
<i style="left:564px;background:linear-gradient(#040404,#0a0a0a 63px,#1b1b1b 95px,#383838 119px,#5a5a5a 143px,#787878 159px,#7e7e7e 169px,#777777 178px,#565656 191px,#2b2b2b 208px,#191919 220px,#161616 234px,#212121 258px,#313131 268px,#4a4a4a 276px,#7f7f7f 287px,#b2b2b2 301px,#c4c4c4 309px,#c6c6c6 315px,#b8b8b8 321px,#999999 328px,#424242 344px,#202020 353px,#0d0d0d 362px,#040404 375px,#030303 450px)"></i>
<i style="left:567px;background:linear-gradient(#030303,#070707 58px,#121212 91px,#282828 115px,#4d4d4d 136px,#6c6c6c 152px,#727272 162px,#686868 172px,#434343 189px,#202020 218px,#1c1c1c 237px,#202020 258px,#2d2d2d 267px,#454545 275px,#6c6c6c 283px,#929292 292px,#b8b8b8 303px,#c5c5c5 310px,#c4c4c4 316px,#b3b3b3 322px,#8c8c8c 330px,#414141 344px,#1f1f1f 353px,#0b0b0b 363px,#030303 377px,#030303 450px)"></i>
<i style="left:570px;background:linear-gradient(#010101,#060606 65px,#1f1f1f 117px,#303030 137px,#565656 156px,#5b5b5b 165px,#515151 175px,#393939 188px,#202020 220px,#1b1b1b 257px,#272727 266px,#3f3f3f 274px,#656565 282px,#828282 288px,#b0b0b0 300px,#c3c3c3 308px,#c5c5c5 314px,#b9b9b9 320px,#9b9b9b 327px,#444444 343px,#212121 352px,#0e0e0e 361px,#040404 374px,#030303 450px)"></i>
<i style="left:573px;background:linear-gradient(#030303,#050505 52px,#171717 100px,#2f2f2f 119px,#5b5b5b 148px,#636363 161px,#5c5c5c 174px,#404040 189px,#2d2d2d 201px,#212121 219px,#1d1d1d 242px,#151515 257px,#1d1d1d 264px,#343434 272px,#595959 280px,#787878 286px,#adadad 299px,#c2c2c2 307px,#c6c6c6 313px,#bbbbbb 319px,#9e9e9e 326px,#424242 343px,#202020 352px,#0d0d0d 361px,#040404 374px,#030303 450px)"></i>
<i style="left:576px;background:linear-gradient(#020202,#060606 63px,#0e0e0e 100px,#1f1f1f 121px,#424242 146px,#4d4d4d 177px,#404040 186px,#272727 197px,#232323 226px,#1f1f1f 241px,#101010 257px,#171717 263px,#333333 272px,#5e5e5e 281px,#818181 288px,#adadad 299px,#c1c1c1 307px,#c4c4c4 313px,#b9b9b9 319px,#9b9b9b 326px,#404040 343px,#1f1f1f 352px,#0b0b0b 362px,#030303 376px,#030303 450px)"></i>
<i style="left:579px;background:linear-gradient(#020202,#090909 88px,#1b1b1b 114px,#3a3a3a 148px,#4a4a4a 168px,#535353 179px,#4c4c4c 188px,#333333 207px,#282828 229px,#222222 242px,#151515 256px,#1b1b1b 263px,#313131 271px,#5a5a5a 280px,#7c7c7c 287px,#acacac 299px,#c0c0c0 307px,#c3c3c3 313px,#b6b6b6 319px,#999999 326px,#434343 342px,#212121 351px,#0e0e0e 360px,#040404 373px,#030303 450px)"></i>
<i style="left:582px;background:linear-gradient(#020202,#060606 85px,#151515 102px,#424242 131px,#4d4d4d 151px,#777777 175px,#757575 183px,#5e5e5e 195px,#333333 215px,#292929 228px,#262626 245px,#1e1e1e 256px,#252525 264px,#3a3a3a 272px,#626262 281px,#9e9e9e 295px,#bababa 304px,#c2c2c2 310px,#bcbcbc 316px,#a8a8a8 322px,#696969 334px,#383838 344px,#1a1a1a 353px,#090909 363px,#030303 379px,#030303 450px)"></i>
<i style="left:585px;background:linear-gradient(#040404,#0b0b0b 51px,#1a1a1a 94px,#292929 109px,#4f4f4f 132px,#707070 151px,#828282 174px,#777777 183px,#3a3a3a 210px,#2b2b2b 222px,#292929 243px,#272727 260px,#333333 268px,#4d4d4d 276px,#7a7a7a 286px,#acacac 299px,#bdbdbd 306px,#bfbfbf 312px,#b3b3b3 318px,#969696 325px,#424242 341px,#202020 350px,#0c0c0c 360px,#030303 374px,#030303 450px)"></i>
<i style="left:588px;background:linear-gradient(#030303,#0c0c0c 82px,#181818 102px,#555555 143px,#424242 159px,#4c4c4c 164px,#6c6c6c 174px,#6f6f6f 177px,#5e5e5e 188px,#3d3d3d 205px,#2b2b2b 219px,#282828 238px,#292929 254px,#2f2f2f 264px,#414141 272px,#616161 280px,#aaaaaa 298px,#bbbbbb 305px,#bebebe 311px,#b3b3b3 317px,#969696 324px,#3e3e3e 341px,#1e1e1e 350px,#0b0b0b 360px,#030303 374px,#030303 450px)"></i>
<i style="left:591px;background:linear-gradient(#020202,#090909 87px,#121212 108px,#2d2d2d 137px,#373737 153px,#5b5b5b 173px,#555555 182px,#373737 202px,#242424 220px,#262626 237px,#2b2b2b 261px,#383838 269px,#535353 277px,#a7a7a7 297px,#b9b9b9 304px,#bdbdbd 310px,#b3b3b3 316px,#979797 323px,#3f3f3f 340px,#1f1f1f 349px,#0b0b0b 359px,#030303 373px,#030303 450px)"></i>
<i style="left:594px;background:linear-gradient(#010101,#060606 99px,#1c1c1c 150px,#434343 176px,#363636 190px,#212121 206px,#0e0e0e 219px,#111111 229px,#222222 248px,#2b2b2b 263px,#3c3c3c 271px,#606060 280px,#a7a7a7 297px,#b8b8b8 304px,#bbbbbb 310px,#afafaf 316px,#8e8e8e 324px,#404040 339px,#202020 348px,#0c0c0c 358px,#030303 372px,#030303 450px)"></i>
<i style="left:597px;background:linear-gradient(#010101,#050505 90px,#151515 144px,#2d2d2d 175px,#232323 191px,#070707 218px,#0b0b0b 231px,#292929 263px,#3b3b3b 271px,#676767 282px,#a4a4a4 296px,#b6b6b6 303px,#bababa 309px,#afafaf 315px,#939393 322px,#3d3d3d 339px,#1e1e1e 348px,#0b0b0b 358px,#030303 372px,#030303 450px)"></i>
<i style="left:600px;background:linear-gradient(#000000,#040404 92px,#0c0c0c 141px,#1b1b1b 171px,#171717 187px,#070707 217px,#0a0a0a 242px,#161616 256px,#2a2a2a 265px,#454545 274px,#7e7e7e 287px,#a5a5a5 296px,#b6b6b6 303px,#b8b8b8 309px,#acacac 315px,#8a8a8a 323px,#3e3e3e 338px,#1e1e1e 347px,#0b0b0b 357px,#030303 371px,#030303 450px)"></i>
<i style="left:603px;background:linear-gradient(#000000,#050505 125px,#0e0e0e 144px,#171717 161px,#141414 183px,#070707 206px,#050505 241px,#0d0d0d 255px,#181818 261px,#2f2f2f 267px,#4e4e4e 276px,#a2a2a2 295px,#b4b4b4 302px,#b6b6b6 308px,#ababab 314px,#8b8b8b 322px,#3b3b3b 338px,#1c1c1c 347px,#0b0b0b 357px,#030303 372px,#030303 450px)"></i>
<i style="left:606px;background:linear-gradient(#000000,#060606 119px,#0f0f0f 139px,#222222 155px,#222222 176px,#151515 189px,#0a0a0a 201px,#050505 235px,#0d0d0d 251px,#1b1b1b 260px,#454545 273px,#9f9f9f 294px,#b2b2b2 301px,#b5b5b5 307px,#ababab 313px,#909090 320px,#3c3c3c 337px,#1d1d1d 346px,#0b0b0b 356px,#030303 371px,#030303 450px)"></i>
<i style="left:609px;background:linear-gradient(#010101,#060606 102px,#101010 136px,#242424 146px,#353535 155px,#393939 170px,#323232 181px,#131313 197px,#060606 229px,#0a0a0a 244px,#1b1b1b 258px,#343434 268px,#6f6f6f 282px,#a0a0a0 294px,#b1b1b1 301px,#b3b3b3 307px,#a8a8a8 313px,#878787 321px,#3d3d3d 336px,#1e1e1e 345px,#0b0b0b 355px,#030303 370px,#030303 450px)"></i>
<i style="left:612px;background:linear-gradient(#010101,#040404 74px,#101010 127px,#1b1b1b 137px,#373737 146px,#4c4c4c 154px,#535353 163px,#4d4d4d 177px,#3d3d3d 185px,#1e1e1e 195px,#141414 204px,#050505 234px,#0f0f0f 249px,#222222 261px,#3d3d3d 270px,#9b9b9b 292px,#afafaf 300px,#b2b2b2 306px,#a7a7a7 312px,#888888 320px,#3a3a3a 336px,#1c1c1c 345px,#0b0b0b 355px,#030303 370px,#030303 450px)"></i>
<i style="left:615px;background:linear-gradient(#010101,#070707 95px,#171717 119px,#2e2e2e 136px,#454545 143px,#686868 152px,#747474 159px,#727272 174px,#666666 181px,#4b4b4b 188px,#2d2d2d 195px,#1e1e1e 203px,#0a0a0a 226px,#0a0a0a 241px,#171717 255px,#2e2e2e 265px,#515151 274px,#989898 291px,#adadad 299px,#b1b1b1 305px,#a7a7a7 311px,#888888 319px,#3b3b3b 335px,#1d1d1d 344px,#0b0b0b 354px,#030303 369px,#030303 450px)"></i>
<i style="left:618px;background:linear-gradient(#010101,#070707 87px,#111111 109px,#2c2c2c 128px,#414141 138px,#616161 145px,#818181 152px,#8d8d8d 158px,#8e8e8e 172px,#858585 179px,#737373 184px,#383838 195px,#272727 201px,#101010 220px,#0b0b0b 237px,#131313 252px,#262626 262px,#454545 271px,#969696 290px,#ababab 298px,#afafaf 304px,#a6a6a6 310px,#8d8d8d 317px,#383838 335px,#1b1b1b 344px,#0a0a0a 354px,#030303 370px,#030303 450px)"></i>
<i style="left:621px;background:linear-gradient(#010101,#060606 87px,#161616 108px,#383838 136px,#4b4b4b 141px,#848484 151px,#959595 156px,#9b9b9b 163px,#999999 176px,#8d8d8d 181px,#747474 186px,#3f3f3f 194px,#2c2c2c 199px,#171717 213px,#0c0c0c 230px,#0e0e0e 247px,#1d1d1d 258px,#373737 267px,#969696 290px,#ababab 298px,#adadad 304px,#a3a3a3 310px,#858585 318px,#393939 334px,#1c1c1c 343px,#0b0b0b 353px,#030303 369px,#030303 450px)"></i>
<i style="left:624px;background:linear-gradient(#010101,#050505 81px,#151515 104px,#333333 135px,#404040 139px,#606060 144px,#909090 151px,#a4a4a4 156px,#adadad 163px,#acacac 175px,#a1a1a1 180px,#868686 185px,#3b3b3b 195px,#292929 199px,#1b1b1b 207px,#0c0c0c 227px,#0b0b0b 245px,#171717 255px,#313131 265px,#979797 290px,#aaaaaa 298px,#acacac 304px,#a0a0a0 310px,#818181 318px,#363636 334px,#1a1a1a 343px,#090909 354px,#030303 372px,#030303 450px)"></i>
<i style="left:627px;background:linear-gradient(#010101,#060606 56px,#1a1a1a 107px,#292929 132px,#363636 137px,#4f4f4f 141px,#979797 150px,#b1b1b1 155px,#bdbdbd 161px,#bebebe 173px,#b6b6b6 178px,#a5a5a5 182px,#818181 187px,#3c3c3c 195px,#262626 199px,#1b1b1b 205px,#0c0c0c 227px,#0c0c0c 245px,#181818 255px,#333333 265px,#969696 289px,#a9a9a9 297px,#acacac 303px,#a1a1a1 309px,#828282 317px,#373737 333px,#1a1a1a 342px,#090909 353px,#030303 370px,#030303 450px)"></i>
<i style="left:630px;background:linear-gradient(#010101,#070707 77px,#101010 99px,#313131 134px,#3e3e3e 138px,#585858 142px,#9b9b9b 150px,#b3b3b3 154px,#c2c2c2 159px,#c9c9c9 170px,#c5c5c5 176px,#b5b5b5 181px,#9b9b9b 185px,#4d4d4d 194px,#353535 198px,#242424 204px,#121212 220px,#0d0d0d 240px,#161616 252px,#2c2c2c 262px,#525252 272px,#979797 289px,#a9a9a9 296px,#acacac 302px,#a2a2a2 308px,#848484 316px,#353535 333px,#191919 342px,#0a0a0a 352px,#030303 369px,#030303 450px)"></i>
<i style="left:633px;background:linear-gradient(#030303,#0f0f0f 75px,#212121 104px,#434343 134px,#505050 138px,#696969 142px,#a9a9a9 150px,#c3c3c3 155px,#cecece 160px,#cfcfcf 173px,#c7c7c7 178px,#b5b5b5 182px,#919191 187px,#545454 194px,#3c3c3c 198px,#2a2a2a 204px,#161616 218px,#101010 235px,#151515 249px,#262626 259px,#444444 268px,#999999 289px,#aaaaaa 296px,#acacac 302px,#a1a1a1 308px,#818181 316px,#363636 332px,#1a1a1a 341px,#0b0b0b 350px,#030303 366px,#030303 450px)"></i>
<i style="left:636px;background:linear-gradient(#010101,#0a0a0a 80px,#212121 124px,#323232 134px,#424242 138px,#5f5f5f 142px,#a4a4a4 150px,#bbbbbb 154px,#c8c8c8 159px,#cacaca 170px,#c3c3c3 177px,#b5b5b5 181px,#9c9c9c 185px,#4f4f4f 194px,#383838 198px,#282828 204px,#151515 219px,#121212 236px,#1a1a1a 251px,#2b2b2b 260px,#4e4e4e 270px,#9a9a9a 289px,#aaaaaa 296px,#ababab 302px,#9f9f9f 308px,#7f7f7f 316px,#353535 332px,#191919 341px,#0b0b0b 350px,#030303 367px,#030303 450px)"></i>
<i style="left:639px;background:linear-gradient(#010101,#070707 84px,#131313 108px,#282828 133px,#343434 137px,#4f4f4f 141px,#9e9e9e 150px,#b6b6b6 154px,#c4c4c4 159px,#c7c7c7 170px,#c1c1c1 177px,#b3b3b3 181px,#9a9a9a 185px,#4c4c4c 194px,#343434 198px,#242424 204px,#131313 219px,#111111 235px,#1d1d1d 252px,#2e2e2e 261px,#525252 271px,#9a9a9a 289px,#aaaaaa 296px,#ababab 302px,#a0a0a0 308px,#808080 316px,#353535 332px,#191919 341px,#0a0a0a 351px,#030303 368px,#030303 450px)"></i>
<i style="left:642px;background:linear-gradient(#010101,#050505 59px,#141414 114px,#212121 131px,#2e2e2e 136px,#464646 140px,#9f9f9f 150px,#b6b6b6 154px,#c4c4c4 159px,#c8c8c8 170px,#c4c4c4 176px,#b4b4b4 181px,#9a9a9a 185px,#424242 195px,#2c2c2c 199px,#1e1e1e 205px,#0e0e0e 219px,#0f0f0f 234px,#1c1c1c 252px,#313131 262px,#555555 272px,#9c9c9c 290px,#ababab 297px,#ababab 303px,#9e9e9e 309px,#797979 318px,#373737 332px,#1a1a1a 341px,#090909 352px,#030303 370px,#030303 450px)"></i>
<i style="left:645px;background:linear-gradient(#000000,#060606 84px,#1a1a1a 122px,#242424 133px,#323232 137px,#4d4d4d 141px,#959595 149px,#afafaf 153px,#c0c0c0 158px,#c5c5c5 167px,#c2c2c2 175px,#b5b5b5 180px,#9e9e9e 184px,#6a6a6a 190px,#3e3e3e 195px,#272727 199px,#181818 205px,#0c0c0c 218px,#0c0c0c 232px,#1c1c1c 252px,#303030 262px,#505050 271px,#9a9a9a 290px,#aaaaaa 297px,#ababab 303px,#a0a0a0 309px,#808080 317px,#3a3a3a 332px,#1c1c1c 341px,#0b0b0b 351px,#030303 367px,#030303 450px)"></i>
<i style="left:648px;background:linear-gradient(#000000,#060606 97px,#131313 128px,#1d1d1d 134px,#303030 138px,#5b5b5b 143px,#929292 149px,#adadad 153px,#bdbdbd 158px,#c3c3c3 166px,#c0c0c0 175px,#b2b2b2 180px,#9b9b9b 184px,#676767 190px,#3a3a3a 195px,#232323 199px,#171717 204px,#0a0a0a 222px,#0e0e0e 237px,#1f1f1f 254px,#353535 264px,#999999 290px,#aaaaaa 298px,#ababab 304px,#9f9f9f 310px,#7f7f7f 318px,#383838 333px,#1b1b1b 342px,#0a0a0a 352px,#030303 368px,#030303 450px)"></i>
<i style="left:651px;background:linear-gradient(#000000,#060606 98px,#171717 131px,#202020 135px,#363636 139px,#909090 149px,#aaaaaa 153px,#bababa 158px,#bfbfbf 166px,#bcbcbc 175px,#afafaf 180px,#989898 184px,#636363 190px,#363636 195px,#1f1f1f 199px,#131313 204px,#080808 222px,#0f0f0f 238px,#202020 255px,#373737 265px,#979797 290px,#aaaaaa 298px,#acacac 304px,#a1a1a1 310px,#828282 318px,#373737 334px,#1b1b1b 343px,#0a0a0a 353px,#030303 369px,#030303 450px)"></i>
<i style="left:654px;background:linear-gradient(#010101,#050505 95px,#0e0e0e 129px,#171717 134px,#2b2b2b 138px,#555555 143px,#8b8b8b 149px,#a4a4a4 153px,#b4b4b4 158px,#b9b9b9 167px,#b4b4b4 176px,#a4a4a4 181px,#8b8b8b 185px,#323232 195px,#1a1a1a 199px,#0f0f0f 203px,#060606 222px,#0d0d0d 237px,#232323 257px,#383838 266px,#979797 291px,#a9a9a9 299px,#acacac 305px,#a1a1a1 311px,#828282 319px,#373737 335px,#1b1b1b 344px,#0a0a0a 354px,#030303 370px,#030303 450px)"></i>
<i style="left:657px;background:linear-gradient(#000000,#050505 109px,#0e0e0e 131px,#181818 135px,#2f2f2f 139px,#848484 149px,#9d9d9d 153px,#acacac 158px,#b1b1b1 167px,#acacac 176px,#9c9c9c 181px,#848484 185px,#2e2e2e 195px,#161616 199px,#0a0a0a 203px,#040404 219px,#080808 239px,#0f0f0f 245px,#1b1b1b 252px,#2d2d2d 263px,#4a4a4a 272px,#939393 291px,#a8a8a8 299px,#acacac 305px,#a4a4a4 311px,#8c8c8c 318px,#383838 336px,#1b1b1b 345px,#0a0a0a 355px,#030303 371px,#030303 450px)"></i>
<i style="left:660px;background:linear-gradient(#000000,#040404 105px,#0b0b0b 130px,#161616 135px,#2c2c2c 139px,#7b7b7b 149px,#969696 154px,#a1a1a1 159px,#a3a3a3 172px,#9b9b9b 178px,#878787 183px,#636363 188px,#2a2a2a 195px,#141414 199px,#070707 204px,#030303 230px,#080808 244px,#1a1a1a 251px,#292929 262px,#424242 271px,#929292 292px,#a7a7a7 300px,#acacac 307px,#a2a2a2 313px,#848484 321px,#393939 337px,#1c1c1c 346px,#0a0a0a 356px,#030303 371px,#030303 450px)"></i>
<i style="left:663px;background:linear-gradient(#010101,#060606 109px,#121212 132px,#202020 137px,#3e3e3e 142px,#757575 150px,#8a8a8a 155px,#939393 161px,#919191 175px,#868686 180px,#6e6e6e 185px,#212121 196px,#111111 200px,#090909 206px,#080808 229px,#1e1e1e 257px,#313131 267px,#505050 276px,#9a9a9a 296px,#aaaaaa 303px,#ababab 309px,#a0a0a0 315px,#808080 323px,#3a3a3a 338px,#1c1c1c 347px,#0b0b0b 357px,#030303 372px,#040404 450px)"></i>
<i style="left:666px;background:linear-gradient(#010101,#060606 102px,#111111 130px,#1b1b1b 136px,#313131 141px,#666666 150px,#787878 155px,#808080 162px,#7e7e7e 175px,#727272 181px,#555555 187px,#262626 195px,#151515 200px,#0c0c0c 212px,#0b0b0b 231px,#1b1b1b 257px,#2d2d2d 267px,#4a4a4a 276px,#9a9a9a 297px,#aaaaaa 304px,#acacac 310px,#a1a1a1 316px,#818181 324px,#373737 340px,#1a1a1a 349px,#0a0a0a 359px,#030303 375px,#040404 450px)"></i>
<i style="left:669px;background:linear-gradient(#010101,#060606 100px,#171717 132px,#222222 138px,#444444 146px,#5f5f5f 153px,#696969 160px,#696969 175px,#5d5d5d 182px,#3c3c3c 190px,#202020 197px,#131313 205px,#090909 226px,#121212 250px,#212121 263px,#3a3a3a 273px,#9d9d9d 299px,#ababab 306px,#ababab 312px,#9e9e9e 318px,#787878 327px,#373737 341px,#1a1a1a 350px,#0a0a0a 360px,#030303 376px,#040404 450px)"></i>
<i style="left:672px;background:linear-gradient(#010101,#070707 94px,#1e1e1e 136px,#2e2e2e 143px,#4c4c4c 153px,#555555 162px,#545454 176px,#484848 184px,#252525 196px,#121212 211px,#090909 229px,#0f0f0f 250px,#1e1e1e 263px,#373737 273px,#9d9d9d 300px,#acacac 307px,#acacac 313px,#9e9e9e 319px,#787878 328px,#363636 342px,#1a1a1a 351px,#0a0a0a 361px,#030303 377px,#040404 450px)"></i>
<i style="left:675px;background:linear-gradient(#010101,#090909 73px,#232323 133px,#313131 143px,#464646 155px,#494949 168px,#414141 180px,#212121 198px,#090909 223px,#080808 241px,#141414 258px,#282828 269px,#494949 279px,#9b9b9b 300px,#ababab 307px,#adadad 313px,#a1a1a1 319px,#818181 327px,#3a3a3a 342px,#1c1c1c 351px,#0b0b0b 361px,#030303 376px,#040404 450px)"></i>
<i style="left:678px;background:linear-gradient(#010101,#050505 74px,#161616 119px,#303030 140px,#454545 155px,#474747 168px,#3b3b3b 182px,#191919 205px,#070707 225px,#060606 243px,#141414 259px,#292929 270px,#4a4a4a 280px,#9c9c9c 301px,#acacac 308px,#adadad 314px,#a1a1a1 320px,#808080 328px,#393939 343px,#1c1c1c 352px,#0a0a0a 362px,#030303 377px,#040404 450px)"></i>
<i style="left:681px;background:linear-gradient(#010101,#050505 87px,#141414 123px,#262626 139px,#424242 156px,#474747 169px,#3e3e3e 180px,#191919 203px,#080808 221px,#050505 241px,#111111 258px,#272727 270px,#484848 280px,#9a9a9a 301px,#ababab 308px,#aeaeae 314px,#a3a3a3 320px,#848484 328px,#383838 344px,#1b1b1b 353px,#0a0a0a 363px,#030303 378px,#040404 450px)"></i>
<i style="left:684px;background:linear-gradient(#010101,#040404 92px,#131313 127px,#232323 137px,#484848 152px,#525252 163px,#4f4f4f 173px,#3e3e3e 182px,#232323 193px,#0e0e0e 211px,#040404 233px,#0b0b0b 251px,#1c1c1c 265px,#343434 275px,#9b9b9b 302px,#acacac 309px,#aeaeae 315px,#a3a3a3 321px,#848484 329px,#383838 345px,#1b1b1b 354px,#0a0a0a 364px,#030303 380px,#040404 450px)"></i>
<i style="left:687px;background:linear-gradient(#000000,#060606 90px,#161616 122px,#222222 131px,#373737 137px,#6d6d6d 148px,#7d7d7d 154px,#828282 164px,#7d7d7d 171px,#6c6c6c 177px,#282828 191px,#171717 198px,#070707 218px,#050505 238px,#121212 258px,#262626 270px,#444444 280px,#939393 300px,#a9a9a9 308px,#afafaf 314px,#a8a8a8 320px,#909090 327px,#373737 346px,#1a1a1a 355px,#0a0a0a 365px,#030303 381px,#040404 450px)"></i>
<i style="left:690px;background:linear-gradient(#000000,#060606 93px,#111111 125px,#1c1c1c 130px,#363636 135px,#888888 146px,#a1a1a1 151px,#adadad 156px,#afafaf 167px,#a6a6a6 172px,#909090 177px,#5d5d5d 184px,#313131 190px,#191919 195px,#0e0e0e 201px,#030303 225px,#070707 245px,#1b1b1b 264px,#313131 274px,#555555 284px,#9e9e9e 304px,#aeaeae 311px,#aeaeae 317px,#a2a2a2 323px,#818181 331px,#393939 346px,#1c1c1c 355px,#0a0a0a 365px,#030303 380px,#040404 450px)"></i>
<i style="left:693px;background:linear-gradient(#000000,#050505 112px,#0b0b0b 125px,#1a1a1a 130px,#383838 135px,#949494 146px,#b0b0b0 151px,#bdbdbd 156px,#bfbfbf 166px,#b7b7b7 171px,#a2a2a2 176px,#7e7e7e 181px,#323232 190px,#171717 195px,#0b0b0b 200px,#030303 221px,#050505 248px,#0f0f0f 258px,#202020 266px,#383838 276px,#787878 293px,#a4a4a4 306px,#afafaf 313px,#acacac 319px,#999999 326px,#373737 347px,#1a1a1a 356px,#0a0a0a 366px,#030303 382px,#040404 450px)"></i>
<i style="left:696px;background:linear-gradient(#000000,#040404 114px,#0a0a0a 125px,#1a1a1a 130px,#383838 135px,#929292 146px,#aeaeae 151px,#bababa 156px,#bcbcbc 166px,#b4b4b4 171px,#9f9f9f 176px,#7c7c7c 181px,#323232 190px,#171717 195px,#0b0b0b 200px,#020202 223px,#050505 250px,#0d0d0d 258px,#202020 264px,#383838 275px,#5d5d5d 285px,#8e8e8e 299px,#aaaaaa 309px,#b0b0b0 315px,#a9a9a9 321px,#929292 328px,#383838 347px,#1a1a1a 356px,#0a0a0a 366px,#030303 382px,#040404 450px)"></i>
<i style="left:699px;background:linear-gradient(#000000,#050505 109px,#0c0c0c 125px,#181818 130px,#303030 135px,#7c7c7c 146px,#939393 151px,#9e9e9e 157px,#9d9d9d 168px,#939393 173px,#7c7c7c 178px,#2c2c2c 190px,#171717 195px,#0e0e0e 202px,#030303 237px,#101010 252px,#313131 271px,#505050 281px,#6d6d6d 288px,#a8a8a8 308px,#b1b1b1 315px,#aaaaaa 321px,#939393 328px,#383838 347px,#1b1b1b 356px,#0a0a0a 366px,#040404 382px,#050505 450px)"></i>
<i style="left:702px;background:linear-gradient(#010101,#060606 102px,#111111 127px,#1e1e1e 134px,#515151 148px,#5d5d5d 155px,#5d5d5d 169px,#505050 176px,#212121 190px,#181818 198px,#0c0c0c 236px,#181818 251px,#2f2f2f 268px,#494949 278px,#737373 289px,#ababab 309px,#b1b1b1 316px,#a9a9a9 322px,#909090 329px,#393939 347px,#1b1b1b 356px,#0a0a0a 366px,#040404 382px,#050505 450px)"></i>
<i style="left:705px;background:linear-gradient(#010101,#040404 76px,#151515 122px,#282828 140px,#373737 154px,#343434 177px,#2d2d2d 194px,#212121 217px,#1d1d1d 238px,#272727 257px,#3a3a3a 271px,#545454 280px,#757575 288px,#adadad 310px,#b2b2b2 316px,#a9a9a9 322px,#919191 329px,#3a3a3a 347px,#1c1c1c 356px,#0c0c0c 365px,#040404 380px,#050505 450px)"></i>
<i style="left:708px;background:linear-gradient(#020202,#040404 76px,#161616 104px,#2d2d2d 132px,#5d5d5d 156px,#676767 167px,#666666 178px,#3f3f3f 204px,#2c2c2c 218px,#282828 237px,#2f2f2f 261px,#3d3d3d 272px,#545454 280px,#7b7b7b 289px,#aeaeae 311px,#b2b2b2 317px,#a8a8a8 323px,#898989 331px,#3b3b3b 347px,#1d1d1d 356px,#0c0c0c 365px,#050505 380px,#050505 450px)"></i>
<i style="left:711px;background:linear-gradient(#040404,#0c0c0c 54px,#191919 92px,#2c2c2c 112px,#767676 155px,#818181 169px,#7e7e7e 178px,#6b6b6b 188px,#353535 213px,#292929 226px,#2a2a2a 253px,#343434 267px,#474747 276px,#646464 284px,#7a7a7a 289px,#a5a5a5 306px,#b2b2b2 314px,#afafaf 320px,#9b9b9b 327px,#626262 339px,#303030 350px,#161616 359px,#0a0a0a 368px,#050505 388px,#060606 450px)"></i>
<i style="left:714px;background:linear-gradient(#020202,#040404 57px,#191919 104px,#616161 154px,#636363 164px,#656565 172px,#717171 182px,#6f6f6f 189px,#5e5e5e 197px,#383838 212px,#2b2b2b 224px,#292929 247px,#323232 265px,#434343 275px,#5f5f5f 283px,#7a7a7a 289px,#9a9a9a 301px,#b1b1b1 313px,#b1b1b1 319px,#a4a4a4 325px,#828282 333px,#3a3a3a 348px,#1c1c1c 357px,#0c0c0c 366px,#060606 383px,#060606 450px)"></i>
<i style="left:717px;background:linear-gradient(#030303,#0b0b0b 73px,#1f1f1f 117px,#373737 142px,#454545 155px,#464646 169px,#606060 184px,#626262 193px,#575757 200px,#353535 214px,#232323 230px,#212121 242px,#353535 268px,#484848 277px,#666666 285px,#7b7b7b 290px,#9c9c9c 302px,#b2b2b2 314px,#b0b0b0 320px,#a2a2a2 326px,#7a7a7a 335px,#373737 349px,#1a1a1a 358px,#0c0c0c 366px,#060606 383px,#070707 450px)"></i>
<i style="left:720px;background:linear-gradient(#010101,#070707 76px,#121212 105px,#252525 121px,#454545 142px,#4b4b4b 158px,#535353 171px,#5b5b5b 184px,#525252 196px,#151515 229px,#0c0c0c 238px,#373737 270px,#4d4d4d 279px,#6e6e6e 287px,#7a7a7a 290px,#a0a0a0 304px,#b2b2b2 315px,#afafaf 321px,#9b9b9b 328px,#626262 340px,#313131 351px,#161616 360px,#0b0b0b 369px,#070707 392px,#070707 450px)"></i>
<i style="left:723px;background:linear-gradient(#020202,#060606 54px,#101010 101px,#222222 113px,#575757 136px,#606060 145px,#5a5a5a 156px,#515151 166px,#4f4f4f 178px,#434343 192px,#373737 205px,#0a0a0a 235px,#0d0d0d 241px,#363636 270px,#4f4f4f 280px,#7c7c7c 291px,#a2a2a2 305px,#b1b1b1 315px,#afafaf 321px,#9d9d9d 328px,#696969 339px,#323232 351px,#171717 360px,#0b0b0b 369px,#070707 391px,#080808 450px)"></i>
<i style="left:726px;background:linear-gradient(#050505,#0c0c0c 47px,#121212 84px,#262626 102px,#444444 120px,#8b8b8b 153px,#929292 161px,#8e8e8e 167px,#7f7f7f 173px,#494949 187px,#373737 206px,#1c1c1c 226px,#181818 239px,#272727 263px,#383838 273px,#585858 283px,#7b7b7b 291px,#a3a3a3 306px,#b1b1b1 316px,#aeaeae 322px,#9a9a9a 329px,#343434 351px,#181818 360px,#0b0b0b 370px,#080808 397px,#080808 450px)"></i>
<i style="left:729px;background:linear-gradient(#040404,#0a0a0a 57px,#141414 82px,#333333 121px,#494949 129px,#6f6f6f 139px,#929292 157px,#9d9d9d 170px,#989898 178px,#7a7a7a 189px,#414141 207px,#2b2b2b 218px,#212121 232px,#212121 261px,#2d2d2d 271px,#444444 279px,#7a7a7a 291px,#a2a2a2 306px,#b1b1b1 316px,#aeaeae 322px,#9b9b9b 329px,#636363 341px,#313131 352px,#191919 360px,#0b0b0b 371px,#080808 408px,#080808 450px)"></i>
<i style="left:732px;background:linear-gradient(#020202,#090909 64px,#101010 89px,#343434 128px,#545454 140px,#767676 152px,#858585 163px,#878787 176px,#7b7b7b 185px,#343434 211px,#252525 222px,#1b1b1b 263px,#242424 271px,#3c3c3c 279px,#686868 288px,#7b7b7b 292px,#a1a1a1 306px,#b0b0b0 316px,#aeaeae 322px,#9c9c9c 329px,#6a6a6a 340px,#333333 352px,#1b1b1b 360px,#0d0d0d 370px,#090909 394px,#090909 450px)"></i>
<i style="left:735px;background:linear-gradient(#020202,#080808 63px,#101010 103px,#1f1f1f 118px,#545454 146px,#585858 155px,#494949 171px,#535353 185px,#4a4a4a 194px,#222222 214px,#1b1b1b 225px,#1c1c1c 245px,#131313 264px,#1c1c1c 271px,#363636 279px,#636363 288px,#787878 292px,#9a9a9a 303px,#afafaf 315px,#aeaeae 322px,#9d9d9d 329px,#707070 339px,#383838 351px,#1c1c1c 360px,#0d0d0d 370px,#090909 393px,#090909 450px)"></i>
<i style="left:738px;background:linear-gradient(#010101,#060606 63px,#111111 97px,#262626 117px,#555555 146px,#5b5b5b 158px,#505050 182px,#3b3b3b 196px,#141414 215px,#101010 223px,#1a1a1a 243px,#0e0e0e 265px,#191919 271px,#383838 280px,#676767 289px,#7a7a7a 293px,#979797 302px,#aeaeae 314px,#afafaf 321px,#a3a3a3 327px,#838383 335px,#3c3c3c 350px,#1e1e1e 359px,#0e0e0e 369px,#090909 388px,#090909 450px)"></i>
<i style="left:741px;background:linear-gradient(#010101,#070707 77px,#111111 108px,#212121 126px,#545454 154px,#595959 164px,#4f4f4f 174px,#393939 185px,#303030 198px,#0f0f0f 217px,#101010 226px,#1b1b1b 242px,#131313 264px,#1d1d1d 271px,#353535 279px,#606060 288px,#757575 292px,#969696 302px,#adadad 314px,#afafaf 321px,#a3a3a3 327px,#848484 335px,#3d3d3d 350px,#1f1f1f 359px,#0e0e0e 369px,#0a0a0a 387px,#0a0a0a 450px)"></i>
<i style="left:744px;background:linear-gradient(#010101,#090909 90px,#1e1e1e 123px,#505050 157px,#5e5e5e 173px,#575757 184px,#3c3c3c 200px,#202020 215px,#1c1c1c 225px,#222222 244px,#1b1b1b 263px,#242424 272px,#3b3b3b 280px,#646464 289px,#777777 293px,#979797 303px,#aeaeae 315px,#aeaeae 322px,#a2a2a2 328px,#818181 336px,#3b3b3b 351px,#1e1e1e 360px,#0e0e0e 370px,#0a0a0a 390px,#0a0a0a 450px)"></i>
<i style="left:747px;background:linear-gradient(#030303,#060606 84px,#141414 101px,#3f3f3f 125px,#5b5b5b 141px,#606060 150px,#565656 160px,#626262 167px,#7b7b7b 177px,#7f7f7f 182px,#737373 190px,#393939 211px,#2b2b2b 222px,#242424 256px,#242424 268px,#323232 277px,#4d4d4d 285px,#737373 293px,#9a9a9a 305px,#aeaeae 317px,#aeaeae 323px,#9d9d9d 330px,#727272 340px,#3a3a3a 352px,#1d1d1d 361px,#0e0e0e 371px,#0a0a0a 393px,#0a0a0a 450px)"></i>
<i style="left:750px;background:linear-gradient(#050505,#0c0c0c 54px,#151515 85px,#333333 110px,#5b5b5b 130px,#8d8d8d 154px,#9c9c9c 167px,#9b9b9b 176px,#8a8a8a 185px,#424242 208px,#303030 218px,#282828 232px,#2a2a2a 271px,#363636 279px,#515151 287px,#757575 295px,#999999 306px,#adadad 317px,#adadad 324px,#9d9d9d 331px,#707070 341px,#393939 353px,#1d1d1d 362px,#0e0e0e 372px,#0a0a0a 396px,#0a0a0a 450px)"></i>
<i style="left:753px;background:linear-gradient(#040404,#0d0d0d 77px,#202020 101px,#3a3a3a 121px,#5f5f5f 134px,#747474 141px,#939393 158px,#9d9d9d 170px,#999999 178px,#858585 187px,#424242 208px,#303030 218px,#282828 232px,#292929 265px,#2b2b2b 275px,#3b3b3b 283px,#565656 290px,#727272 296px,#999999 307px,#acacac 317px,#aeaeae 324px,#a2a2a2 330px,#838383 338px,#3c3c3c 353px,#1f1f1f 362px,#101010 371px,#0b0b0b 389px,#0a0a0a 450px)"></i>
<i style="left:756px;background:linear-gradient(#020202,#070707 53px,#0c0c0c 91px,#1e1e1e 111px,#343434 123px,#696969 142px,#727272 151px,#757575 165px,#7e7e7e 177px,#757575 185px,#383838 209px,#2c2c2c 220px,#282828 244px,#2a2a2a 263px,#262626 275px,#303030 282px,#484848 289px,#737373 298px,#959595 307px,#ababab 317px,#aeaeae 324px,#a4a4a4 330px,#868686 338px,#3c3c3c 354px,#1f1f1f 363px,#101010 373px,#0c0c0c 398px,#0b0b0b 450px)"></i>
<i style="left:759px;background:linear-gradient(#030303,#0c0c0c 78px,#191919 106px,#2f2f2f 119px,#545454 136px,#5c5c5c 146px,#555555 163px,#595959 174px,#4c4c4c 183px,#313131 198px,#1e1e1e 213px,#1f1f1f 223px,#272727 235px,#282828 262px,#212121 276px,#292929 283px,#3f3f3f 289px,#777777 300px,#989898 309px,#acacac 319px,#adadad 326px,#9d9d9d 333px,#727272 343px,#3b3b3b 355px,#1f1f1f 364px,#111111 374px,#0d0d0d 405px,#0c0c0c 450px)"></i>
<i style="left:762px;background:linear-gradient(#020202,#090909 74px,#1c1c1c 108px,#2d2d2d 125px,#666666 156px,#6b6b6b 166px,#606060 175px,#373737 191px,#131313 212px,#161616 222px,#272727 237px,#272727 261px,#1e1e1e 276px,#242424 283px,#353535 288px,#737373 300px,#969696 309px,#ababab 319px,#adadad 326px,#a3a3a3 332px,#848484 340px,#3b3b3b 356px,#202020 365px,#121212 375px,#0e0e0e 414px,#0c0c0c 450px)"></i>
<i style="left:765px;background:linear-gradient(#010101,#070707 54px,#0d0d0d 93px,#222222 115px,#383838 135px,#3e3e3e 146px,#626262 159px,#767676 168px,#7a7a7a 175px,#707070 182px,#454545 196px,#212121 208px,#181818 216px,#1f1f1f 228px,#272727 238px,#272727 260px,#1f1f1f 276px,#272727 283px,#3a3a3a 289px,#717171 300px,#939393 309px,#a9a9a9 319px,#aeaeae 326px,#a4a4a4 332px,#888888 340px,#3e3e3e 356px,#222222 365px,#141414 375px,#101010 408px,#0d0d0d 450px)"></i>
<i style="left:768px;background:linear-gradient(#020202,#0b0b0b 65px,#191919 97px,#383838 115px,#7e7e7e 148px,#989898 164px,#9c9c9c 174px,#909090 182px,#737373 191px,#404040 204px,#2b2b2b 213px,#242424 223px,#282828 248px,#242424 263px,#222222 276px,#2d2d2d 284px,#454545 291px,#717171 300px,#979797 311px,#acacac 322px,#ababab 329px,#9b9b9b 336px,#6b6b6b 347px,#3a3a3a 358px,#212121 367px,#151515 377px,#0e0e0e 450px)"></i>
<i style="left:771px;background:linear-gradient(#030303,#0a0a0a 69px,#1e1e1e 98px,#363636 117px,#6e6e6e 146px,#8e8e8e 161px,#989898 172px,#929292 179px,#818181 186px,#414141 204px,#2b2b2b 214px,#232323 225px,#252525 254px,#232323 274px,#2e2e2e 283px,#474747 291px,#747474 301px,#979797 312px,#ababab 323px,#ababab 330px,#9a9a9a 337px,#6a6a6a 348px,#3a3a3a 359px,#212121 368px,#161616 378px,#0f0f0f 450px)"></i>
<i style="left:774px;background:linear-gradient(#030303,#080808 87px,#151515 112px,#353535 142px,#676767 163px,#6f6f6f 172px,#686868 180px,#2d2d2d 204px,#1c1c1c 217px,#1b1b1b 232px,#232323 274px,#323232 284px,#4a4a4a 292px,#737373 301px,#999999 314px,#acacac 325px,#ababab 331px,#9a9a9a 338px,#6a6a6a 349px,#3a3a3a 360px,#222222 369px,#171717 380px,#101010 450px)"></i>
<i style="left:777px;background:linear-gradient(#010101,#070707 85px,#171717 108px,#4f4f4f 157px,#515151 169px,#464646 179px,#252525 197px,#131313 218px,#141414 237px,#202020 272px,#2e2e2e 283px,#484848 292px,#747474 302px,#9a9a9a 316px,#ababab 326px,#aaaaaa 332px,#999999 339px,#656565 351px,#373737 362px,#212121 371px,#181818 383px,#111111 450px)"></i>
<i style="left:780px;background:linear-gradient(#010101,#050505 68px,#0a0a0a 94px,#343434 148px,#404040 163px,#3c3c3c 177px,#121212 213px,#0c0c0c 229px,#181818 266px,#262626 280px,#3e3e3e 290px,#636363 299px,#737373 303px,#9a9a9a 317px,#aaaaaa 327px,#a9a9a9 333px,#989898 340px,#5f5f5f 353px,#373737 363px,#222222 372px,#191919 384px,#111111 450px)"></i>
<i style="left:783px;background:linear-gradient(#010101,#0a0a0a 96px,#1d1d1d 126px,#414141 153px,#444444 166px,#373737 180px,#111111 211px,#090909 229px,#0d0d0d 255px,#1e1e1e 277px,#343434 288px,#545454 297px,#6f6f6f 303px,#999999 318px,#aaaaaa 328px,#a8a8a8 334px,#979797 341px,#5a5a5a 355px,#343434 365px,#222222 374px,#1a1a1a 388px,#121212 450px)"></i>
<i style="left:786px;background:linear-gradient(#020202,#0b0b0b 89px,#1f1f1f 112px,#535353 150px,#575757 162px,#4a4a4a 176px,#151515 206px,#090909 223px,#060606 249px,#1b1b1b 277px,#2f2f2f 288px,#4e4e4e 297px,#6e6e6e 304px,#989898 319px,#a9a9a9 329px,#a7a7a7 335px,#969696 342px,#3e3e3e 363px,#272727 372px,#1c1c1c 383px,#121212 450px)"></i>
<i style="left:789px;background:linear-gradient(#020202,#0c0c0c 78px,#1c1c1c 118px,#373737 137px,#555555 156px,#5a5a5a 168px,#525252 178px,#1b1b1b 205px,#0c0c0c 221px,#030303 247px,#1a1a1a 279px,#2d2d2d 289px,#4c4c4c 298px,#6c6c6c 305px,#949494 319px,#a7a7a7 329px,#a7a7a7 335px,#989898 342px,#6b6b6b 353px,#3e3e3e 364px,#272727 373px,#1d1d1d 384px,#131313 450px)"></i>
<i style="left:792px;background:linear-gradient(#010101,#060606 59px,#171717 119px,#252525 137px,#4f4f4f 165px,#515151 175px,#434343 185px,#1c1c1c 204px,#0d0d0d 219px,#070707 248px,#181818 280px,#2a2a2a 290px,#4a4a4a 299px,#6b6b6b 306px,#919191 319px,#a6a6a6 330px,#a6a6a6 336px,#979797 343px,#6a6a6a 354px,#3e3e3e 365px,#272727 374px,#1d1d1d 386px,#131313 450px)"></i>
<i style="left:795px;background:linear-gradient(#010101,#080808 88px,#191919 119px,#303030 149px,#4e4e4e 168px,#505050 177px,#424242 186px,#161616 205px,#0d0d0d 219px,#0f0f0f 266px,#151515 281px,#252525 290px,#444444 299px,#6a6a6a 307px,#919191 320px,#a5a5a5 330px,#a5a5a5 337px,#969696 344px,#646464 356px,#3a3a3a 367px,#252525 376px,#1c1c1c 389px,#131313 450px)"></i>
<i style="left:798px;background:linear-gradient(#010101,#060606 83px,#121212 104px,#353535 132px,#5d5d5d 161px,#616161 173px,#565656 182px,#222222 205px,#141414 218px,#101010 280px,#1c1c1c 288px,#373737 297px,#6a6a6a 308px,#8f8f8f 320px,#a4a4a4 331px,#a4a4a4 338px,#949494 345px,#5a5a5a 359px,#363636 369px,#242424 378px,#1b1b1b 393px,#131313 450px)"></i>
<i style="left:801px;background:linear-gradient(#010101,#070707 75px,#212121 126px,#303030 136px,#606060 156px,#686868 164px,#616161 174px,#272727 206px,#1a1a1a 220px,#151515 256px,#0d0d0d 280px,#161616 287px,#303030 296px,#595959 305px,#6e6e6e 310px,#8f8f8f 321px,#a4a4a4 332px,#a3a3a3 339px,#929292 346px,#3e3e3e 367px,#282828 376px,#1d1d1d 388px,#141414 450px)"></i>
<i style="left:804px;background:linear-gradient(#010101,#060606 87px,#171717 111px,#313131 132px,#4b4b4b 143px,#767676 157px,#7c7c7c 163px,#727272 169px,#3b3b3b 184px,#2f2f2f 193px,#1d1d1d 219px,#1c1c1c 247px,#0d0d0d 279px,#161616 287px,#2f2f2f 296px,#555555 305px,#6c6c6c 310px,#909090 322px,#a3a3a3 333px,#a1a1a1 340px,#909090 347px,#3d3d3d 368px,#282828 377px,#1e1e1e 390px,#141414 450px)"></i>
<i style="left:807px;background:linear-gradient(#020202,#070707 87px,#1a1a1a 120px,#262626 132px,#3a3a3a 139px,#5a5a5a 146px,#909090 156px,#9e9e9e 161px,#9f9f9f 165px,#919191 170px,#4e4e4e 184px,#373737 192px,#222222 208px,#1d1d1d 222px,#202020 244px,#101010 277px,#171717 286px,#2b2b2b 295px,#4e4e4e 304px,#6a6a6a 310px,#8f8f8f 322px,#a2a2a2 333px,#a1a1a1 340px,#929292 347px,#404040 368px,#2a2a2a 377px,#1f1f1f 389px,#151515 450px)"></i>
<i style="left:810px;background:linear-gradient(#010101,#090909 94px,#1b1b1b 117px,#343434 135px,#494949 142px,#727272 150px,#969696 157px,#a3a3a3 162px,#a2a2a2 166px,#939393 171px,#4f4f4f 185px,#2e2e2e 195px,#1d1d1d 204px,#191919 217px,#222222 242px,#121212 275px,#191919 286px,#2c2c2c 295px,#4d4d4d 304px,#696969 310px,#8d8d8d 322px,#a2a2a2 334px,#a0a0a0 341px,#909090 348px,#3f3f3f 369px,#2b2b2b 378px,#202020 391px,#161616 450px)"></i>
<i style="left:813px;background:linear-gradient(#010101,#060606 66px,#121212 111px,#222222 132px,#353535 141px,#5f5f5f 152px,#787878 159px,#7f7f7f 164px,#797979 170px,#272727 198px,#1a1a1a 205px,#191919 219px,#232323 241px,#131313 273px,#191919 285px,#2c2c2c 295px,#4c4c4c 304px,#6b6b6b 311px,#8f8f8f 323px,#a1a1a1 334px,#a0a0a0 341px,#919191 348px,#414141 369px,#2c2c2c 378px,#212121 391px,#171717 450px)"></i>
<i style="left:816px;background:linear-gradient(#030303,#0d0d0d 74px,#232323 106px,#4c4c4c 137px,#717171 158px,#757575 167px,#676767 178px,#2e2e2e 204px,#222222 216px,#222222 244px,#121212 271px,#171717 284px,#282828 294px,#464646 303px,#6a6a6a 311px,#8e8e8e 323px,#a0a0a0 335px,#9e9e9e 342px,#8e8e8e 349px,#434343 369px,#2e2e2e 378px,#222222 392px,#181818 450px)"></i>
<i style="left:819px;background:linear-gradient(#020202,#090909 65px,#1e1e1e 100px,#3c3c3c 126px,#686868 152px,#696969 161px,#424242 196px,#2a2a2a 214px,#242424 235px,#181818 255px,#0e0e0e 273px,#161616 285px,#292929 295px,#494949 304px,#696969 311px,#8c8c8c 323px,#9e9e9e 335px,#9d9d9d 342px,#8d8d8d 349px,#444444 369px,#2e2e2e 379px,#232323 394px,#1a1a1a 450px)"></i>
<i style="left:822px;background:linear-gradient(#020202,#070707 89px,#131313 111px,#252525 128px,#4d4d4d 149px,#525252 158px,#474747 169px,#3c3c3c 178px,#3f3f3f 192px,#242424 220px,#1a1a1a 247px,#0a0a0a 273px,#121212 284px,#272727 295px,#474747 304px,#676767 311px,#8b8b8b 323px,#9d9d9d 336px,#9a9a9a 343px,#878787 351px,#454545 369px,#303030 379px,#242424 395px,#1b1b1b 450px)"></i>
<i style="left:825px;background:linear-gradient(#010101,#090909 54px,#131313 94px,#252525 115px,#454545 143px,#565656 167px,#545454 180px,#3f3f3f 195px,#212121 214px,#191919 230px,#121212 253px,#070707 275px,#131313 286px,#2c2c2c 297px,#4e4e4e 306px,#696969 312px,#898989 323px,#9c9c9c 336px,#999999 343px,#868686 351px,#474747 369px,#323232 379px,#262626 395px,#1c1c1c 450px)"></i>
<i style="left:828px;background:linear-gradient(#010101,#080808 87px,#121212 108px,#303030 136px,#383838 151px,#505050 167px,#525252 176px,#424242 187px,#1e1e1e 208px,#111111 223px,#0e0e0e 256px,#090909 276px,#161616 288px,#2e2e2e 298px,#515151 307px,#676767 312px,#878787 323px,#9a9a9a 336px,#989898 343px,#868686 351px,#484848 369px,#333333 379px,#262626 396px,#1d1d1d 450px)"></i>
<i style="left:831px;background:linear-gradient(#010101,#0c0c0c 92px,#171717 116px,#2f2f2f 131px,#585858 152px,#606060 163px,#585858 173px,#3a3a3a 185px,#232323 195px,#090909 223px,#0c0c0c 260px,#0d0d0d 278px,#1b1b1b 290px,#333333 300px,#585858 309px,#6b6b6b 314px,#888888 325px,#999999 337px,#969696 344px,#838383 352px,#474747 370px,#323232 381px,#262626 401px,#1e1e1e 450px)"></i>
<i style="left:834px;background:linear-gradient(#020202,#080808 95px,#191919 116px,#343434 133px,#626262 155px,#696969 165px,#626262 175px,#222222 202px,#0a0a0a 218px,#060606 229px,#0b0b0b 261px,#101010 280px,#1f1f1f 292px,#393939 302px,#656565 313px,#868686 325px,#979797 337px,#959595 344px,#838383 352px,#484848 370px,#343434 381px,#272727 401px,#1f1f1f 450px)"></i>
<i style="left:837px;background:linear-gradient(#020202,#0c0c0c 66px,#252525 131px,#3f3f3f 145px,#5e5e5e 161px,#666666 172px,#5f5f5f 180px,#3e3e3e 194px,#1a1a1a 209px,#0b0b0b 222px,#090909 242px,#101010 278px,#1f1f1f 292px,#383838 302px,#636363 313px,#848484 325px,#959595 337px,#949494 344px,#828282 352px,#484848 370px,#353535 381px,#272727 401px,#1f1f1f 450px)"></i>
<i style="left:840px;background:linear-gradient(#010101,#0a0a0a 85px,#191919 122px,#474747 161px,#565656 174px,#535353 182px,#3c3c3c 194px,#1a1a1a 210px,#0c0c0c 224px,#080808 247px,#121212 281px,#222222 294px,#393939 303px,#606060 313px,#818181 325px,#949494 337px,#929292 344px,#818181 352px,#494949 370px,#353535 381px,#282828 401px,#202020 450px)"></i>
<i style="left:843px;background:linear-gradient(#020202,#0a0a0a 45px,#0f0f0f 76px,#101010 102px,#262626 126px,#363636 146px,#3d3d3d 157px,#505050 173px,#4d4d4d 182px,#2d2d2d 198px,#131313 213px,#060606 233px,#060606 249px,#151515 285px,#242424 296px,#3e3e3e 305px,#606060 314px,#818181 326px,#929292 337px,#919191 344px,#808080 352px,#494949 370px,#363636 381px,#282828 401px,#202020 450px)"></i>
<i style="left:846px;background:linear-gradient(#020202,#050505 56px,#0c0c0c 97px,#212121 125px,#505050 167px,#4f4f4f 177px,#3f3f3f 187px,#171717 205px,#0b0b0b 219px,#030303 244px,#151515 287px,#262626 298px,#414141 307px,#5b5b5b 314px,#7e7e7e 327px,#8e8e8e 338px,#8b8b8b 345px,#777777 354px,#484848 370px,#343434 382px,#272727 404px,#202020 450px)"></i>
<i style="left:849px;background:linear-gradient(#010101,#070707 82px,#1e1e1e 118px,#303030 142px,#414141 156px,#4e4e4e 168px,#4c4c4c 177px,#353535 190px,#161616 206px,#0a0a0a 223px,#070707 247px,#131313 287px,#232323 298px,#414141 308px,#5c5c5c 316px,#7a7a7a 328px,#888888 338px,#868686 345px,#737373 354px,#474747 370px,#343434 382px,#272727 404px,#202020 450px)"></i>
<i style="left:852px;background:linear-gradient(#030303,#080808 49px,#1c1c1c 102px,#222222 113px,#424242 129px,#5f5f5f 145px,#666666 156px,#5f5f5f 167px,#494949 179px,#282828 194px,#111111 216px,#0c0c0c 239px,#101010 286px,#1e1e1e 297px,#393939 307px,#545454 315px,#747474 328px,#828282 339px,#7e7e7e 347px,#646464 358px,#414141 372px,#303030 386px,#262626 409px,#202020 450px)"></i>
<i style="left:855px;background:linear-gradient(#020202,#080808 67px,#141414 98px,#272727 115px,#5b5b5b 143px,#646464 155px,#606060 166px,#4c4c4c 178px,#282828 194px,#131313 218px,#0e0e0e 273px,#0e0e0e 288px,#1e1e1e 298px,#3d3d3d 309px,#5a5a5a 319px,#757575 332px,#7d7d7d 341px,#757575 349px,#404040 372px,#2f2f2f 387px,#262626 410px,#202020 450px)"></i>
<i style="left:858px;background:linear-gradient(#010101,#090909 92px,#1b1b1b 117px,#2c2c2c 140px,#3e3e3e 155px,#4c4c4c 169px,#4b4b4b 179px,#323232 196px,#1a1a1a 213px,#151515 228px,#161616 256px,#0c0c0c 286px,#161616 295px,#333333 307px,#4d4d4d 316px,#6d6d6d 331px,#777777 340px,#727272 348px,#3e3e3e 373px,#2d2d2d 390px,#262626 413px,#202020 450px)"></i>
<i style="left:861px;background:linear-gradient(#030303,#0e0e0e 83px,#131313 110px,#2e2e2e 145px,#3f3f3f 166px,#414141 181px,#333333 195px,#191919 214px,#161616 228px,#1b1b1b 251px,#0e0e0e 286px,#191919 296px,#343434 308px,#4f4f4f 319px,#6c6c6c 334px,#717171 343px,#666666 352px,#3e3e3e 372px,#2d2d2d 390px,#262626 413px,#202020 450px)"></i>
<i style="left:864px;background:linear-gradient(#020202,#090909 83px,#3b3b3b 157px,#353535 176px,#363636 188px,#242424 202px,#111111 216px,#111111 227px,#1e1e1e 248px,#171717 270px,#131313 287px,#1f1f1f 299px,#626262 331px,#6c6c6c 341px,#656565 350px,#3c3c3c 373px,#2b2b2b 394px,#202020 450px)"></i>
<i style="left:867px;background:linear-gradient(#010101,#0c0c0c 90px,#2c2c2c 130px,#343434 143px,#4b4b4b 163px,#4e4e4e 177px,#404040 189px,#0e0e0e 214px,#0a0a0a 221px,#202020 247px,#1e1e1e 265px,#171717 287px,#212121 300px,#606060 334px,#666666 343px,#5c5c5c 353px,#3b3b3b 373px,#2a2a2a 396px,#202020 450px)"></i>
<i style="left:870px;background:linear-gradient(#010101,#060606 75px,#1c1c1c 114px,#434343 147px,#666666 170px,#656565 177px,#505050 187px,#232323 206px,#151515 217px,#161616 228px,#252525 248px,#212121 269px,#1c1c1c 290px,#272727 304px,#424242 320px,#5b5b5b 334px,#616161 343px,#585858 353px,#393939 374px,#282828 400px,#202020 450px)"></i>
<i style="left:873px;background:linear-gradient(#040404,#070707 64px,#242424 112px,#3c3c3c 128px,#4c4c4c 139px,#4d4d4d 156px,#595959 162px,#737373 170px,#767676 175px,#696969 181px,#3b3b3b 194px,#252525 205px,#1b1b1b 218px,#212121 233px,#272727 246px,#252525 270px,#202020 293px,#2b2b2b 307px,#3c3c3c 319px,#545454 332px,#5d5d5d 342px,#575757 352px,#383838 375px,#272727 403px,#202020 450px)"></i>
<i style="left:876px;background:linear-gradient(#040404,#0c0c0c 59px,#181818 90px,#323232 116px,#515151 134px,#666666 145px,#717171 157px,#979797 170px,#979797 174px,#8c8c8c 178px,#6c6c6c 184px,#383838 193px,#222222 199px,#1c1c1c 207px,#1f1f1f 224px,#272727 239px,#262626 276px,#242424 298px,#323232 312px,#414141 322px,#575757 339px,#575757 349px,#363636 377px,#272727 406px,#202020 450px)"></i>
<i style="left:879px;background:linear-gradient(#020202,#0f0f0f 86px,#2b2b2b 125px,#444444 135px,#717171 150px,#8f8f8f 161px,#a7a7a7 169px,#a9a9a9 174px,#9f9f9f 178px,#7f7f7f 184px,#4f4f4f 192px,#343434 199px,#272727 207px,#212121 220px,#272727 240px,#272727 283px,#282828 301px,#545454 341px,#525252 351px,#353535 378px,#262626 407px,#202020 450px)"></i>
<i style="left:882px;background:linear-gradient(#030303,#0a0a0a 65px,#171717 111px,#2a2a2a 127px,#474747 140px,#8a8a8a 164px,#969696 171px,#929292 177px,#7c7c7c 185px,#4b4b4b 198px,#303030 209px,#252525 221px,#292929 300px,#373737 312px,#515151 344px,#494949 357px,#323232 382px,#262626 409px,#202020 450px)"></i>
<i style="left:885px;background:linear-gradient(#010101,#080808 97px,#1a1a1a 124px,#363636 141px,#6f6f6f 169px,#727272 176px,#686868 183px,#333333 203px,#222222 215px,#1b1b1b 234px,#282828 285px,#2c2c2c 302px,#3c3c3c 315px,#4a4a4a 338px,#4d4d4d 349px,#2f2f2f 387px,#262626 412px,#202020 450px)"></i>
<i style="left:888px;background:linear-gradient(#020202,#080808 90px,#121212 110px,#353535 140px,#383838 157px,#555555 173px,#555555 180px,#454545 188px,#1f1f1f 202px,#171717 214px,#101010 243px,#242424 273px,#2d2d2d 301px,#3e3e3e 315px,#434343 335px,#4a4a4a 347px,#292929 398px,#202020 450px)"></i>
<i style="left:891px;background:linear-gradient(#030303,#0b0b0b 84px,#1c1c1c 114px,#626262 169px,#626262 177px,#545454 185px,#272727 201px,#191919 212px,#070707 237px,#060606 243px,#1f1f1f 266px,#2e2e2e 302px,#404040 315px,#404040 335px,#464646 348px,#272727 404px,#202020 450px)"></i>
<i style="left:894px;background:linear-gradient(#010101,#090909 67px,#151515 112px,#313131 139px,#363636 151px,#656565 172px,#696969 179px,#5f5f5f 187px,#2b2b2b 209px,#151515 226px,#0a0a0a 241px,#212121 272px,#2c2c2c 301px,#404040 315px,#3c3c3c 334px,#434343 348px,#262626 407px,#202020 450px)"></i>
<i style="left:897px;background:linear-gradient(#040404,#0b0b0b 59px,#222222 109px,#4b4b4b 139px,#666666 162px,#747474 175px,#6f6f6f 183px,#585858 194px,#2e2e2e 211px,#1b1b1b 225px,#151515 242px,#292929 299px,#3c3c3c 312px,#404040 315px,#3c3c3c 335px,#414141 351px,#262626 407px,#202020 450px)"></i>
<i style="left:900px;background:linear-gradient(#030303,#050505 51px,#101010 94px,#343434 133px,#515151 158px,#5c5c5c 179px,#555555 189px,#252525 215px,#1a1a1a 230px,#1f1f1f 280px,#272727 299px,#3b3b3b 312px,#3f3f3f 315px,#3b3b3b 335px,#3d3d3d 360px,#272727 406px,#202020 450px)"></i>
<i style="left:903px;background:linear-gradient(#020202,#080808 52px,#0d0d0d 91px,#313131 162px,#414141 185px,#393939 196px,#1a1a1a 218px,#151515 233px,#1f1f1f 293px,#2f2f2f 307px,#3d3d3d 315px,#3b3b3b 336px,#373737 349px,#3e3e3e 358px,#262626 407px,#202020 450px)"></i>
<i style="left:906px;background:linear-gradient(#010101,#060606 84px,#191919 114px,#2d2d2d 147px,#3f3f3f 183px,#363636 194px,#121212 217px,#0c0c0c 231px,#171717 266px,#1a1a1a 291px,#292929 305px,#3b3b3b 315px,#383838 340px,#333333 349px,#3d3d3d 358px,#262626 407px,#202020 450px)"></i>
<i style="left:909px;background:linear-gradient(#010101,#060606 68px,#0f0f0f 108px,#2c2c2c 142px,#343434 158px,#464646 176px,#434343 185px,#282828 200px,#0e0e0e 215px,#050505 228px,#141414 263px,#151515 290px,#252525 304px,#383838 315px,#393939 339px,#333333 349px,#3c3c3c 358px,#262626 407px,#202020 450px)"></i>
<i style="left:912px;background:linear-gradient(#010101,#060606 58px,#111111 111px,#272727 130px,#525252 162px,#585858 175px,#4e4e4e 184px,#161616 208px,#070707 221px,#060606 235px,#121212 261px,#101010 289px,#202020 303px,#363636 315px,#393939 340px,#353535 349px,#3c3c3c 358px,#272727 406px,#202020 450px)"></i>
<i style="left:915px;background:linear-gradient(#020202,#090909 95px,#1a1a1a 117px,#2d2d2d 141px,#3a3a3a 150px,#5a5a5a 167px,#5f5f5f 176px,#555555 184px,#1b1b1b 207px,#090909 221px,#050505 233px,#111111 260px,#0c0c0c 289px,#1e1e1e 303px,#343434 315px,#3a3a3a 335px,#3c3c3c 360px,#272727 404px,#202020 450px)"></i>
<i style="left:918px;background:linear-gradient(#020202,#080808 89px,#1b1b1b 112px,#474747 150px,#616161 168px,#616161 177px,#525252 186px,#212121 206px,#0d0d0d 220px,#090909 234px,#111111 262px,#0b0b0b 289px,#232323 306px,#333333 315px,#383838 333px,#3e3e3e 345px,#3b3b3b 361px,#272727 403px,#202020 450px)"></i>
<i style="left:921px;background:linear-gradient(#010101,#080808 88px,#171717 112px,#292929 136px,#313131 145px,#575757 165px,#5c5c5c 174px,#525252 182px,#212121 204px,#101010 218px,#0e0e0e 235px,#111111 264px,#0c0c0c 288px,#1d1d1d 302px,#323232 315px,#363636 332px,#404040 345px,#3a3a3a 362px,#272727 402px,#202020 450px)"></i>
<i style="left:924px;background:linear-gradient(#010101,#060606 79px,#141414 108px,#383838 140px,#585858 161px,#5b5b5b 171px,#505050 179px,#1c1c1c 200px,#101010 214px,#0e0e0e 232px,#121212 263px,#101010 288px,#1f1f1f 303px,#323232 315px,#353535 331px,#404040 345px,#393939 362px,#272727 401px,#202020 450px)"></i>
<i style="left:927px;background:linear-gradient(#030303,#0b0b0b 71px,#1e1e1e 99px,#2f2f2f 121px,#333333 138px,#595959 159px,#5d5d5d 169px,#535353 178px,#212121 200px,#101010 215px,#0d0d0d 232px,#121212 267px,#131313 289px,#242424 305px,#323232 315px,#333333 330px,#404040 345px,#393939 362px,#282828 399px,#202020 450px)"></i>
<i style="left:930px;background:linear-gradient(#030303,#070707 55px,#181818 109px,#2d2d2d 126px,#565656 151px,#5c5c5c 163px,#535353 175px,#1b1b1b 205px,#0b0b0b 221px,#0c0c0c 239px,#171717 291px,#292929 308px,#323232 315px,#333333 330px,#3f3f3f 344px,#3a3a3a 359px,#292929 393px,#202020 450px)"></i>
<i style="left:933px;background:linear-gradient(#010101,#060606 64px,#111111 110px,#252525 133px,#404040 154px,#424242 168px,#363636 182px,#101010 210px,#060606 227px,#1a1a1a 293px,#2d2d2d 310px,#323232 315px,#333333 330px,#3f3f3f 345px,#383838 362px,#282828 396px,#202020 450px)"></i>
<i style="left:936px;background:linear-gradient(#020202,#080808 84px,#2a2a2a 141px,#343434 163px,#2d2d2d 180px,#090909 217px,#050505 234px,#1d1d1d 296px,#333333 315px,#333333 330px,#3f3f3f 345px,#383838 362px,#292929 394px,#202020 450px)"></i>
<i style="left:939px;background:linear-gradient(#010101,#070707 65px,#151515 100px,#2e2e2e 134px,#373737 171px,#2c2c2c 186px,#0c0c0c 213px,#040404 231px,#1e1e1e 296px,#343434 315px,#353535 331px,#3f3f3f 346px,#292929 393px,#202020 450px)"></i>
<i style="left:942px;background:linear-gradient(#010101,#050505 54px,#0e0e0e 102px,#353535 143px,#414141 169px,#3a3a3a 181px,#0f0f0f 211px,#040404 229px,#1a1a1a 290px,#2a2a2a 307px,#343434 315px,#363636 332px,#3f3f3f 346px,#292929 392px,#202020 450px)"></i>
<i style="left:945px;background:linear-gradient(#010101,#070707 91px,#131313 112px,#2a2a2a 139px,#333333 155px,#444444 172px,#404040 182px,#111111 211px,#060606 228px,#0e0e0e 260px,#1d1d1d 296px,#323232 312px,#353535 316px,#373737 333px,#3f3f3f 347px,#292929 391px,#202020 450px)"></i>
<i style="left:948px;background:linear-gradient(#010101,#070707 70px,#191919 108px,#2c2c2c 143px,#4c4c4c 166px,#4f4f4f 176px,#424242 186px,#161616 208px,#070707 223px,#060606 240px,#1a1a1a 293px,#2c2c2c 309px,#353535 315px,#383838 334px,#3f3f3f 347px,#292929 391px,#202020 450px)"></i>
<i style="left:951px;background:linear-gradient(#010101,#050505 57px,#0e0e0e 102px,#1e1e1e 121px,#565656 165px,#575757 176px,#484848 186px,#181818 207px,#080808 221px,#050505 236px,#181818 292px,#2a2a2a 308px,#353535 315px,#393939 335px,#3f3f3f 348px,#2a2a2a 390px,#202020 450px)"></i>
<i style="left:954px;background:linear-gradient(#010101,#070707 55px,#0f0f0f 92px,#292929 140px,#4f4f4f 166px,#525252 176px,#454545 186px,#181818 208px,#090909 223px,#070707 242px,#151515 291px,#262626 306px,#353535 315px,#393939 335px,#3f3f3f 348px,#2a2a2a 390px,#202020 450px)"></i>
<i style="left:957px;background:linear-gradient(#010101,#070707 73px,#0f0f0f 97px,#272727 139px,#303030 150px,#474747 168px,#474747 178px,#333333 191px,#141414 210px,#060606 228px,#070707 246px,#141414 292px,#262626 307px,#343434 315px,#3a3a3a 336px,#3f3f3f 348px,#2a2a2a 390px,#202020 450px)"></i>
<i style="left:960px;background:linear-gradient(#010101,#050505 89px,#1c1c1c 126px,#464646 164px,#464646 175px,#363636 186px,#181818 202px,#040404 230px,#040404 242px,#0c0c0c 271px,#101010 291px,#222222 305px,#343434 315px,#3a3a3a 336px,#3f3f3f 348px,#2a2a2a 390px,#202020 450px)"></i>
<i style="left:963px;background:linear-gradient(#020202,#090909 80px,#212121 124px,#444444 161px,#454545 175px,#353535 187px,#181818 205px,#080808 227px,#060606 244px,#0b0b0b 272px,#0d0d0d 290px,#1f1f1f 304px,#333333 315px,#3a3a3a 336px,#3f3f3f 348px,#2a2a2a 390px,#202020 450px)"></i>
<i style="left:966px;background:linear-gradient(#020202,#080808 83px,#2d2d2d 147px,#383838 164px,#383838 184px,#232323 202px,#101010 220px,#0b0b0b 242px,#0a0a0a 279px,#0c0c0c 291px,#222222 306px,#333333 315px,#3a3a3a 336px,#3f3f3f 348px,#2a2a2a 390px,#202020 450px)"></i>
<i style="left:969px;background:linear-gradient(#010101,#080808 90px,#1a1a1a 124px,#393939 153px,#393939 167px,#373737 189px,#161616 220px,#0a0a0a 286px,#151515 298px,#333333 315px,#393939 335px,#3f3f3f 348px,#2a2a2a 390px,#202020 450px)"></i>
<i style="left:972px;background:linear-gradient(#020202,#090909 49px,#0d0d0d 80px,#0f0f0f 105px,#232323 125px,#4f4f4f 154px,#565656 169px,#515151 181px,#202020 213px,#171717 230px,#0c0c0c 285px,#161616 298px,#343434 315px,#383838 335px,#3f3f3f 347px,#292929 391px,#202020 450px)"></i>
<i style="left:975px;background:linear-gradient(#030303,#0f0f0f 96px,#1b1b1b 121px,#323232 137px,#535353 156px,#5a5a5a 168px,#535353 179px,#232323 207px,#191919 222px,#131313 252px,#0d0d0d 281px,#161616 296px,#2e2e2e 311px,#353535 315px,#373737 334px,#3f3f3f 347px,#292929 391px,#202020 450px)"></i>
</div>
<svg width="1533" height="1253" viewBox="0 0 1533 1253"><defs><linearGradient id="cmap" x1="0" y1="1" x2="0" y2="0"><stop offset="0.0000" stop-color="#800080"/><stop offset="0.0250" stop-color="#701294"/><stop offset="0.0500" stop-color="#5c26a8"/><stop offset="0.0750" stop-color="#4a38bc"/><stop offset="0.1000" stop-color="#3f44c4"/><stop offset="0.1250" stop-color="#3050d0"/><stop offset="0.1500" stop-color="#2060e0"/><stop offset="0.1750" stop-color="#1070f0"/><stop offset="0.2000" stop-color="#087cfa"/><stop offset="0.2250" stop-color="#1a8cf8"/><stop offset="0.2500" stop-color="#2898f8"/><stop offset="0.2750" stop-color="#38aaf8"/><stop offset="0.3000" stop-color="#48bcfa"/><stop offset="0.3250" stop-color="#58d0fc"/><stop offset="0.3500" stop-color="#68e4fe"/><stop offset="0.3750" stop-color="#78f4ff"/><stop offset="0.3950" stop-color="#80ffff"/><stop offset="0.4550" stop-color="#80ffb0"/><stop offset="0.5000" stop-color="#80ff78"/><stop offset="0.5500" stop-color="#d0ff78"/><stop offset="0.6000" stop-color="#ffff78"/><stop offset="0.6500" stop-color="#ffd060"/><stop offset="0.7000" stop-color="#ffb040"/><stop offset="0.7500" stop-color="#ff9824"/><stop offset="0.8000" stop-color="#ff8000"/><stop offset="0.8325" stop-color="#e86800"/><stop offset="0.8750" stop-color="#cc5000"/><stop offset="0.9250" stop-color="#b03400"/><stop offset="0.9675" stop-color="#961400"/><stop offset="1.0000" stop-color="#800000"/></linearGradient></defs>
<path d="M259.2,350.2 261.3,347.7 264.4,344.2 267.9,340.6 271.7,337.2 276.0,333.9 280.2,330.9 284.2,328.5 288.3,326.4 292.5,324.8 297.1,323.5 302.0,322.5 306.6,322.1 310.7,322.3 314.7,323.1 318.8,323.9 323.4,324.9 328.1,326.1 332.9,326.5 337.6,325.9 342.4,324.7 346.9,323.0 351.1,320.8 355.2,318.3 359.2,316.0 363.4,314.0 367.5,312.4 371.5,311.6 375.1,312.1 378.6,313.6 382.0,315.1 385.4,316.8 388.8,318.5 392.6,319.5 397.2,318.9 402.2,317.5 406.6,316.9 409.9,317.5 412.5,318.9 415.4,321.3 418.7,324.9 422.2,329.4 425.9,334.4 429.9,340.2 434.2,346.5 438.2,352.0 441.8,356.1 445.2,359.4 448.8,362.5 452.7,365.5 456.8,368.3 460.5,371.3 463.6,374.7 466.3,378.2 469.3,381.8 472.5,385.5 476.0,389.3 479.8,392.4 484.2,394.7 489.1,396.3 493.9,397.6 498.4,398.5 503.0,398.9 507.9,399.0 513.5,398.6 519.5,397.9 525.5,396.7 531.2,395.0 536.9,393.0 543.0,390.6 549.6,387.9 556.5,384.8 564.1,381.8 572.5,378.8 581.4,375.8 590.4,373.0 599.2,370.5 608.0,368.1 616.8,366.0 625.9,364.0 635.0,362.1 643.1,360.8 648.8,360.1 653.5,359.8 660.7,359.9 672.7,360.4 687.1,361.1 700.0,361.6 709.0,361.6 716.5,361.3 725.1,361.1 736.4,361.1 748.8,361.1 760.2,360.8 769.6,360.2 778.1,359.3 786.6,358.1 795.2,356.3 803.9,354.1 812.9,352.0 823.2,349.9 833.8,347.9 842.7,346.7 848.4,346.8 852.4,347.7 856.8,349.3 862.2,351.7 867.9,354.6 874.3,357.2 881.6,359.1 889.5,360.5 897.2,361.6 904.3,362.1 911.2,362.2 918.2,362.5 925.9,363.3 933.8,364.3 940.0,365.1 942.9,365.2 944.2,365.2 947.6,366.0 955.0,368.4 964.4,371.7 973.9,374.8 982.7,377.3 991.4,379.5 1000.2,381.8 1009.1,384.1 1018.1,386.5 1026.6,388.8 1034.8,391.2 1042.6,393.5 1049.4,395.9 1055.0,398.2 1059.6,400.4 1063.4,402.9 1066.2,405.8 1068.2,408.8 1070.4,411.7 1072.9,414.3 1075.5,416.7 1079.2,418.7 1085.1,420.3 1091.9,421.4 1096.8,422.2" fill="none" stroke="#000" stroke-width="7" stroke-linecap="round" stroke-linejoin="round"/>
<path d="M254.8,970.2 258.1,967.7 262.8,964.1 267.9,960.6 272.9,957.5 278.2,954.5 283.7,951.8 289.6,949.4 295.6,947.4 301.3,946.0 306.1,945.3 310.5,945.3 315.3,945.6 321.0,946.6 327.2,948.1 332.9,948.8 337.8,948.3 342.4,947.0 346.9,945.3 351.7,942.9 356.6,940.0 361.0,937.7 364.6,936.2 367.9,935.3 371.5,935.1 376.1,936.1 381.0,937.9 385.6,939.5 389.3,940.5 392.6,941.4 396.1,941.8 400.1,941.4 404.4,940.6 408.4,940.7 412.0,942.1 415.3,944.3 418.9,947.4 422.9,951.6 427.0,956.6 431.2,961.4 435.5,965.9 439.8,970.2 443.5,973.7 445.9,975.9 447.8,977.4 450.0,979.0 453.2,981.1 456.9,983.5 460.5,986.0 464.1,988.5 467.6,991.3 471.0,994.8 473.9,999.8 476.5,1005.6 479.8,1010.6 484.0,1014.3 488.8,1017.3 493.9,1019.4 499.3,1020.6 505.2,1020.9 511.4,1020.8 518.1,1020.3 525.2,1019.4 532.5,1017.6 539.8,1014.5 547.4,1010.7 555.3,1007.1 563.8,1004.3 572.8,1001.7 581.7,999.2 590.5,996.5 599.2,993.8 608.0,991.3 617.1,989.0 626.2,986.8 634.3,985.1 640.5,983.8 645.7,982.9 651.9,982.5 660.2,982.7 669.4,983.4 678.2,983.9 685.7,984.1 692.7,984.2 700.0,984.3 707.8,984.3 715.9,984.3 725.1,984.3 736.4,984.3 748.8,984.2 760.2,983.9 769.6,983.2 778.1,982.3 786.6,981.1 795.2,979.5 803.9,977.5 812.9,975.5 823.2,973.1 833.8,970.7 842.7,969.3 848.4,969.4 852.4,970.5 856.8,972.0 862.2,974.1 868.1,976.6 874.3,979.0 881.0,981.1 888.1,983.1 895.4,984.6 902.9,985.3 910.6,985.6 918.2,986.0 926.1,986.9 933.8,988.0 940.0,988.7 942.9,988.6 944.2,988.3 947.6,988.7 955.0,990.5 964.4,993.0 973.9,995.7 983.1,998.4 992.2,1001.3 1000.2,1003.6 1006.8,1005.2 1012.3,1006.4 1016.0,1007.1" fill="none" stroke="#000" stroke-width="7" stroke-linecap="round" stroke-linejoin="round"/>
<path d="M423.0,221.3 424.0,219.2 425.5,216.6 427.0,216.0 428.3,219.8 429.5,225.7 430.9,229.1 432.4,227.5 434.1,223.5 436.1,220.0 438.6,218.0 441.4,216.6 443.9,216.1 445.9,216.2 447.6,217.2 449.1,220.0 450.5,227.2 451.7,236.2 453.0,239.6 454.3,231.3 455.6,217.6 457.0,209.6 458.6,214.8 460.4,225.9 462.2,231.7 463.9,226.1 465.7,215.3 467.4,207.0 469.1,203.9 470.9,203.2 472.6,204.4 474.3,208.7 476.1,214.9 477.8,218.7 479.5,217.1 481.1,213.0 483.1,210.9 485.4,213.5 488.0,218.1 490.9,221.3 494.2,221.3 497.7,220.0 501.3,218.7 504.9,218.0 508.6,217.5 511.8,217.4 514.3,218.7 516.3,220.3 518.3,220.0 520.5,215.7 522.7,209.3 524.8,204.4 526.6,202.1 528.3,201.2 530.0,201.7 531.7,204.3 533.5,208.2 535.2,210.9 536.9,210.9 538.6,209.7 540.5,209.6 542.6,211.9 544.8,215.2 547.0,217.4 549.1,217.4 551.2,216.2 553.5,214.8 556.0,213.0 558.5,210.9 561.3,209.6 564.4,209.4 567.6,209.8 570.5,210.9 572.9,213.3 574.9,216.2 577.0,217.4 579.1,215.3 581.1,211.4 583.5,208.3 586.4,206.7 589.6,205.9 592.6,205.7 595.2,206.2 597.7,207.3 600.0,208.7 602.2,210.7 604.4,212.9 606.5,213.9 608.7,212.4 610.8,209.7 613.0,208.7 615.2,211.6 617.4,216.3 619.6,219.1 621.8,218.2 623.9,215.5 626.1,212.6 628.3,209.5 630.4,206.3 632.6,204.8 634.7,206.3 636.7,209.6 639.1,212.6 642.0,215.0 645.2,217.1 648.3,217.8 651.1,215.7 653.6,212.2 656.1,210.0 658.4,210.4 660.6,212.1 662.6,213.9 664.6,215.7 666.5,217.7 667.8,219.1" fill="none" stroke="#000" stroke-width="7" stroke-linecap="round" stroke-linejoin="round"/>
<path d="M678.3,202.2 679.0,204.5 679.9,207.9 681.0,212.0 682.2,218.1 683.5,224.9 684.8,228.3 685.9,225.6 686.9,219.4 688.0,214.0 689.0,210.4 690.1,207.5 691.3,206.1 693.1,207.3 695.1,210.0 696.5,212.0" fill="none" stroke="#000" stroke-width="7" stroke-linecap="round" stroke-linejoin="round"/>
<path d="M710.9,220.4 712.6,220.9 715.0,221.6 717.4,221.7 719.6,220.9 721.7,219.6 723.9,217.8 726.0,215.2 728.0,212.1 730.5,210.0 733.7,209.7 737.4,210.3 740.9,211.3 743.9,212.4 746.7,213.8 750.0,215.2 754.1,216.6 758.6,218.0 763.1,219.1 767.4,219.8 771.7,220.3 776.1,220.4 780.7,220.1 785.4,219.4 790.0,219.1 794.4,219.3 798.7,219.8 803.0,220.4 807.4,221.5 811.7,222.7 816.1,223.0 820.3,221.7 824.5,219.5 829.1,217.8 834.8,216.9 840.9,216.4 846.1,216.5 849.6,217.6 852.2,219.2 855.2,220.4 859.4,220.5 864.0,220.2 868.3,220.4 872.0,222.3 875.3,224.8 878.7,225.7 882.1,223.4 885.6,219.4 889.2,216.5 892.8,215.5 896.6,215.6 900.9,216.5 906.3,219.0 912.3,222.5 917.9,224.4 922.6,223.7 926.9,221.4 930.9,219.1 934.6,216.2 937.9,213.1 941.3,212.6 944.8,217.5 948.3,225.1 951.8,229.6 955.2,228.0 958.5,223.3 962.2,219.1 966.7,215.9 971.5,213.1 975.3,212.6 977.3,217.2 978.2,224.1 979.2,226.0 980.7,217.2 982.4,203.5 983.9,194.8 985.2,196.1 986.4,202.5 987.8,209.1 989.2,215.1 990.8,221.2 993.0,224.8 996.1,224.3 999.8,221.4 1003.5,218.3 1007.0,215.3 1010.5,212.2 1013.9,210.4 1017.1,210.8 1020.1,212.4 1023.1,214.4 1026.1,216.4 1029.2,218.6 1032.2,220.9 1035.3,223.7 1038.4,226.6 1041.3,227.4 1043.9,224.4 1046.4,219.3 1049.1,215.7 1052.0,215.2 1055.1,216.1 1058.3,217.0 1061.6,217.3 1065.1,217.6 1068.7,218.3 1072.5,220.1 1076.4,222.3 1080.5,223.5 1084.8,222.8 1089.2,221.1 1093.5,219.6 1097.5,218.4 1101.3,217.4 1105.2,217.0 1109.2,217.4 1113.2,218.3 1117.0,219.6 1120.6,221.5 1124.1,223.6 1127.4,224.8 1130.5,224.2 1133.5,222.5 1136.6,220.9 1140.1,219.7 1143.8,218.5 1147.0,217.0 1149.5,215.6 1151.6,214.0 1153.5,210.4 1155.4,202.5 1157.1,192.7 1158.7,186.9 1160.1,188.5 1161.3,193.9 1162.6,198.7 1163.9,200.9 1165.3,202.4 1166.6,203.9 1168.1,205.8 1169.5,207.8 1170.5,209.1" fill="none" stroke="#000" stroke-width="7" stroke-linecap="round" stroke-linejoin="round"/>
<path d="M212.8,824.1 213.8,825.6 215.2,827.5 216.7,827.4 218.0,823.2 219.4,817.1 220.7,813.0 221.9,812.4 223.1,813.8 224.6,817.0 226.8,823.1 229.3,830.9 231.1,836.5" fill="none" stroke="#000" stroke-width="7" stroke-linecap="round" stroke-linejoin="round"/>
<path d="M268.9,863.9 269.5,857.1 270.3,847.9 271.5,841.7 273.1,842.2 275.0,845.7 276.8,847.0 278.2,842.5 279.4,835.8 280.7,832.0 282.3,833.6 284.1,838.1 285.9,843.0 287.8,848.1 289.8,853.5 291.1,857.4" fill="none" stroke="#000" stroke-width="7" stroke-linecap="round" stroke-linejoin="round"/>
<path d="M352.4,830.0 353.8,833.3 355.8,837.8 357.6,840.4 359.0,839.0 360.3,835.7 361.6,833.9 362.9,835.8 364.1,839.2 365.5,840.4 367.3,837.0 369.3,831.5 370.7,827.4" fill="none" stroke="#000" stroke-width="7" stroke-linecap="round" stroke-linejoin="round"/>
<path d="M398.9,853.5 399.9,849.8 401.3,844.7 402.8,841.7 404.4,842.9 406.1,846.2 408.0,848.3 410.1,848.0 412.4,846.5 414.6,844.4 416.6,840.9 418.6,836.9 421.1,835.2 424.4,838.2 428.1,843.6 431.5,847.0 434.3,846.4 436.9,843.8 439.4,841.7 442.1,840.5 444.8,839.7 447.2,840.4 449.0,843.9 450.6,848.9 452.4,852.2 454.8,852.6 457.5,851.2 460.2,848.3 462.9,842.6 465.7,835.3 468.1,830.0 470.0,828.3 471.7,828.6 473.3,830.0 474.9,833.1 476.6,837.4 478.5,840.4 481.0,840.6 483.8,839.5 486.3,839.1 488.1,840.7 489.7,843.0 491.5,844.4 493.9,844.0 496.7,842.8 499.4,841.7 502.1,841.3 504.8,841.0 507.2,840.4 509.0,838.9 510.6,837.1 512.4,836.5 514.9,838.6 517.7,841.8 520.2,843.1 522.2,840.7 523.9,836.4 525.5,832.6 526.7,829.7 527.8,827.2 529.4,826.1 532.1,827.3 535.4,830.0 538.5,832.6 541.1,835.0 543.6,837.4 546.3,839.1 549.4,839.8 552.6,839.8 555.5,839.1 557.8,837.1 559.8,834.4 562.0,832.6 564.5,832.3 567.2,832.8 569.8,833.9 572.4,836.3 575.0,839.2 577.6,840.4 580.4,838.3 583.1,834.4 585.5,831.3 587.1,829.9 588.4,829.3 590.0,829.1 592.5,829.1 595.3,829.4 597.8,830.4 599.5,832.6 601.0,835.4 603.0,837.0 606.3,836.0 610.1,833.9 613.5,833.1 616.0,835.4 618.0,838.9 620.0,840.9 622.2,839.7 624.3,837.0 626.5,834.4 628.6,832.0 630.7,829.7 633.1,829.1 636.0,831.3 639.3,835.2 642.2,838.3 644.5,840.1 646.4,841.1 648.7,840.9 651.6,838.4 654.8,834.6 657.8,832.4 660.5,833.6 663.1,836.3 665.7,838.3 668.5,839.1 671.3,839.2 673.5,837.0 674.7,830.3 675.2,821.5 676.1,816.1 677.7,817.0 679.6,821.3 681.3,826.5 682.6,833.2 683.8,840.7 685.2,844.8 686.8,842.2 688.6,836.2 690.5,831.7 692.6,829.8 694.9,829.6 697.0,833.1 698.8,844.6 700.5,859.9 702.2,868.3 703.9,863.3 705.7,851.5 707.4,842.2 709.0,839.0 710.7,838.2 712.6,838.3 715.0,839.4 717.8,841.3 720.5,842.2 723.2,841.1 725.9,839.1 728.3,837.0 730.1,834.9 731.7,832.9 733.5,831.7 736.0,832.0 738.8,833.1 741.3,834.4 743.2,835.7 744.7,837.1 746.6,838.3 749.0,839.3 751.7,840.1 754.4,840.9 757.0,842.0 759.6,843.1 762.2,843.5 764.7,842.4 767.2,840.6 770.0,839.6 773.2,840.3 776.6,841.8 780.0,842.6 783.5,841.9 787.1,840.6 790.4,840.0 793.1,841.1 795.6,842.9 798.3,843.9 801.7,842.8 805.3,840.9 808.7,840.0 811.4,841.4 813.8,843.9 816.5,845.2 819.8,844.0 823.4,841.6 827.0,840.0 830.6,840.1 834.1,840.9 837.4,841.3 840.2,840.7 842.7,839.8 845.2,839.4 847.7,840.3 850.3,841.7 853.1,842.6 856.5,842.4 860.1,841.7 863.5,841.3 866.3,841.4 868.8,841.8 871.3,842.6 873.9,844.5 876.6,846.9 879.2,847.8 881.8,845.9 884.4,842.6 887.0,840.0 889.5,839.0 892.0,838.7 894.8,838.7 898.0,838.7 901.5,839.0 905.2,840.0 909.2,842.7 913.4,846.1 917.0,847.8 919.4,846.1 921.2,842.7 923.5,840.0 926.8,839.2 930.6,839.2 934.0,838.7 936.7,836.4 939.1,833.7 941.8,833.5 945.1,838.5 948.6,846.0 952.2,850.5 955.7,849.1 959.1,844.8 962.6,841.3 966.3,840.0 970.1,839.5 973.1,838.7 974.8,837.8 975.7,836.7 976.8,833.4 978.5,825.3 980.4,815.0 982.3,808.8 984.2,809.7 986.1,814.6 987.8,821.1 989.1,829.9 990.3,840.3 991.9,847.1 994.2,847.7 997.0,844.8 1000.1,841.6 1003.7,838.6 1007.5,835.3 1011.1,833.4 1014.0,833.8 1016.7,835.6 1019.3,837.5 1021.9,839.3 1024.6,841.3 1027.5,843.0 1031.4,844.2 1035.5,845.2 1038.5,845.8" fill="none" stroke="#000" stroke-width="7" stroke-linecap="round" stroke-linejoin="round"/>
<path d="M1050.8,840.3 1053.4,838.4 1057.1,835.9 1060.4,834.8 1062.3,836.3 1063.8,839.2 1065.9,841.6 1069.2,843.1 1073.1,844.1 1076.8,844.4 1080.1,843.2 1083.2,841.3 1086.4,840.3 1089.7,841.5 1092.9,843.5 1096.0,844.4 1098.8,842.5 1101.5,839.3 1104.2,837.5 1107.0,838.7 1109.7,841.2 1112.5,843.0 1115.2,842.8 1118.0,841.8 1120.7,841.6 1123.3,843.3 1125.9,845.7 1128.9,847.1 1132.8,846.6 1137.2,845.0 1141.2,843.0 1144.3,841.1 1146.9,838.7 1149.5,834.8 1152.3,827.4 1155.2,818.5 1157.7,812.9 1159.8,813.5 1161.6,817.4 1163.2,821.1 1164.6,823.7 1165.9,826.1 1167.3,827.9 1169.2,828.8 1171.3,829.1 1172.7,829.3" fill="none" stroke="#000" stroke-width="7" stroke-linecap="round" stroke-linejoin="round"/>
<path d="M213,212.9 225,212.0 237,212.1 249,212.3 261,212.2 273,211.9 285,211.6 297,211.8 309,212.9 321,214.0 333,213.4 345,212.4 357,212.2 369,212.0 381,211.9 393,212.3 405,212.7 417,212.8 429,212.9 441,212.7 453,212.9 465,213.4 477,213.1 489,212.5 501,212.5 513,213.2 525,213.5 537,212.9 549,212.7 561,212.8 573,212.4 585,212.5 597,213.1 609,213.1 621,212.9 633,212.3 645,211.7 657,212.2 669,212.0 681,211.7 693,212.5 705,212.9 717,212.3 729,212.0 741,212.4 753,212.9 765,213.4 777,213.3 789,213.1 801,213.1 813,212.5 825,212.3 837,212.8 849,212.9 861,212.5 873,212.3 885,212.0 897,211.7 909,212.5 921,212.6 933,212.0 945,212.0 957,212.4 969,212.3 981,211.6 993,211.9 1005,213.0 1017,212.8 1029,211.8 1041,212.0 1053,212.5 1065,212.8 1077,212.9 1089,212.5 1101,212.3 1113,212.5 1125,213.0 1137,212.8 1149,212.0 1161,211.7" fill="none" stroke="#fff" stroke-width="2.2"/>
<path d="M213,834.5 225,834.4 237,834.9 249,835.6 261,835.8 273,835.4 285,834.8 297,834.9 309,835.7 321,836.2 333,835.4 345,834.5 357,834.9 369,835.8 381,835.3 393,834.4 405,834.5 417,834.5 429,834.5 441,834.7 453,834.9 465,835.3 477,835.2 489,835.0 501,835.4 513,835.3 525,834.6 537,834.5 549,834.7 561,834.6 573,834.6 585,834.9 597,835.1 609,834.8 621,834.6 633,834.5 645,834.3 657,834.4 669,834.7 681,835.0 693,835.6 705,835.3 717,834.5 729,834.6 741,834.8 753,835.0 765,834.8 777,834.3 789,834.6 801,835.2 813,835.3 825,835.1 837,835.0 849,834.8 861,834.6 873,835.1 885,835.8 897,836.3 909,836.6 921,836.2 933,835.9 945,835.6 957,835.1 969,835.3 981,835.7 993,835.4 1005,835.2 1017,835.4 1029,835.4 1041,835.1 1053,835.1 1065,835.3 1077,835.1 1089,835.0 1101,835.1 1113,834.5 1125,834.1 1137,834.6 1149,835.3 1161,835.3" fill="none" stroke="#fff" stroke-width="2.2"/>
<line x1="226.3" y1="495.5" x2="226.3" y2="508.0" stroke="#262626" stroke-width="2"/>
<line x1="226.3" y1="48.4" x2="226.3" y2="35.9" stroke="#262626" stroke-width="2"/>
<text x="226.1" y="557.0" font-family="Liberation Sans, Arial, sans-serif" font-size="38.2" fill="#262626" text-anchor="middle">Mar</text>
<line x1="404.4" y1="495.5" x2="404.4" y2="508.0" stroke="#262626" stroke-width="2"/>
<line x1="404.4" y1="48.4" x2="404.4" y2="35.9" stroke="#262626" stroke-width="2"/>
<text x="404.2" y="557.0" font-family="Liberation Sans, Arial, sans-serif" font-size="38.2" fill="#262626" text-anchor="middle">Apr</text>
<line x1="576.8" y1="495.5" x2="576.8" y2="508.0" stroke="#262626" stroke-width="2"/>
<line x1="576.8" y1="48.4" x2="576.8" y2="35.9" stroke="#262626" stroke-width="2"/>
<text x="576.6" y="557.0" font-family="Liberation Sans, Arial, sans-serif" font-size="38.2" fill="#262626" text-anchor="middle">May</text>
<line x1="754.9" y1="495.5" x2="754.9" y2="508.0" stroke="#262626" stroke-width="2"/>
<line x1="754.9" y1="48.4" x2="754.9" y2="35.9" stroke="#262626" stroke-width="2"/>
<text x="754.7" y="557.0" font-family="Liberation Sans, Arial, sans-serif" font-size="38.2" fill="#262626" text-anchor="middle">Jun</text>
<line x1="927.3" y1="495.5" x2="927.3" y2="508.0" stroke="#262626" stroke-width="2"/>
<line x1="927.3" y1="48.4" x2="927.3" y2="35.9" stroke="#262626" stroke-width="2"/>
<text x="927.1" y="557.0" font-family="Liberation Sans, Arial, sans-serif" font-size="38.2" fill="#262626" text-anchor="middle">Jul</text>
<line x1="1105.4" y1="495.5" x2="1105.4" y2="508.0" stroke="#262626" stroke-width="2"/>
<line x1="1105.4" y1="48.4" x2="1105.4" y2="35.9" stroke="#262626" stroke-width="2"/>
<text x="1105.2" y="557.0" font-family="Liberation Sans, Arial, sans-serif" font-size="38.2" fill="#262626" text-anchor="middle">Aug</text>
<line x1="1283.5" y1="495.5" x2="1283.5" y2="508.0" stroke="#262626" stroke-width="2"/>
<line x1="1283.5" y1="48.4" x2="1283.5" y2="35.9" stroke="#262626" stroke-width="2"/>
<text x="1283.3" y="557.0" font-family="Liberation Sans, Arial, sans-serif" font-size="38.2" fill="#262626" text-anchor="middle">Sep</text>
<line x1="134.0" y1="48.4" x2="146.5" y2="48.4" stroke="#262626" stroke-width="2"/>
<line x1="1283.5" y1="48.4" x2="1296.0" y2="48.4" stroke="#262626" stroke-width="2"/>
<line x1="134.0" y1="220.4" x2="146.5" y2="220.4" stroke="#262626" stroke-width="2"/>
<line x1="1283.5" y1="220.4" x2="1296.0" y2="220.4" stroke="#262626" stroke-width="2"/>
<line x1="134.0" y1="392.4" x2="146.5" y2="392.4" stroke="#262626" stroke-width="2"/>
<line x1="1283.5" y1="392.4" x2="1296.0" y2="392.4" stroke="#262626" stroke-width="2"/>
<line x1="140.0" y1="100.2" x2="146.5" y2="100.2" stroke="#262626" stroke-width="2"/>
<line x1="1283.5" y1="100.2" x2="1290.0" y2="100.2" stroke="#262626" stroke-width="2"/>
<line x1="140.0" y1="130.5" x2="146.5" y2="130.5" stroke="#262626" stroke-width="2"/>
<line x1="1283.5" y1="130.5" x2="1290.0" y2="130.5" stroke="#262626" stroke-width="2"/>
<line x1="140.0" y1="152.0" x2="146.5" y2="152.0" stroke="#262626" stroke-width="2"/>
<line x1="1283.5" y1="152.0" x2="1290.0" y2="152.0" stroke="#262626" stroke-width="2"/>
<line x1="140.0" y1="168.6" x2="146.5" y2="168.6" stroke="#262626" stroke-width="2"/>
<line x1="1283.5" y1="168.6" x2="1290.0" y2="168.6" stroke="#262626" stroke-width="2"/>
<line x1="140.0" y1="182.2" x2="146.5" y2="182.2" stroke="#262626" stroke-width="2"/>
<line x1="1283.5" y1="182.2" x2="1290.0" y2="182.2" stroke="#262626" stroke-width="2"/>
<line x1="140.0" y1="193.8" x2="146.5" y2="193.8" stroke="#262626" stroke-width="2"/>
<line x1="1283.5" y1="193.8" x2="1290.0" y2="193.8" stroke="#262626" stroke-width="2"/>
<line x1="140.0" y1="203.7" x2="146.5" y2="203.7" stroke="#262626" stroke-width="2"/>
<line x1="1283.5" y1="203.7" x2="1290.0" y2="203.7" stroke="#262626" stroke-width="2"/>
<line x1="140.0" y1="212.5" x2="146.5" y2="212.5" stroke="#262626" stroke-width="2"/>
<line x1="1283.5" y1="212.5" x2="1290.0" y2="212.5" stroke="#262626" stroke-width="2"/>
<line x1="140.0" y1="272.2" x2="146.5" y2="272.2" stroke="#262626" stroke-width="2"/>
<line x1="1283.5" y1="272.2" x2="1290.0" y2="272.2" stroke="#262626" stroke-width="2"/>
<line x1="140.0" y1="302.5" x2="146.5" y2="302.5" stroke="#262626" stroke-width="2"/>
<line x1="1283.5" y1="302.5" x2="1290.0" y2="302.5" stroke="#262626" stroke-width="2"/>
<line x1="140.0" y1="324.0" x2="146.5" y2="324.0" stroke="#262626" stroke-width="2"/>
<line x1="1283.5" y1="324.0" x2="1290.0" y2="324.0" stroke="#262626" stroke-width="2"/>
<line x1="140.0" y1="340.6" x2="146.5" y2="340.6" stroke="#262626" stroke-width="2"/>
<line x1="1283.5" y1="340.6" x2="1290.0" y2="340.6" stroke="#262626" stroke-width="2"/>
<line x1="140.0" y1="354.2" x2="146.5" y2="354.2" stroke="#262626" stroke-width="2"/>
<line x1="1283.5" y1="354.2" x2="1290.0" y2="354.2" stroke="#262626" stroke-width="2"/>
<line x1="140.0" y1="365.8" x2="146.5" y2="365.8" stroke="#262626" stroke-width="2"/>
<line x1="1283.5" y1="365.8" x2="1290.0" y2="365.8" stroke="#262626" stroke-width="2"/>
<line x1="140.0" y1="375.7" x2="146.5" y2="375.7" stroke="#262626" stroke-width="2"/>
<line x1="1283.5" y1="375.7" x2="1290.0" y2="375.7" stroke="#262626" stroke-width="2"/>
<line x1="140.0" y1="384.5" x2="146.5" y2="384.5" stroke="#262626" stroke-width="2"/>
<line x1="1283.5" y1="384.5" x2="1290.0" y2="384.5" stroke="#262626" stroke-width="2"/>
<line x1="140.0" y1="444.2" x2="146.5" y2="444.2" stroke="#262626" stroke-width="2"/>
<line x1="1283.5" y1="444.2" x2="1290.0" y2="444.2" stroke="#262626" stroke-width="2"/>
<line x1="140.0" y1="474.5" x2="146.5" y2="474.5" stroke="#262626" stroke-width="2"/>
<line x1="1283.5" y1="474.5" x2="1290.0" y2="474.5" stroke="#262626" stroke-width="2"/>
<line x1="140.0" y1="495.5" x2="146.5" y2="495.5" stroke="#262626" stroke-width="2"/>
<line x1="1283.5" y1="495.5" x2="1290.0" y2="495.5" stroke="#262626" stroke-width="2"/>
<text x="54.5" y="67.9" font-family="Liberation Sans, Arial, sans-serif" font-size="37.5" fill="#262626">10</text>
<text x="95.5" y="48.4" font-family="Liberation Sans, Arial, sans-serif" font-size="30" fill="#262626">-1</text>
<text x="64.0" y="239.9" font-family="Liberation Sans, Arial, sans-serif" font-size="37.5" fill="#262626">10</text>
<text x="105.8" y="220.9" font-family="Liberation Sans, Arial, sans-serif" font-size="30" fill="#262626">0</text>
<text x="64.0" y="411.9" font-family="Liberation Sans, Arial, sans-serif" font-size="37.5" fill="#262626">10</text>
<text x="105.8" y="392.9" font-family="Liberation Sans, Arial, sans-serif" font-size="30" fill="#262626">1</text>
<text transform="translate(36,271.9) rotate(-90)" font-family="Liberation Sans, Arial, sans-serif" font-size="41.3" fill="#262626" text-anchor="middle">Period [d]</text>
<rect x="1351.1" y="46.4" width="66.5" height="448.9" fill="url(#cmap)" stroke="#262626" stroke-width="2"/>
<text x="1432.9" y="508.3" font-family="Liberation Sans, Arial, sans-serif" font-size="34" fill="#262626">0</text>
<line x1="1412.1" y1="383.1" x2="1417.6" y2="383.1" stroke="#262626" stroke-width="2"/>
<text x="1432.9" y="396.1" font-family="Liberation Sans, Arial, sans-serif" font-size="34" fill="#262626">10</text>
<line x1="1412.1" y1="270.9" x2="1417.6" y2="270.9" stroke="#262626" stroke-width="2"/>
<text x="1432.9" y="283.9" font-family="Liberation Sans, Arial, sans-serif" font-size="34" fill="#262626">20</text>
<line x1="1412.1" y1="158.6" x2="1417.6" y2="158.6" stroke="#262626" stroke-width="2"/>
<text x="1432.9" y="171.6" font-family="Liberation Sans, Arial, sans-serif" font-size="34" fill="#262626">30</text>
<text x="1432.9" y="59.4" font-family="Liberation Sans, Arial, sans-serif" font-size="34" fill="#262626">40</text>
<text transform="translate(1516.6,272.2) rotate(-90)" font-family="Liberation Sans, Arial, sans-serif" font-size="33.9" fill="#262626" text-anchor="middle">Amplitude [km]</text>
<line x1="226.3" y1="1118.2" x2="226.3" y2="1130.7" stroke="#262626" stroke-width="2"/>
<line x1="226.3" y1="671.1" x2="226.3" y2="658.6" stroke="#262626" stroke-width="2"/>
<text x="226.1" y="1179.7" font-family="Liberation Sans, Arial, sans-serif" font-size="38.2" fill="#262626" text-anchor="middle">Mar</text>
<line x1="404.4" y1="1118.2" x2="404.4" y2="1130.7" stroke="#262626" stroke-width="2"/>
<line x1="404.4" y1="671.1" x2="404.4" y2="658.6" stroke="#262626" stroke-width="2"/>
<text x="404.2" y="1179.7" font-family="Liberation Sans, Arial, sans-serif" font-size="38.2" fill="#262626" text-anchor="middle">Apr</text>
<line x1="576.8" y1="1118.2" x2="576.8" y2="1130.7" stroke="#262626" stroke-width="2"/>
<line x1="576.8" y1="671.1" x2="576.8" y2="658.6" stroke="#262626" stroke-width="2"/>
<text x="576.6" y="1179.7" font-family="Liberation Sans, Arial, sans-serif" font-size="38.2" fill="#262626" text-anchor="middle">May</text>
<line x1="754.9" y1="1118.2" x2="754.9" y2="1130.7" stroke="#262626" stroke-width="2"/>
<line x1="754.9" y1="671.1" x2="754.9" y2="658.6" stroke="#262626" stroke-width="2"/>
<text x="754.7" y="1179.7" font-family="Liberation Sans, Arial, sans-serif" font-size="38.2" fill="#262626" text-anchor="middle">Jun</text>
<line x1="927.3" y1="1118.2" x2="927.3" y2="1130.7" stroke="#262626" stroke-width="2"/>
<line x1="927.3" y1="671.1" x2="927.3" y2="658.6" stroke="#262626" stroke-width="2"/>
<text x="927.1" y="1179.7" font-family="Liberation Sans, Arial, sans-serif" font-size="38.2" fill="#262626" text-anchor="middle">Jul</text>
<line x1="1105.4" y1="1118.2" x2="1105.4" y2="1130.7" stroke="#262626" stroke-width="2"/>
<line x1="1105.4" y1="671.1" x2="1105.4" y2="658.6" stroke="#262626" stroke-width="2"/>
<text x="1105.2" y="1179.7" font-family="Liberation Sans, Arial, sans-serif" font-size="38.2" fill="#262626" text-anchor="middle">Aug</text>
<line x1="1283.5" y1="1118.2" x2="1283.5" y2="1130.7" stroke="#262626" stroke-width="2"/>
<line x1="1283.5" y1="671.1" x2="1283.5" y2="658.6" stroke="#262626" stroke-width="2"/>
<text x="1283.3" y="1179.7" font-family="Liberation Sans, Arial, sans-serif" font-size="38.2" fill="#262626" text-anchor="middle">Sep</text>
<line x1="134.0" y1="671.1" x2="146.5" y2="671.1" stroke="#262626" stroke-width="2"/>
<line x1="1283.5" y1="671.1" x2="1296.0" y2="671.1" stroke="#262626" stroke-width="2"/>
<line x1="134.0" y1="843.1" x2="146.5" y2="843.1" stroke="#262626" stroke-width="2"/>
<line x1="1283.5" y1="843.1" x2="1296.0" y2="843.1" stroke="#262626" stroke-width="2"/>
<line x1="134.0" y1="1015.1" x2="146.5" y2="1015.1" stroke="#262626" stroke-width="2"/>
<line x1="1283.5" y1="1015.1" x2="1296.0" y2="1015.1" stroke="#262626" stroke-width="2"/>
<line x1="140.0" y1="722.9" x2="146.5" y2="722.9" stroke="#262626" stroke-width="2"/>
<line x1="1283.5" y1="722.9" x2="1290.0" y2="722.9" stroke="#262626" stroke-width="2"/>
<line x1="140.0" y1="753.2" x2="146.5" y2="753.2" stroke="#262626" stroke-width="2"/>
<line x1="1283.5" y1="753.2" x2="1290.0" y2="753.2" stroke="#262626" stroke-width="2"/>
<line x1="140.0" y1="774.7" x2="146.5" y2="774.7" stroke="#262626" stroke-width="2"/>
<line x1="1283.5" y1="774.7" x2="1290.0" y2="774.7" stroke="#262626" stroke-width="2"/>
<line x1="140.0" y1="791.3" x2="146.5" y2="791.3" stroke="#262626" stroke-width="2"/>
<line x1="1283.5" y1="791.3" x2="1290.0" y2="791.3" stroke="#262626" stroke-width="2"/>
<line x1="140.0" y1="804.9" x2="146.5" y2="804.9" stroke="#262626" stroke-width="2"/>
<line x1="1283.5" y1="804.9" x2="1290.0" y2="804.9" stroke="#262626" stroke-width="2"/>
<line x1="140.0" y1="816.5" x2="146.5" y2="816.5" stroke="#262626" stroke-width="2"/>
<line x1="1283.5" y1="816.5" x2="1290.0" y2="816.5" stroke="#262626" stroke-width="2"/>
<line x1="140.0" y1="826.4" x2="146.5" y2="826.4" stroke="#262626" stroke-width="2"/>
<line x1="1283.5" y1="826.4" x2="1290.0" y2="826.4" stroke="#262626" stroke-width="2"/>
<line x1="140.0" y1="835.2" x2="146.5" y2="835.2" stroke="#262626" stroke-width="2"/>
<line x1="1283.5" y1="835.2" x2="1290.0" y2="835.2" stroke="#262626" stroke-width="2"/>
<line x1="140.0" y1="894.9" x2="146.5" y2="894.9" stroke="#262626" stroke-width="2"/>
<line x1="1283.5" y1="894.9" x2="1290.0" y2="894.9" stroke="#262626" stroke-width="2"/>
<line x1="140.0" y1="925.2" x2="146.5" y2="925.2" stroke="#262626" stroke-width="2"/>
<line x1="1283.5" y1="925.2" x2="1290.0" y2="925.2" stroke="#262626" stroke-width="2"/>
<line x1="140.0" y1="946.7" x2="146.5" y2="946.7" stroke="#262626" stroke-width="2"/>
<line x1="1283.5" y1="946.7" x2="1290.0" y2="946.7" stroke="#262626" stroke-width="2"/>
<line x1="140.0" y1="963.3" x2="146.5" y2="963.3" stroke="#262626" stroke-width="2"/>
<line x1="1283.5" y1="963.3" x2="1290.0" y2="963.3" stroke="#262626" stroke-width="2"/>
<line x1="140.0" y1="976.9" x2="146.5" y2="976.9" stroke="#262626" stroke-width="2"/>
<line x1="1283.5" y1="976.9" x2="1290.0" y2="976.9" stroke="#262626" stroke-width="2"/>
<line x1="140.0" y1="988.5" x2="146.5" y2="988.5" stroke="#262626" stroke-width="2"/>
<line x1="1283.5" y1="988.5" x2="1290.0" y2="988.5" stroke="#262626" stroke-width="2"/>
<line x1="140.0" y1="998.4" x2="146.5" y2="998.4" stroke="#262626" stroke-width="2"/>
<line x1="1283.5" y1="998.4" x2="1290.0" y2="998.4" stroke="#262626" stroke-width="2"/>
<line x1="140.0" y1="1007.2" x2="146.5" y2="1007.2" stroke="#262626" stroke-width="2"/>
<line x1="1283.5" y1="1007.2" x2="1290.0" y2="1007.2" stroke="#262626" stroke-width="2"/>
<line x1="140.0" y1="1066.9" x2="146.5" y2="1066.9" stroke="#262626" stroke-width="2"/>
<line x1="1283.5" y1="1066.9" x2="1290.0" y2="1066.9" stroke="#262626" stroke-width="2"/>
<line x1="140.0" y1="1097.2" x2="146.5" y2="1097.2" stroke="#262626" stroke-width="2"/>
<line x1="1283.5" y1="1097.2" x2="1290.0" y2="1097.2" stroke="#262626" stroke-width="2"/>
<line x1="140.0" y1="1118.2" x2="146.5" y2="1118.2" stroke="#262626" stroke-width="2"/>
<line x1="1283.5" y1="1118.2" x2="1290.0" y2="1118.2" stroke="#262626" stroke-width="2"/>
<text x="54.5" y="690.6" font-family="Liberation Sans, Arial, sans-serif" font-size="37.5" fill="#262626">10</text>
<text x="95.5" y="671.1" font-family="Liberation Sans, Arial, sans-serif" font-size="30" fill="#262626">-1</text>
<text x="64.0" y="862.6" font-family="Liberation Sans, Arial, sans-serif" font-size="37.5" fill="#262626">10</text>
<text x="105.8" y="843.6" font-family="Liberation Sans, Arial, sans-serif" font-size="30" fill="#262626">0</text>
<text x="64.0" y="1034.6" font-family="Liberation Sans, Arial, sans-serif" font-size="37.5" fill="#262626">10</text>
<text x="105.8" y="1015.6" font-family="Liberation Sans, Arial, sans-serif" font-size="30" fill="#262626">1</text>
<text transform="translate(36,894.7) rotate(-90)" font-family="Liberation Sans, Arial, sans-serif" font-size="41.3" fill="#262626" text-anchor="middle">Period [d]</text>
<rect x="1351.1" y="669.1" width="66.5" height="448.9" fill="url(#cmap)" stroke="#262626" stroke-width="2"/>
<text x="1432.9" y="1131.0" font-family="Liberation Sans, Arial, sans-serif" font-size="34" fill="#262626">0</text>
<line x1="1412.1" y1="1005.8" x2="1417.6" y2="1005.8" stroke="#262626" stroke-width="2"/>
<text x="1432.9" y="1018.8" font-family="Liberation Sans, Arial, sans-serif" font-size="34" fill="#262626">10</text>
<line x1="1412.1" y1="893.5" x2="1417.6" y2="893.5" stroke="#262626" stroke-width="2"/>
<text x="1432.9" y="906.5" font-family="Liberation Sans, Arial, sans-serif" font-size="34" fill="#262626">20</text>
<line x1="1412.1" y1="781.3" x2="1417.6" y2="781.3" stroke="#262626" stroke-width="2"/>
<text x="1432.9" y="794.3" font-family="Liberation Sans, Arial, sans-serif" font-size="34" fill="#262626">30</text>
<text x="1432.9" y="682.1" font-family="Liberation Sans, Arial, sans-serif" font-size="34" fill="#262626">40</text>
<text transform="translate(1516.6,895.0) rotate(-90)" font-family="Liberation Sans, Arial, sans-serif" font-size="33.9" fill="#262626" text-anchor="middle">Amplitude [cm/s]</text>
<text x="715" y="34.6" font-family="Liberation Sans, Arial, sans-serif" font-size="40.7" font-weight="bold" fill="#000" text-anchor="middle">3469260</text>
<text x="715" y="1233.5" font-family="Liberation Sans, Arial, sans-serif" font-size="41.3" fill="#262626" text-anchor="middle">Time [months of 2017]</text>
<text x="220.5" y="115.7" font-family="Liberation Sans, Arial, sans-serif" font-size="41.7" fill="#fff">Position</text>
<text x="220.6" y="739.0" font-family="Liberation Sans, Arial, sans-serif" font-size="42.2" fill="#fff">Velocity</text>

</svg>
</div></body></html>
